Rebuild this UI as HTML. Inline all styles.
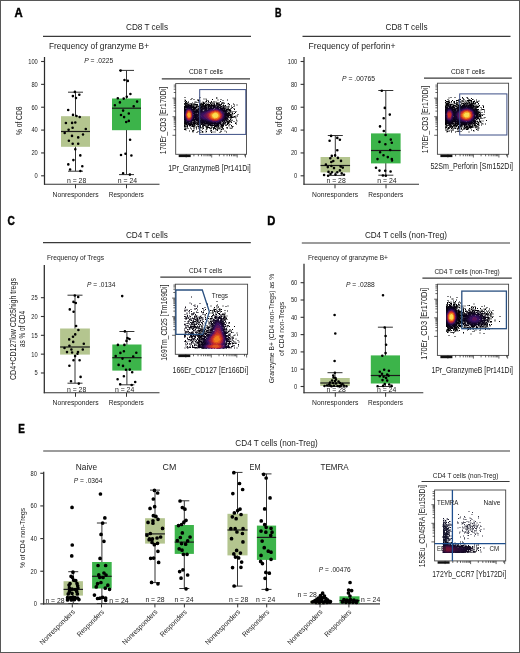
<!DOCTYPE html>
<html><head><meta charset="utf-8"><title>Figure</title>
<style>html,body{margin:0;padding:0;background:#fff;} body{width:520px;height:653px;overflow:hidden;font-family:"Liberation Sans", sans-serif;} svg{display:block;will-change:transform;}</style>
</head><body>
<svg width="520" height="653" viewBox="0 0 520 653" font-family='"Liberation Sans", sans-serif' fill="#222"><defs><filter id="bl" x="-50%" y="-50%" width="200%" height="200%"><feGaussianBlur stdDeviation="1.2"/></filter></defs>
<rect x="0.5" y="0.5" width="519" height="652" fill="none" stroke="#575757" stroke-width="1"/>
<text x="14.6" y="16.8" font-size="12" font-weight="bold" fill="#000" stroke="#000" stroke-width="0.45" textLength="8.2" lengthAdjust="spacingAndGlyphs">A</text>
<text x="274.9" y="16.8" font-size="12" font-weight="bold" fill="#000" stroke="#000" stroke-width="0.45" textLength="6.5" lengthAdjust="spacingAndGlyphs">B</text>
<text x="7.5" y="224.5" font-size="12" font-weight="bold" fill="#000" stroke="#000" stroke-width="0.45" textLength="7.3" lengthAdjust="spacingAndGlyphs">C</text>
<text x="267.2" y="224.5" font-size="12" font-weight="bold" fill="#000" stroke="#000" stroke-width="0.45" textLength="8.1" lengthAdjust="spacingAndGlyphs">D</text>
<text x="18.2" y="432.5" font-size="12" font-weight="bold" fill="#000" stroke="#000" stroke-width="0.45" textLength="6.6" lengthAdjust="spacingAndGlyphs">E</text>
<line x1="43.00" y1="36.40" x2="251.00" y2="36.40" stroke="#3a3a3a" stroke-width="1.2"/>
<text x="147.00" y="30.00" font-size="8.2" text-anchor="middle" textLength="42.00" lengthAdjust="spacingAndGlyphs">CD8 T cells</text>
<text x="49.00" y="49.40" font-size="8.4" textLength="100.00" lengthAdjust="spacingAndGlyphs">Frequency of granzyme B+</text>
<line x1="44.50" y1="57.00" x2="44.50" y2="184.80" stroke="#2a2a2a" stroke-width="1.25"/>
<line x1="41.10" y1="175.80" x2="44.50" y2="175.80" stroke="#333" stroke-width="1.1"/>
<text x="37.80" y="178.20" font-size="6.6" text-anchor="end" textLength="3.20" lengthAdjust="spacingAndGlyphs">0</text>
<line x1="41.10" y1="152.94" x2="44.50" y2="152.94" stroke="#333" stroke-width="1.1"/>
<text x="37.80" y="155.34" font-size="6.6" text-anchor="end" textLength="6.40" lengthAdjust="spacingAndGlyphs">20</text>
<line x1="41.10" y1="130.08" x2="44.50" y2="130.08" stroke="#333" stroke-width="1.1"/>
<text x="37.80" y="132.48" font-size="6.6" text-anchor="end" textLength="6.40" lengthAdjust="spacingAndGlyphs">40</text>
<line x1="41.10" y1="107.22" x2="44.50" y2="107.22" stroke="#333" stroke-width="1.1"/>
<text x="37.80" y="109.62" font-size="6.6" text-anchor="end" textLength="6.40" lengthAdjust="spacingAndGlyphs">60</text>
<line x1="41.10" y1="84.36" x2="44.50" y2="84.36" stroke="#333" stroke-width="1.1"/>
<text x="37.80" y="86.76" font-size="6.6" text-anchor="end" textLength="6.40" lengthAdjust="spacingAndGlyphs">80</text>
<line x1="41.10" y1="61.50" x2="44.50" y2="61.50" stroke="#333" stroke-width="1.1"/>
<text x="37.80" y="63.90" font-size="6.6" text-anchor="end" textLength="9.60" lengthAdjust="spacingAndGlyphs">100</text>
<line x1="44.00" y1="184.30" x2="159.50" y2="184.30" stroke="#333" stroke-width="1.1"/>
<line x1="75.50" y1="184.30" x2="75.50" y2="188.30" stroke="#333" stroke-width="1"/>
<line x1="126.50" y1="184.30" x2="126.50" y2="188.30" stroke="#333" stroke-width="1"/>
<text x="75.60" y="197.30" font-size="6.7" text-anchor="middle" textLength="46.20" lengthAdjust="spacingAndGlyphs">Nonresponders</text>
<text x="126.30" y="197.30" font-size="6.7" text-anchor="middle" textLength="35.00" lengthAdjust="spacingAndGlyphs">Responders</text>
<text x="22.10" y="120.80" font-size="9" text-anchor="middle" textLength="28.40" lengthAdjust="spacingAndGlyphs" transform="rotate(-90 22.10 120.80)">% of CD8</text>
<text x="84.20" y="63.30" font-size="6.8" textLength="29.00" lengthAdjust="spacingAndGlyphs"><tspan font-style="italic">P</tspan> = .0225</text>
<line x1="75.50" y1="92.20" x2="75.50" y2="171.20" stroke="#333" stroke-width="1"/>
<line x1="68.00" y1="92.20" x2="83.00" y2="92.20" stroke="#333" stroke-width="1"/>
<line x1="68.00" y1="171.20" x2="83.00" y2="171.20" stroke="#333" stroke-width="1"/>
<rect x="61.00" y="116.20" width="29.00" height="30.60" fill="#b4c58f"/>
<line x1="61.00" y1="131.50" x2="90.00" y2="131.50" stroke="#1a1a1a" stroke-width="1.2"/>
<line x1="126.50" y1="70.40" x2="126.50" y2="174.60" stroke="#333" stroke-width="1"/>
<line x1="119.00" y1="70.40" x2="134.00" y2="70.40" stroke="#333" stroke-width="1"/>
<line x1="119.00" y1="174.60" x2="134.00" y2="174.60" stroke="#333" stroke-width="1"/>
<rect x="112.00" y="98.50" width="29.00" height="31.70" fill="#3cb44a"/>
<line x1="112.00" y1="108.20" x2="141.00" y2="108.20" stroke="#1a1a1a" stroke-width="1.2"/>
<text x="76.60" y="182.80" font-size="6.8" text-anchor="middle" textLength="19.30" lengthAdjust="spacingAndGlyphs">n = 28</text>
<text x="127.50" y="182.80" font-size="6.8" text-anchor="middle" textLength="19.30" lengthAdjust="spacingAndGlyphs">n = 24</text>
<line x1="302.50" y1="36.40" x2="510.50" y2="36.40" stroke="#3a3a3a" stroke-width="1.2"/>
<text x="406.50" y="30.00" font-size="8.2" text-anchor="middle" textLength="42.00" lengthAdjust="spacingAndGlyphs">CD8 T cells</text>
<text x="308.50" y="49.40" font-size="8.4" textLength="87.00" lengthAdjust="spacingAndGlyphs">Frequency of perforin+</text>
<line x1="304.00" y1="57.00" x2="304.00" y2="184.80" stroke="#2a2a2a" stroke-width="1.25"/>
<line x1="300.60" y1="175.80" x2="304.00" y2="175.80" stroke="#333" stroke-width="1.1"/>
<text x="297.30" y="178.20" font-size="6.6" text-anchor="end" textLength="3.20" lengthAdjust="spacingAndGlyphs">0</text>
<line x1="300.60" y1="152.94" x2="304.00" y2="152.94" stroke="#333" stroke-width="1.1"/>
<text x="297.30" y="155.34" font-size="6.6" text-anchor="end" textLength="6.40" lengthAdjust="spacingAndGlyphs">20</text>
<line x1="300.60" y1="130.08" x2="304.00" y2="130.08" stroke="#333" stroke-width="1.1"/>
<text x="297.30" y="132.48" font-size="6.6" text-anchor="end" textLength="6.40" lengthAdjust="spacingAndGlyphs">40</text>
<line x1="300.60" y1="107.22" x2="304.00" y2="107.22" stroke="#333" stroke-width="1.1"/>
<text x="297.30" y="109.62" font-size="6.6" text-anchor="end" textLength="6.40" lengthAdjust="spacingAndGlyphs">60</text>
<line x1="300.60" y1="84.36" x2="304.00" y2="84.36" stroke="#333" stroke-width="1.1"/>
<text x="297.30" y="86.76" font-size="6.6" text-anchor="end" textLength="6.40" lengthAdjust="spacingAndGlyphs">80</text>
<line x1="300.60" y1="61.50" x2="304.00" y2="61.50" stroke="#333" stroke-width="1.1"/>
<text x="297.30" y="63.90" font-size="6.6" text-anchor="end" textLength="9.60" lengthAdjust="spacingAndGlyphs">100</text>
<line x1="303.50" y1="184.30" x2="419.00" y2="184.30" stroke="#333" stroke-width="1.1"/>
<line x1="335.00" y1="184.30" x2="335.00" y2="188.30" stroke="#333" stroke-width="1"/>
<line x1="386.00" y1="184.30" x2="386.00" y2="188.30" stroke="#333" stroke-width="1"/>
<text x="335.10" y="197.30" font-size="6.7" text-anchor="middle" textLength="46.20" lengthAdjust="spacingAndGlyphs">Nonresponders</text>
<text x="385.80" y="197.30" font-size="6.7" text-anchor="middle" textLength="35.00" lengthAdjust="spacingAndGlyphs">Responders</text>
<text x="281.60" y="120.80" font-size="9" text-anchor="middle" textLength="28.40" lengthAdjust="spacingAndGlyphs" transform="rotate(-90 281.60 120.80)">% of CD8</text>
<text x="342.00" y="80.50" font-size="6.8" textLength="33.00" lengthAdjust="spacingAndGlyphs"><tspan font-style="italic">P</tspan> = .00765</text>
<line x1="335.30" y1="135.50" x2="335.30" y2="175.40" stroke="#333" stroke-width="1"/>
<line x1="327.80" y1="135.50" x2="342.80" y2="135.50" stroke="#333" stroke-width="1"/>
<line x1="327.80" y1="175.40" x2="342.80" y2="175.40" stroke="#333" stroke-width="1"/>
<rect x="320.55" y="157.00" width="29.50" height="15.40" fill="#b4c58f"/>
<line x1="320.55" y1="165.50" x2="350.05" y2="165.50" stroke="#1a1a1a" stroke-width="1.2"/>
<line x1="385.80" y1="90.50" x2="385.80" y2="175.20" stroke="#333" stroke-width="1"/>
<line x1="378.30" y1="90.50" x2="393.30" y2="90.50" stroke="#333" stroke-width="1"/>
<line x1="378.30" y1="175.20" x2="393.30" y2="175.20" stroke="#333" stroke-width="1"/>
<rect x="371.00" y="133.40" width="29.60" height="30.00" fill="#3cb44a"/>
<line x1="371.00" y1="150.50" x2="400.60" y2="150.50" stroke="#1a1a1a" stroke-width="1.2"/>
<text x="336.10" y="182.80" font-size="6.8" text-anchor="middle" textLength="19.30" lengthAdjust="spacingAndGlyphs">n = 28</text>
<text x="387.00" y="182.80" font-size="6.8" text-anchor="middle" textLength="19.30" lengthAdjust="spacingAndGlyphs">n = 24</text>
<line x1="43.00" y1="242.60" x2="250.80" y2="242.60" stroke="#3a3a3a" stroke-width="1.2"/>
<text x="146.90" y="238.20" font-size="8.2" text-anchor="middle" textLength="42.00" lengthAdjust="spacingAndGlyphs">CD4 T cells</text>
<text x="47.00" y="259.60" font-size="6.6" textLength="57.00" lengthAdjust="spacingAndGlyphs">Frequency of Tregs</text>
<line x1="44.30" y1="265.00" x2="44.30" y2="393.30" stroke="#2a2a2a" stroke-width="1.25"/>
<line x1="40.90" y1="372.98" x2="44.30" y2="372.98" stroke="#333" stroke-width="1.1"/>
<text x="37.60" y="375.38" font-size="6.6" text-anchor="end" textLength="3.20" lengthAdjust="spacingAndGlyphs">5</text>
<line x1="40.90" y1="354.15" x2="44.30" y2="354.15" stroke="#333" stroke-width="1.1"/>
<text x="37.60" y="356.55" font-size="6.6" text-anchor="end" textLength="6.40" lengthAdjust="spacingAndGlyphs">10</text>
<line x1="40.90" y1="335.32" x2="44.30" y2="335.32" stroke="#333" stroke-width="1.1"/>
<text x="37.60" y="337.72" font-size="6.6" text-anchor="end" textLength="6.40" lengthAdjust="spacingAndGlyphs">15</text>
<line x1="40.90" y1="316.50" x2="44.30" y2="316.50" stroke="#333" stroke-width="1.1"/>
<text x="37.60" y="318.90" font-size="6.6" text-anchor="end" textLength="6.40" lengthAdjust="spacingAndGlyphs">20</text>
<line x1="40.90" y1="297.68" x2="44.30" y2="297.68" stroke="#333" stroke-width="1.1"/>
<text x="37.60" y="300.07" font-size="6.6" text-anchor="end" textLength="6.40" lengthAdjust="spacingAndGlyphs">25</text>
<line x1="43.80" y1="392.80" x2="159.50" y2="392.80" stroke="#333" stroke-width="1.1"/>
<line x1="75.50" y1="392.80" x2="75.50" y2="396.80" stroke="#333" stroke-width="1"/>
<line x1="126.50" y1="392.80" x2="126.50" y2="396.80" stroke="#333" stroke-width="1"/>
<text x="75.60" y="405.30" font-size="6.7" text-anchor="middle" textLength="46.20" lengthAdjust="spacingAndGlyphs">Nonresponders</text>
<text x="126.30" y="405.30" font-size="6.7" text-anchor="middle" textLength="35.00" lengthAdjust="spacingAndGlyphs">Responders</text>
<text x="16.10" y="329.00" font-size="8.2" text-anchor="middle" textLength="102.00" lengthAdjust="spacingAndGlyphs" transform="rotate(-90 16.10 329.00)">CD4+CD127low CD25high tregs</text>
<text x="25.30" y="329.00" font-size="8.2" text-anchor="middle" textLength="36.00" lengthAdjust="spacingAndGlyphs" transform="rotate(-90 25.30 329.00)">as % of CD4</text>
<text x="87.00" y="287.00" font-size="6.8" textLength="28.40" lengthAdjust="spacingAndGlyphs"><tspan font-style="italic">P</tspan> = .0134</text>
<line x1="75.00" y1="295.20" x2="75.00" y2="383.20" stroke="#333" stroke-width="1"/>
<line x1="67.50" y1="295.20" x2="82.50" y2="295.20" stroke="#333" stroke-width="1"/>
<line x1="67.50" y1="383.20" x2="82.50" y2="383.20" stroke="#333" stroke-width="1"/>
<rect x="60.10" y="328.50" width="29.80" height="26.10" fill="#b4c58f"/>
<line x1="60.10" y1="347.00" x2="89.90" y2="347.00" stroke="#1a1a1a" stroke-width="1.2"/>
<line x1="126.90" y1="331.50" x2="126.90" y2="384.80" stroke="#333" stroke-width="1"/>
<line x1="119.40" y1="331.50" x2="134.40" y2="331.50" stroke="#333" stroke-width="1"/>
<line x1="119.40" y1="384.80" x2="134.40" y2="384.80" stroke="#333" stroke-width="1"/>
<rect x="112.30" y="344.50" width="29.20" height="26.10" fill="#3cb44a"/>
<line x1="112.30" y1="357.70" x2="141.50" y2="357.70" stroke="#1a1a1a" stroke-width="1.2"/>
<text x="76.60" y="391.50" font-size="6.8" text-anchor="middle" textLength="19.30" lengthAdjust="spacingAndGlyphs">n = 28</text>
<text x="124.60" y="391.50" font-size="6.8" text-anchor="middle" textLength="19.30" lengthAdjust="spacingAndGlyphs">n = 24</text>
<line x1="301.80" y1="243.00" x2="510.00" y2="243.00" stroke="#3a3a3a" stroke-width="1.2"/>
<text x="405.90" y="238.20" font-size="8.2" text-anchor="middle" textLength="82.00" lengthAdjust="spacingAndGlyphs">CD4 T cells (non-Treg)</text>
<text x="308.00" y="260.20" font-size="6.6" textLength="80.00" lengthAdjust="spacingAndGlyphs">Frequency of granzyme B+</text>
<line x1="304.00" y1="263.80" x2="304.00" y2="393.30" stroke="#2a2a2a" stroke-width="1.25"/>
<line x1="300.60" y1="386.50" x2="304.00" y2="386.50" stroke="#333" stroke-width="1.1"/>
<text x="297.30" y="388.90" font-size="6.6" text-anchor="end" textLength="3.20" lengthAdjust="spacingAndGlyphs">0</text>
<line x1="300.60" y1="369.20" x2="304.00" y2="369.20" stroke="#333" stroke-width="1.1"/>
<text x="297.30" y="371.60" font-size="6.6" text-anchor="end" textLength="6.40" lengthAdjust="spacingAndGlyphs">10</text>
<line x1="300.60" y1="351.90" x2="304.00" y2="351.90" stroke="#333" stroke-width="1.1"/>
<text x="297.30" y="354.30" font-size="6.6" text-anchor="end" textLength="6.40" lengthAdjust="spacingAndGlyphs">20</text>
<line x1="300.60" y1="334.60" x2="304.00" y2="334.60" stroke="#333" stroke-width="1.1"/>
<text x="297.30" y="337.00" font-size="6.6" text-anchor="end" textLength="6.40" lengthAdjust="spacingAndGlyphs">30</text>
<line x1="300.60" y1="317.30" x2="304.00" y2="317.30" stroke="#333" stroke-width="1.1"/>
<text x="297.30" y="319.70" font-size="6.6" text-anchor="end" textLength="6.40" lengthAdjust="spacingAndGlyphs">40</text>
<line x1="300.60" y1="300.00" x2="304.00" y2="300.00" stroke="#333" stroke-width="1.1"/>
<text x="297.30" y="302.40" font-size="6.6" text-anchor="end" textLength="6.40" lengthAdjust="spacingAndGlyphs">50</text>
<line x1="300.60" y1="282.70" x2="304.00" y2="282.70" stroke="#333" stroke-width="1.1"/>
<text x="297.30" y="285.10" font-size="6.6" text-anchor="end" textLength="6.40" lengthAdjust="spacingAndGlyphs">60</text>
<line x1="303.50" y1="392.80" x2="423.30" y2="392.80" stroke="#333" stroke-width="1.1"/>
<line x1="335.30" y1="392.80" x2="335.30" y2="396.80" stroke="#333" stroke-width="1"/>
<line x1="385.60" y1="392.80" x2="385.60" y2="396.80" stroke="#333" stroke-width="1"/>
<text x="335.20" y="405.30" font-size="6.7" text-anchor="middle" textLength="46.40" lengthAdjust="spacingAndGlyphs">Nonresponders</text>
<text x="385.50" y="405.30" font-size="6.7" text-anchor="middle" textLength="35.00" lengthAdjust="spacingAndGlyphs">Responders</text>
<text x="274.40" y="328.50" font-size="7.6" text-anchor="middle" textLength="109.50" lengthAdjust="spacingAndGlyphs" transform="rotate(-90 274.40 328.50)">Granzyme B+ (CD4 non-Tregs) as %</text>
<text x="284.40" y="328.90" font-size="7.6" text-anchor="middle" textLength="54.00" lengthAdjust="spacingAndGlyphs" transform="rotate(-90 284.40 328.90)">of  CD4 non-Tregs</text>
<text x="346.00" y="287.30" font-size="6.8" textLength="28.80" lengthAdjust="spacingAndGlyphs"><tspan font-style="italic">P</tspan> = .0288</text>
<line x1="335.00" y1="372.70" x2="335.00" y2="386.50" stroke="#333" stroke-width="1"/>
<line x1="327.50" y1="372.70" x2="342.50" y2="372.70" stroke="#333" stroke-width="1"/>
<line x1="327.50" y1="386.50" x2="342.50" y2="386.50" stroke="#333" stroke-width="1"/>
<rect x="320.25" y="378.00" width="29.50" height="7.90" fill="#b4c58f"/>
<line x1="320.25" y1="383.00" x2="349.75" y2="383.00" stroke="#1a1a1a" stroke-width="1.2"/>
<line x1="385.40" y1="327.20" x2="385.40" y2="386.50" stroke="#333" stroke-width="1"/>
<line x1="377.90" y1="327.20" x2="392.90" y2="327.20" stroke="#333" stroke-width="1"/>
<line x1="377.90" y1="386.50" x2="392.90" y2="386.50" stroke="#333" stroke-width="1"/>
<rect x="370.80" y="355.40" width="29.20" height="28.10" fill="#3cb44a"/>
<line x1="370.80" y1="375.50" x2="400.00" y2="375.50" stroke="#1a1a1a" stroke-width="1.2"/>
<text x="336.20" y="392.20" font-size="6.8" text-anchor="middle" textLength="19.30" lengthAdjust="spacingAndGlyphs">n = 28</text>
<text x="386.60" y="392.20" font-size="6.8" text-anchor="middle" textLength="19.30" lengthAdjust="spacingAndGlyphs">n = 24</text>
<line x1="43.20" y1="451.00" x2="510.00" y2="451.00" stroke="#3a3a3a" stroke-width="1.2"/>
<text x="276.60" y="446.20" font-size="8.2" text-anchor="middle" textLength="82.50" lengthAdjust="spacingAndGlyphs">CD4 T cells (non-Treg)</text>
<line x1="43.70" y1="471.80" x2="43.70" y2="604.40" stroke="#2a2a2a" stroke-width="1.25"/>
<line x1="40.30" y1="603.90" x2="43.70" y2="603.90" stroke="#333" stroke-width="1.1"/>
<text x="37.00" y="606.30" font-size="6.6" text-anchor="end" textLength="3.20" lengthAdjust="spacingAndGlyphs">0</text>
<line x1="40.30" y1="571.24" x2="43.70" y2="571.24" stroke="#333" stroke-width="1.1"/>
<text x="37.00" y="573.64" font-size="6.6" text-anchor="end" textLength="6.40" lengthAdjust="spacingAndGlyphs">20</text>
<line x1="40.30" y1="538.58" x2="43.70" y2="538.58" stroke="#333" stroke-width="1.1"/>
<text x="37.00" y="540.98" font-size="6.6" text-anchor="end" textLength="6.40" lengthAdjust="spacingAndGlyphs">40</text>
<line x1="40.30" y1="505.92" x2="43.70" y2="505.92" stroke="#333" stroke-width="1.1"/>
<text x="37.00" y="508.32" font-size="6.6" text-anchor="end" textLength="6.40" lengthAdjust="spacingAndGlyphs">60</text>
<line x1="40.30" y1="473.26" x2="43.70" y2="473.26" stroke="#333" stroke-width="1.1"/>
<text x="37.00" y="475.66" font-size="6.6" text-anchor="end" textLength="6.40" lengthAdjust="spacingAndGlyphs">80</text>
<line x1="43.20" y1="603.90" x2="380.00" y2="603.90" stroke="#333" stroke-width="1.1"/>
<text x="86.40" y="470.30" font-size="8.2" text-anchor="middle" textLength="21.30" lengthAdjust="spacingAndGlyphs">Naive</text>
<text x="169.40" y="470.30" font-size="8.2" text-anchor="middle" textLength="13.70" lengthAdjust="spacingAndGlyphs">CM</text>
<text x="255.00" y="470.30" font-size="8.2" text-anchor="middle" textLength="11.00" lengthAdjust="spacingAndGlyphs">EM</text>
<text x="334.60" y="470.30" font-size="8.2" text-anchor="middle" textLength="28.25" lengthAdjust="spacingAndGlyphs">TEMRA</text>
<line x1="72.30" y1="603.90" x2="72.30" y2="607.40" stroke="#333" stroke-width="1"/>
<text x="75.30" y="612.40" font-size="7.1" text-anchor="end" textLength="46.40" lengthAdjust="spacingAndGlyphs" transform="rotate(-45 75.30 612.40)">Nonresponders</text>
<line x1="101.50" y1="603.90" x2="101.50" y2="607.40" stroke="#333" stroke-width="1"/>
<text x="104.50" y="612.40" font-size="7.1" text-anchor="end" textLength="35.00" lengthAdjust="spacingAndGlyphs" transform="rotate(-45 104.50 612.40)">Responders</text>
<line x1="154.90" y1="603.90" x2="154.90" y2="607.40" stroke="#333" stroke-width="1"/>
<text x="157.90" y="612.40" font-size="7.1" text-anchor="end" textLength="46.40" lengthAdjust="spacingAndGlyphs" transform="rotate(-45 157.90 612.40)">Nonresponders</text>
<line x1="184.40" y1="603.90" x2="184.40" y2="607.40" stroke="#333" stroke-width="1"/>
<text x="187.40" y="612.40" font-size="7.1" text-anchor="end" textLength="35.00" lengthAdjust="spacingAndGlyphs" transform="rotate(-45 187.40 612.40)">Responders</text>
<line x1="237.70" y1="603.90" x2="237.70" y2="607.40" stroke="#333" stroke-width="1"/>
<text x="240.70" y="612.40" font-size="7.1" text-anchor="end" textLength="46.40" lengthAdjust="spacingAndGlyphs" transform="rotate(-45 240.70 612.40)">Nonresponders</text>
<line x1="266.70" y1="603.90" x2="266.70" y2="607.40" stroke="#333" stroke-width="1"/>
<text x="269.70" y="612.40" font-size="7.1" text-anchor="end" textLength="35.00" lengthAdjust="spacingAndGlyphs" transform="rotate(-45 269.70 612.40)">Responders</text>
<line x1="320.00" y1="603.90" x2="320.00" y2="607.40" stroke="#333" stroke-width="1"/>
<text x="323.00" y="612.40" font-size="7.1" text-anchor="end" textLength="46.40" lengthAdjust="spacingAndGlyphs" transform="rotate(-45 323.00 612.40)">Nonresponders</text>
<line x1="348.90" y1="603.90" x2="348.90" y2="607.40" stroke="#333" stroke-width="1"/>
<text x="351.90" y="612.40" font-size="7.1" text-anchor="end" textLength="35.00" lengthAdjust="spacingAndGlyphs" transform="rotate(-45 351.90 612.40)">Responders</text>
<text x="24.60" y="538.00" font-size="7.6" text-anchor="middle" textLength="60.00" lengthAdjust="spacingAndGlyphs" transform="rotate(-90 24.60 538.00)">% of CD4 non-Tregs</text>
<text x="73.80" y="483.40" font-size="6.8" textLength="28.60" lengthAdjust="spacingAndGlyphs"><tspan font-style="italic">P</tspan> = .0364</text>
<text x="318.75" y="571.80" font-size="6.8" textLength="32.00" lengthAdjust="spacingAndGlyphs"><tspan font-style="italic">P</tspan> = .00476</text>
<line x1="73.25" y1="571.70" x2="73.25" y2="603.50" stroke="#333" stroke-width="1"/>
<line x1="68.25" y1="571.70" x2="78.25" y2="571.70" stroke="#333" stroke-width="1"/>
<line x1="68.25" y1="603.50" x2="78.25" y2="603.50" stroke="#333" stroke-width="1"/>
<rect x="63.55" y="581.20" width="19.40" height="14.40" fill="#b4c58f"/>
<line x1="63.55" y1="589.40" x2="82.95" y2="589.40" stroke="#1a1a1a" stroke-width="1.2"/>
<line x1="101.90" y1="523.00" x2="101.90" y2="603.50" stroke="#333" stroke-width="1"/>
<line x1="96.90" y1="523.00" x2="106.90" y2="523.00" stroke="#333" stroke-width="1"/>
<line x1="96.90" y1="603.50" x2="106.90" y2="603.50" stroke="#333" stroke-width="1"/>
<rect x="92.10" y="562.00" width="19.60" height="26.50" fill="#3cb44a"/>
<line x1="92.10" y1="576.30" x2="111.70" y2="576.30" stroke="#1a1a1a" stroke-width="1.2"/>
<line x1="155.00" y1="490.10" x2="155.00" y2="582.60" stroke="#333" stroke-width="1"/>
<line x1="150.00" y1="490.10" x2="160.00" y2="490.10" stroke="#333" stroke-width="1"/>
<line x1="150.00" y1="582.60" x2="160.00" y2="582.60" stroke="#333" stroke-width="1"/>
<rect x="145.10" y="518.20" width="19.80" height="25.40" fill="#b4c58f"/>
<line x1="145.10" y1="533.90" x2="164.90" y2="533.90" stroke="#1a1a1a" stroke-width="1.2"/>
<line x1="184.30" y1="500.80" x2="184.30" y2="588.50" stroke="#333" stroke-width="1"/>
<line x1="179.30" y1="500.80" x2="189.30" y2="500.80" stroke="#333" stroke-width="1"/>
<line x1="179.30" y1="588.50" x2="189.30" y2="588.50" stroke="#333" stroke-width="1"/>
<rect x="174.70" y="525.00" width="19.20" height="28.90" fill="#3cb44a"/>
<line x1="174.70" y1="542.10" x2="193.90" y2="542.10" stroke="#1a1a1a" stroke-width="1.2"/>
<line x1="237.50" y1="472.40" x2="237.50" y2="586.10" stroke="#333" stroke-width="1"/>
<line x1="232.50" y1="472.40" x2="242.50" y2="472.40" stroke="#333" stroke-width="1"/>
<line x1="232.50" y1="586.10" x2="242.50" y2="586.10" stroke="#333" stroke-width="1"/>
<rect x="227.45" y="513.80" width="20.10" height="41.60" fill="#b4c58f"/>
<line x1="227.45" y1="530.00" x2="247.55" y2="530.00" stroke="#1a1a1a" stroke-width="1.2"/>
<line x1="266.50" y1="473.90" x2="266.50" y2="589.40" stroke="#333" stroke-width="1"/>
<line x1="261.50" y1="473.90" x2="271.50" y2="473.90" stroke="#333" stroke-width="1"/>
<line x1="261.50" y1="589.40" x2="271.50" y2="589.40" stroke="#333" stroke-width="1"/>
<rect x="256.90" y="525.60" width="19.20" height="34.30" fill="#3cb44a"/>
<line x1="256.90" y1="537.40" x2="276.10" y2="537.40" stroke="#1a1a1a" stroke-width="1.2"/>
<line x1="320.20" y1="598.00" x2="320.20" y2="603.90" stroke="#333" stroke-width="1"/>
<line x1="315.20" y1="598.00" x2="325.20" y2="598.00" stroke="#333" stroke-width="1"/>
<line x1="315.20" y1="603.90" x2="325.20" y2="603.90" stroke="#333" stroke-width="1"/>
<rect x="310.40" y="600.50" width="19.60" height="2.90" fill="#b4c58f"/>
<line x1="310.40" y1="602.00" x2="330.00" y2="602.00" stroke="#1a1a1a" stroke-width="1.2"/>
<line x1="349.50" y1="596.30" x2="349.50" y2="603.90" stroke="#333" stroke-width="1"/>
<line x1="349.50" y1="596.30" x2="349.50" y2="596.30" stroke="#333" stroke-width="1"/>
<line x1="349.50" y1="603.90" x2="349.50" y2="603.90" stroke="#333" stroke-width="1"/>
<rect x="339.50" y="596.30" width="20.00" height="7.10" fill="#3cb44a"/>
<line x1="339.50" y1="600.50" x2="359.50" y2="600.50" stroke="#1a1a1a" stroke-width="1.2"/>
<text x="55.00" y="602.60" font-size="6.8" text-anchor="middle" textLength="19.20" lengthAdjust="spacingAndGlyphs">n = 28</text>
<text x="118.90" y="602.60" font-size="6.8" text-anchor="middle" textLength="19.20" lengthAdjust="spacingAndGlyphs">n = 24</text>
<text x="155.00" y="601.60" font-size="6.8" text-anchor="middle" textLength="19.20" lengthAdjust="spacingAndGlyphs">n = 28</text>
<text x="184.00" y="601.60" font-size="6.8" text-anchor="middle" textLength="19.20" lengthAdjust="spacingAndGlyphs">n = 24</text>
<text x="238.60" y="601.60" font-size="6.8" text-anchor="middle" textLength="19.20" lengthAdjust="spacingAndGlyphs">n = 28</text>
<text x="265.60" y="601.60" font-size="6.8" text-anchor="middle" textLength="19.20" lengthAdjust="spacingAndGlyphs">n = 24</text>
<text x="307.20" y="596.70" font-size="6.8" text-anchor="middle" textLength="19.20" lengthAdjust="spacingAndGlyphs">n = 28</text>
<text x="370.60" y="602.20" font-size="6.8" text-anchor="middle" textLength="19.20" lengthAdjust="spacingAndGlyphs">n = 24</text>
<path d="M73.6 91.9a1.3 1.3 0 1 0 2.60 0a1.3 1.3 0 1 0 -2.60 0M78.0 94.7a1.3 1.3 0 1 0 2.60 0a1.3 1.3 0 1 0 -2.60 0M71.6 96.1a1.3 1.3 0 1 0 2.60 0a1.3 1.3 0 1 0 -2.60 0M74.7 98.0a1.3 1.3 0 1 0 2.60 0a1.3 1.3 0 1 0 -2.60 0M66.9 110.0a1.3 1.3 0 1 0 2.60 0a1.3 1.3 0 1 0 -2.60 0M71.7 114.9a1.3 1.3 0 1 0 2.60 0a1.3 1.3 0 1 0 -2.60 0M75.2 116.0a1.3 1.3 0 1 0 2.60 0a1.3 1.3 0 1 0 -2.60 0M78.4 117.0a1.3 1.3 0 1 0 2.60 0a1.3 1.3 0 1 0 -2.60 0M64.6 123.0a1.3 1.3 0 1 0 2.60 0a1.3 1.3 0 1 0 -2.60 0M70.8 122.9a1.3 1.3 0 1 0 2.60 0a1.3 1.3 0 1 0 -2.60 0M74.0 122.5a1.3 1.3 0 1 0 2.60 0a1.3 1.3 0 1 0 -2.60 0M71.3 127.8a1.3 1.3 0 1 0 2.60 0a1.3 1.3 0 1 0 -2.60 0M67.3 129.8a1.3 1.3 0 1 0 2.60 0a1.3 1.3 0 1 0 -2.60 0M84.5 129.0a1.3 1.3 0 1 0 2.60 0a1.3 1.3 0 1 0 -2.60 0M63.4 133.0a1.3 1.3 0 1 0 2.60 0a1.3 1.3 0 1 0 -2.60 0M81.7 134.5a1.3 1.3 0 1 0 2.60 0a1.3 1.3 0 1 0 -2.60 0M70.7 135.9a1.3 1.3 0 1 0 2.60 0a1.3 1.3 0 1 0 -2.60 0M76.9 137.4a1.3 1.3 0 1 0 2.60 0a1.3 1.3 0 1 0 -2.60 0M67.6 140.7a1.3 1.3 0 1 0 2.60 0a1.3 1.3 0 1 0 -2.60 0M71.4 143.8a1.3 1.3 0 1 0 2.60 0a1.3 1.3 0 1 0 -2.60 0M76.9 143.8a1.3 1.3 0 1 0 2.60 0a1.3 1.3 0 1 0 -2.60 0M74.0 149.3a1.3 1.3 0 1 0 2.60 0a1.3 1.3 0 1 0 -2.60 0M79.0 155.4a1.3 1.3 0 1 0 2.60 0a1.3 1.3 0 1 0 -2.60 0M72.1 160.1a1.3 1.3 0 1 0 2.60 0a1.3 1.3 0 1 0 -2.60 0M67.0 164.4a1.3 1.3 0 1 0 2.60 0a1.3 1.3 0 1 0 -2.60 0M81.0 166.2a1.3 1.3 0 1 0 2.60 0a1.3 1.3 0 1 0 -2.60 0M68.8 169.5a1.3 1.3 0 1 0 2.60 0a1.3 1.3 0 1 0 -2.60 0M79.1 171.0a1.3 1.3 0 1 0 2.60 0a1.3 1.3 0 1 0 -2.60 0" fill="#000"/>
<path d="M119.3 70.6a1.3 1.3 0 1 0 2.60 0a1.3 1.3 0 1 0 -2.60 0M123.2 80.0a1.3 1.3 0 1 0 2.60 0a1.3 1.3 0 1 0 -2.60 0M126.5 80.9a1.3 1.3 0 1 0 2.60 0a1.3 1.3 0 1 0 -2.60 0M129.1 94.0a1.3 1.3 0 1 0 2.60 0a1.3 1.3 0 1 0 -2.60 0M125.5 96.8a1.3 1.3 0 1 0 2.60 0a1.3 1.3 0 1 0 -2.60 0M116.5 98.2a1.3 1.3 0 1 0 2.60 0a1.3 1.3 0 1 0 -2.60 0M122.4 98.6a1.3 1.3 0 1 0 2.60 0a1.3 1.3 0 1 0 -2.60 0M118.6 102.4a1.3 1.3 0 1 0 2.60 0a1.3 1.3 0 1 0 -2.60 0M135.8 101.6a1.3 1.3 0 1 0 2.60 0a1.3 1.3 0 1 0 -2.60 0M113.6 105.3a1.3 1.3 0 1 0 2.60 0a1.3 1.3 0 1 0 -2.60 0M132.4 106.2a1.3 1.3 0 1 0 2.60 0a1.3 1.3 0 1 0 -2.60 0M121.8 110.6a1.3 1.3 0 1 0 2.60 0a1.3 1.3 0 1 0 -2.60 0M127.5 113.5a1.3 1.3 0 1 0 2.60 0a1.3 1.3 0 1 0 -2.60 0M119.7 115.0a1.3 1.3 0 1 0 2.60 0a1.3 1.3 0 1 0 -2.60 0M122.8 117.1a1.3 1.3 0 1 0 2.60 0a1.3 1.3 0 1 0 -2.60 0M124.9 122.0a1.3 1.3 0 1 0 2.60 0a1.3 1.3 0 1 0 -2.60 0M127.5 120.9a1.3 1.3 0 1 0 2.60 0a1.3 1.3 0 1 0 -2.60 0M128.8 139.7a1.3 1.3 0 1 0 2.60 0a1.3 1.3 0 1 0 -2.60 0M119.7 155.0a1.3 1.3 0 1 0 2.60 0a1.3 1.3 0 1 0 -2.60 0M124.2 153.8a1.3 1.3 0 1 0 2.60 0a1.3 1.3 0 1 0 -2.60 0M130.1 155.5a1.3 1.3 0 1 0 2.60 0a1.3 1.3 0 1 0 -2.60 0M121.8 173.3a1.3 1.3 0 1 0 2.60 0a1.3 1.3 0 1 0 -2.60 0M128.6 174.6a1.3 1.3 0 1 0 2.60 0a1.3 1.3 0 1 0 -2.60 0" fill="#000"/>
<path d="M329.8 135.9a1.3 1.3 0 1 0 2.60 0a1.3 1.3 0 1 0 -2.60 0M336.0 137.9a1.3 1.3 0 1 0 2.60 0a1.3 1.3 0 1 0 -2.60 0M338.6 139.7a1.3 1.3 0 1 0 2.60 0a1.3 1.3 0 1 0 -2.60 0M328.3 140.7a1.3 1.3 0 1 0 2.60 0a1.3 1.3 0 1 0 -2.60 0M336.0 150.2a1.3 1.3 0 1 0 2.60 0a1.3 1.3 0 1 0 -2.60 0M330.5 155.9a1.3 1.3 0 1 0 2.60 0a1.3 1.3 0 1 0 -2.60 0M333.8 155.4a1.3 1.3 0 1 0 2.60 0a1.3 1.3 0 1 0 -2.60 0M329.0 158.3a1.3 1.3 0 1 0 2.60 0a1.3 1.3 0 1 0 -2.60 0M336.6 157.9a1.3 1.3 0 1 0 2.60 0a1.3 1.3 0 1 0 -2.60 0M330.0 162.0a1.3 1.3 0 1 0 2.60 0a1.3 1.3 0 1 0 -2.60 0M332.0 161.0a1.3 1.3 0 1 0 2.60 0a1.3 1.3 0 1 0 -2.60 0M339.7 160.9a1.3 1.3 0 1 0 2.60 0a1.3 1.3 0 1 0 -2.60 0M324.6 164.6a1.3 1.3 0 1 0 2.60 0a1.3 1.3 0 1 0 -2.60 0M326.5 167.1a1.3 1.3 0 1 0 2.60 0a1.3 1.3 0 1 0 -2.60 0M330.1 166.0a1.3 1.3 0 1 0 2.60 0a1.3 1.3 0 1 0 -2.60 0M332.7 168.1a1.3 1.3 0 1 0 2.60 0a1.3 1.3 0 1 0 -2.60 0M339.3 166.4a1.3 1.3 0 1 0 2.60 0a1.3 1.3 0 1 0 -2.60 0M341.5 167.6a1.3 1.3 0 1 0 2.60 0a1.3 1.3 0 1 0 -2.60 0M327.2 171.9a1.3 1.3 0 1 0 2.60 0a1.3 1.3 0 1 0 -2.60 0M330.7 172.3a1.3 1.3 0 1 0 2.60 0a1.3 1.3 0 1 0 -2.60 0M336.0 172.3a1.3 1.3 0 1 0 2.60 0a1.3 1.3 0 1 0 -2.60 0M338.6 170.4a1.3 1.3 0 1 0 2.60 0a1.3 1.3 0 1 0 -2.60 0M340.4 173.4a1.3 1.3 0 1 0 2.60 0a1.3 1.3 0 1 0 -2.60 0M322.8 175.0a1.3 1.3 0 1 0 2.60 0a1.3 1.3 0 1 0 -2.60 0M326.8 175.7a1.3 1.3 0 1 0 2.60 0a1.3 1.3 0 1 0 -2.60 0M334.2 174.6a1.3 1.3 0 1 0 2.60 0a1.3 1.3 0 1 0 -2.60 0M342.7 174.8a1.3 1.3 0 1 0 2.60 0a1.3 1.3 0 1 0 -2.60 0M329.2 174.0a1.3 1.3 0 1 0 2.60 0a1.3 1.3 0 1 0 -2.60 0" fill="#000"/>
<path d="M380.5 90.8a1.3 1.3 0 1 0 2.60 0a1.3 1.3 0 1 0 -2.60 0M383.5 107.9a1.3 1.3 0 1 0 2.60 0a1.3 1.3 0 1 0 -2.60 0M388.5 114.6a1.3 1.3 0 1 0 2.60 0a1.3 1.3 0 1 0 -2.60 0M382.4 118.2a1.3 1.3 0 1 0 2.60 0a1.3 1.3 0 1 0 -2.60 0M378.7 126.4a1.3 1.3 0 1 0 2.60 0a1.3 1.3 0 1 0 -2.60 0M382.5 131.0a1.3 1.3 0 1 0 2.60 0a1.3 1.3 0 1 0 -2.60 0M384.3 135.0a1.3 1.3 0 1 0 2.60 0a1.3 1.3 0 1 0 -2.60 0M389.5 139.6a1.3 1.3 0 1 0 2.60 0a1.3 1.3 0 1 0 -2.60 0M378.2 141.9a1.3 1.3 0 1 0 2.60 0a1.3 1.3 0 1 0 -2.60 0M390.5 142.7a1.3 1.3 0 1 0 2.60 0a1.3 1.3 0 1 0 -2.60 0M384.1 144.2a1.3 1.3 0 1 0 2.60 0a1.3 1.3 0 1 0 -2.60 0M388.9 150.0a1.3 1.3 0 1 0 2.60 0a1.3 1.3 0 1 0 -2.60 0M378.8 152.3a1.3 1.3 0 1 0 2.60 0a1.3 1.3 0 1 0 -2.60 0M382.2 155.2a1.3 1.3 0 1 0 2.60 0a1.3 1.3 0 1 0 -2.60 0M386.5 157.1a1.3 1.3 0 1 0 2.60 0a1.3 1.3 0 1 0 -2.60 0M376.2 159.1a1.3 1.3 0 1 0 2.60 0a1.3 1.3 0 1 0 -2.60 0M390.5 159.1a1.3 1.3 0 1 0 2.60 0a1.3 1.3 0 1 0 -2.60 0M390.7 160.5a1.3 1.3 0 1 0 2.60 0a1.3 1.3 0 1 0 -2.60 0M374.7 167.8a1.3 1.3 0 1 0 2.60 0a1.3 1.3 0 1 0 -2.60 0M378.2 170.6a1.3 1.3 0 1 0 2.60 0a1.3 1.3 0 1 0 -2.60 0M383.9 170.8a1.3 1.3 0 1 0 2.60 0a1.3 1.3 0 1 0 -2.60 0M389.3 171.5a1.3 1.3 0 1 0 2.60 0a1.3 1.3 0 1 0 -2.60 0M381.6 175.5a1.3 1.3 0 1 0 2.60 0a1.3 1.3 0 1 0 -2.60 0M384.5 175.8a1.3 1.3 0 1 0 2.60 0a1.3 1.3 0 1 0 -2.60 0" fill="#000"/>
<path d="M73.5 295.5a1.3 1.3 0 1 0 2.60 0a1.3 1.3 0 1 0 -2.60 0M76.9 297.0a1.3 1.3 0 1 0 2.60 0a1.3 1.3 0 1 0 -2.60 0M72.2 301.9a1.3 1.3 0 1 0 2.60 0a1.3 1.3 0 1 0 -2.60 0M74.5 303.0a1.3 1.3 0 1 0 2.60 0a1.3 1.3 0 1 0 -2.60 0M68.5 309.4a1.3 1.3 0 1 0 2.60 0a1.3 1.3 0 1 0 -2.60 0M72.3 311.8a1.3 1.3 0 1 0 2.60 0a1.3 1.3 0 1 0 -2.60 0M74.8 326.0a1.3 1.3 0 1 0 2.60 0a1.3 1.3 0 1 0 -2.60 0M77.1 330.0a1.3 1.3 0 1 0 2.60 0a1.3 1.3 0 1 0 -2.60 0M73.9 334.4a1.3 1.3 0 1 0 2.60 0a1.3 1.3 0 1 0 -2.60 0M71.7 336.7a1.3 1.3 0 1 0 2.60 0a1.3 1.3 0 1 0 -2.60 0M67.9 339.4a1.3 1.3 0 1 0 2.60 0a1.3 1.3 0 1 0 -2.60 0M71.9 341.9a1.3 1.3 0 1 0 2.60 0a1.3 1.3 0 1 0 -2.60 0M82.5 343.8a1.3 1.3 0 1 0 2.60 0a1.3 1.3 0 1 0 -2.60 0M68.1 345.7a1.3 1.3 0 1 0 2.60 0a1.3 1.3 0 1 0 -2.60 0M63.2 348.0a1.3 1.3 0 1 0 2.60 0a1.3 1.3 0 1 0 -2.60 0M70.1 349.5a1.3 1.3 0 1 0 2.60 0a1.3 1.3 0 1 0 -2.60 0M81.5 349.5a1.3 1.3 0 1 0 2.60 0a1.3 1.3 0 1 0 -2.60 0M65.7 352.1a1.3 1.3 0 1 0 2.60 0a1.3 1.3 0 1 0 -2.60 0M70.8 352.5a1.3 1.3 0 1 0 2.60 0a1.3 1.3 0 1 0 -2.60 0M76.7 352.1a1.3 1.3 0 1 0 2.60 0a1.3 1.3 0 1 0 -2.60 0M76.2 353.7a1.3 1.3 0 1 0 2.60 0a1.3 1.3 0 1 0 -2.60 0M73.8 356.1a1.3 1.3 0 1 0 2.60 0a1.3 1.3 0 1 0 -2.60 0M72.2 360.2a1.3 1.3 0 1 0 2.60 0a1.3 1.3 0 1 0 -2.60 0M78.3 360.2a1.3 1.3 0 1 0 2.60 0a1.3 1.3 0 1 0 -2.60 0M68.1 365.7a1.3 1.3 0 1 0 2.60 0a1.3 1.3 0 1 0 -2.60 0M79.3 376.9a1.3 1.3 0 1 0 2.60 0a1.3 1.3 0 1 0 -2.60 0M69.7 381.3a1.3 1.3 0 1 0 2.60 0a1.3 1.3 0 1 0 -2.60 0M77.5 383.6a1.3 1.3 0 1 0 2.60 0a1.3 1.3 0 1 0 -2.60 0" fill="#000"/>
<path d="M120.9 296.1a1.3 1.3 0 1 0 2.60 0a1.3 1.3 0 1 0 -2.60 0M123.6 331.4a1.3 1.3 0 1 0 2.60 0a1.3 1.3 0 1 0 -2.60 0M126.2 338.1a1.3 1.3 0 1 0 2.60 0a1.3 1.3 0 1 0 -2.60 0M128.2 339.0a1.3 1.3 0 1 0 2.60 0a1.3 1.3 0 1 0 -2.60 0M125.2 340.9a1.3 1.3 0 1 0 2.60 0a1.3 1.3 0 1 0 -2.60 0M116.6 344.9a1.3 1.3 0 1 0 2.60 0a1.3 1.3 0 1 0 -2.60 0M123.1 344.9a1.3 1.3 0 1 0 2.60 0a1.3 1.3 0 1 0 -2.60 0M122.6 351.3a1.3 1.3 0 1 0 2.60 0a1.3 1.3 0 1 0 -2.60 0M119.1 352.9a1.3 1.3 0 1 0 2.60 0a1.3 1.3 0 1 0 -2.60 0M135.0 352.7a1.3 1.3 0 1 0 2.60 0a1.3 1.3 0 1 0 -2.60 0M114.4 356.1a1.3 1.3 0 1 0 2.60 0a1.3 1.3 0 1 0 -2.60 0M131.9 356.5a1.3 1.3 0 1 0 2.60 0a1.3 1.3 0 1 0 -2.60 0M121.2 358.6a1.3 1.3 0 1 0 2.60 0a1.3 1.3 0 1 0 -2.60 0M128.5 361.0a1.3 1.3 0 1 0 2.60 0a1.3 1.3 0 1 0 -2.60 0M117.3 364.9a1.3 1.3 0 1 0 2.60 0a1.3 1.3 0 1 0 -2.60 0M121.7 365.9a1.3 1.3 0 1 0 2.60 0a1.3 1.3 0 1 0 -2.60 0M124.7 369.8a1.3 1.3 0 1 0 2.60 0a1.3 1.3 0 1 0 -2.60 0M128.5 369.6a1.3 1.3 0 1 0 2.60 0a1.3 1.3 0 1 0 -2.60 0M130.9 372.2a1.3 1.3 0 1 0 2.60 0a1.3 1.3 0 1 0 -2.60 0M122.6 376.3a1.3 1.3 0 1 0 2.60 0a1.3 1.3 0 1 0 -2.60 0M116.3 379.3a1.3 1.3 0 1 0 2.60 0a1.3 1.3 0 1 0 -2.60 0M133.9 382.0a1.3 1.3 0 1 0 2.60 0a1.3 1.3 0 1 0 -2.60 0M118.9 384.2a1.3 1.3 0 1 0 2.60 0a1.3 1.3 0 1 0 -2.60 0M130.4 385.0a1.3 1.3 0 1 0 2.60 0a1.3 1.3 0 1 0 -2.60 0" fill="#000"/>
<path d="M333.3 315.0a1.3 1.3 0 1 0 2.60 0a1.3 1.3 0 1 0 -2.60 0M334.0 333.5a1.3 1.3 0 1 0 2.60 0a1.3 1.3 0 1 0 -2.60 0M333.3 361.0a1.3 1.3 0 1 0 2.60 0a1.3 1.3 0 1 0 -2.60 0M333.6 372.8a1.3 1.3 0 1 0 2.60 0a1.3 1.3 0 1 0 -2.60 0M331.9 375.5a1.3 1.3 0 1 0 2.60 0a1.3 1.3 0 1 0 -2.60 0M334.2 378.0a1.3 1.3 0 1 0 2.60 0a1.3 1.3 0 1 0 -2.60 0M334.7 379.5a1.3 1.3 0 1 0 2.60 0a1.3 1.3 0 1 0 -2.60 0M332.2 377.5a1.3 1.3 0 1 0 2.60 0a1.3 1.3 0 1 0 -2.60 0M330.7 380.5a1.3 1.3 0 1 0 2.60 0a1.3 1.3 0 1 0 -2.60 0M333.7 381.0a1.3 1.3 0 1 0 2.60 0a1.3 1.3 0 1 0 -2.60 0M337.2 381.5a1.3 1.3 0 1 0 2.60 0a1.3 1.3 0 1 0 -2.60 0M328.7 382.5a1.3 1.3 0 1 0 2.60 0a1.3 1.3 0 1 0 -2.60 0M331.7 383.0a1.3 1.3 0 1 0 2.60 0a1.3 1.3 0 1 0 -2.60 0M334.7 383.5a1.3 1.3 0 1 0 2.60 0a1.3 1.3 0 1 0 -2.60 0M338.7 383.0a1.3 1.3 0 1 0 2.60 0a1.3 1.3 0 1 0 -2.60 0M325.7 385.5a1.3 1.3 0 1 0 2.60 0a1.3 1.3 0 1 0 -2.60 0M329.2 385.5a1.3 1.3 0 1 0 2.60 0a1.3 1.3 0 1 0 -2.60 0M332.7 385.8a1.3 1.3 0 1 0 2.60 0a1.3 1.3 0 1 0 -2.60 0M336.2 386.0a1.3 1.3 0 1 0 2.60 0a1.3 1.3 0 1 0 -2.60 0M339.7 385.5a1.3 1.3 0 1 0 2.60 0a1.3 1.3 0 1 0 -2.60 0M342.7 385.8a1.3 1.3 0 1 0 2.60 0a1.3 1.3 0 1 0 -2.60 0M327.7 384.5a1.3 1.3 0 1 0 2.60 0a1.3 1.3 0 1 0 -2.60 0M341.2 384.0a1.3 1.3 0 1 0 2.60 0a1.3 1.3 0 1 0 -2.60 0M323.2 386.0a1.3 1.3 0 1 0 2.60 0a1.3 1.3 0 1 0 -2.60 0M345.2 386.2a1.3 1.3 0 1 0 2.60 0a1.3 1.3 0 1 0 -2.60 0M330.2 386.3a1.3 1.3 0 1 0 2.60 0a1.3 1.3 0 1 0 -2.60 0M338.2 386.2a1.3 1.3 0 1 0 2.60 0a1.3 1.3 0 1 0 -2.60 0" fill="#000"/>
<path d="M381.7 295.2a1.3 1.3 0 1 0 2.60 0a1.3 1.3 0 1 0 -2.60 0M383.4 327.5a1.3 1.3 0 1 0 2.60 0a1.3 1.3 0 1 0 -2.60 0M384.3 336.0a1.3 1.3 0 1 0 2.60 0a1.3 1.3 0 1 0 -2.60 0M384.8 344.8a1.3 1.3 0 1 0 2.60 0a1.3 1.3 0 1 0 -2.60 0M384.3 353.1a1.3 1.3 0 1 0 2.60 0a1.3 1.3 0 1 0 -2.60 0M381.0 355.8a1.3 1.3 0 1 0 2.60 0a1.3 1.3 0 1 0 -2.60 0M382.9 369.8a1.3 1.3 0 1 0 2.60 0a1.3 1.3 0 1 0 -2.60 0M387.6 370.7a1.3 1.3 0 1 0 2.60 0a1.3 1.3 0 1 0 -2.60 0M380.7 373.8a1.3 1.3 0 1 0 2.60 0a1.3 1.3 0 1 0 -2.60 0M385.9 374.6a1.3 1.3 0 1 0 2.60 0a1.3 1.3 0 1 0 -2.60 0M378.5 376.2a1.3 1.3 0 1 0 2.60 0a1.3 1.3 0 1 0 -2.60 0M382.3 376.8a1.3 1.3 0 1 0 2.60 0a1.3 1.3 0 1 0 -2.60 0M387.3 375.7a1.3 1.3 0 1 0 2.60 0a1.3 1.3 0 1 0 -2.60 0M384.8 377.9a1.3 1.3 0 1 0 2.60 0a1.3 1.3 0 1 0 -2.60 0M381.2 380.1a1.3 1.3 0 1 0 2.60 0a1.3 1.3 0 1 0 -2.60 0M385.9 380.6a1.3 1.3 0 1 0 2.60 0a1.3 1.3 0 1 0 -2.60 0M383.4 384.0a1.3 1.3 0 1 0 2.60 0a1.3 1.3 0 1 0 -2.60 0M387.9 384.5a1.3 1.3 0 1 0 2.60 0a1.3 1.3 0 1 0 -2.60 0M376.3 386.2a1.3 1.3 0 1 0 2.60 0a1.3 1.3 0 1 0 -2.60 0M381.8 385.9a1.3 1.3 0 1 0 2.60 0a1.3 1.3 0 1 0 -2.60 0M390.3 385.9a1.3 1.3 0 1 0 2.60 0a1.3 1.3 0 1 0 -2.60 0M378.5 371.8a1.3 1.3 0 1 0 2.60 0a1.3 1.3 0 1 0 -2.60 0" fill="#000"/>
<path d="M70.2 507.4a1.85 1.85 0 1 0 3.70 0a1.85 1.85 0 1 0 -3.70 0M70.4 545.0a1.85 1.85 0 1 0 3.70 0a1.85 1.85 0 1 0 -3.70 0M69.9 555.9a1.85 1.85 0 1 0 3.70 0a1.85 1.85 0 1 0 -3.70 0M71.1 572.2a1.85 1.85 0 1 0 3.70 0a1.85 1.85 0 1 0 -3.70 0M69.2 576.3a1.85 1.85 0 1 0 3.70 0a1.85 1.85 0 1 0 -3.70 0M70.5 577.3a1.85 1.85 0 1 0 3.70 0a1.85 1.85 0 1 0 -3.70 0M71.7 580.1a1.85 1.85 0 1 0 3.70 0a1.85 1.85 0 1 0 -3.70 0M73.9 580.7a1.85 1.85 0 1 0 3.70 0a1.85 1.85 0 1 0 -3.70 0M68.2 583.6a1.85 1.85 0 1 0 3.70 0a1.85 1.85 0 1 0 -3.70 0M75.2 583.6a1.85 1.85 0 1 0 3.70 0a1.85 1.85 0 1 0 -3.70 0M67.2 585.1a1.85 1.85 0 1 0 3.70 0a1.85 1.85 0 1 0 -3.70 0M75.8 585.8a1.85 1.85 0 1 0 3.70 0a1.85 1.85 0 1 0 -3.70 0M67.6 588.0a1.85 1.85 0 1 0 3.70 0a1.85 1.85 0 1 0 -3.70 0M76.1 588.0a1.85 1.85 0 1 0 3.70 0a1.85 1.85 0 1 0 -3.70 0M70.2 589.2a1.85 1.85 0 1 0 3.70 0a1.85 1.85 0 1 0 -3.70 0M73.2 589.5a1.85 1.85 0 1 0 3.70 0a1.85 1.85 0 1 0 -3.70 0M67.6 591.4a1.85 1.85 0 1 0 3.70 0a1.85 1.85 0 1 0 -3.70 0M74.9 591.4a1.85 1.85 0 1 0 3.70 0a1.85 1.85 0 1 0 -3.70 0M66.4 593.9a1.85 1.85 0 1 0 3.70 0a1.85 1.85 0 1 0 -3.70 0M70.2 593.3a1.85 1.85 0 1 0 3.70 0a1.85 1.85 0 1 0 -3.70 0M75.5 593.9a1.85 1.85 0 1 0 3.70 0a1.85 1.85 0 1 0 -3.70 0M65.7 597.7a1.85 1.85 0 1 0 3.70 0a1.85 1.85 0 1 0 -3.70 0M68.6 597.7a1.85 1.85 0 1 0 3.70 0a1.85 1.85 0 1 0 -3.70 0M71.1 597.1a1.85 1.85 0 1 0 3.70 0a1.85 1.85 0 1 0 -3.70 0M73.2 597.7a1.85 1.85 0 1 0 3.70 0a1.85 1.85 0 1 0 -3.70 0M75.8 598.0a1.85 1.85 0 1 0 3.70 0a1.85 1.85 0 1 0 -3.70 0M65.7 599.9a1.85 1.85 0 1 0 3.70 0a1.85 1.85 0 1 0 -3.70 0M69.5 599.9a1.85 1.85 0 1 0 3.70 0a1.85 1.85 0 1 0 -3.70 0M72.7 599.6a1.85 1.85 0 1 0 3.70 0a1.85 1.85 0 1 0 -3.70 0M77.1 599.6a1.85 1.85 0 1 0 3.70 0a1.85 1.85 0 1 0 -3.70 0" fill="#000"/>
<path d="M98.6 494.0a1.85 1.85 0 1 0 3.70 0a1.85 1.85 0 1 0 -3.70 0M103.0 517.9a1.85 1.85 0 1 0 3.70 0a1.85 1.85 0 1 0 -3.70 0M100.8 523.1a1.85 1.85 0 1 0 3.70 0a1.85 1.85 0 1 0 -3.70 0M99.2 534.4a1.85 1.85 0 1 0 3.70 0a1.85 1.85 0 1 0 -3.70 0M102.1 541.3a1.85 1.85 0 1 0 3.70 0a1.85 1.85 0 1 0 -3.70 0M98.2 558.4a1.85 1.85 0 1 0 3.70 0a1.85 1.85 0 1 0 -3.70 0M96.2 565.5a1.85 1.85 0 1 0 3.70 0a1.85 1.85 0 1 0 -3.70 0M103.8 565.5a1.85 1.85 0 1 0 3.70 0a1.85 1.85 0 1 0 -3.70 0M102.1 573.0a1.85 1.85 0 1 0 3.70 0a1.85 1.85 0 1 0 -3.70 0M96.9 574.9a1.85 1.85 0 1 0 3.70 0a1.85 1.85 0 1 0 -3.70 0M104.2 575.1a1.85 1.85 0 1 0 3.70 0a1.85 1.85 0 1 0 -3.70 0M97.8 577.3a1.85 1.85 0 1 0 3.70 0a1.85 1.85 0 1 0 -3.70 0M101.2 577.5a1.85 1.85 0 1 0 3.70 0a1.85 1.85 0 1 0 -3.70 0M99.1 582.5a1.85 1.85 0 1 0 3.70 0a1.85 1.85 0 1 0 -3.70 0M95.7 583.7a1.85 1.85 0 1 0 3.70 0a1.85 1.85 0 1 0 -3.70 0M94.4 586.9a1.85 1.85 0 1 0 3.70 0a1.85 1.85 0 1 0 -3.70 0M106.0 585.2a1.85 1.85 0 1 0 3.70 0a1.85 1.85 0 1 0 -3.70 0M103.4 588.2a1.85 1.85 0 1 0 3.70 0a1.85 1.85 0 1 0 -3.70 0M107.7 589.3a1.85 1.85 0 1 0 3.70 0a1.85 1.85 0 1 0 -3.70 0M92.6 595.1a1.85 1.85 0 1 0 3.70 0a1.85 1.85 0 1 0 -3.70 0M95.7 598.5a1.85 1.85 0 1 0 3.70 0a1.85 1.85 0 1 0 -3.70 0M98.2 598.1a1.85 1.85 0 1 0 3.70 0a1.85 1.85 0 1 0 -3.70 0M100.8 597.3a1.85 1.85 0 1 0 3.70 0a1.85 1.85 0 1 0 -3.70 0M103.8 598.1a1.85 1.85 0 1 0 3.70 0a1.85 1.85 0 1 0 -3.70 0M103.8 600.3a1.85 1.85 0 1 0 3.70 0a1.85 1.85 0 1 0 -3.70 0" fill="#000"/>
<path d="M152.6 490.4a1.85 1.85 0 1 0 3.70 0a1.85 1.85 0 1 0 -3.70 0M155.8 493.0a1.85 1.85 0 1 0 3.70 0a1.85 1.85 0 1 0 -3.70 0M151.5 499.0a1.85 1.85 0 1 0 3.70 0a1.85 1.85 0 1 0 -3.70 0M152.8 506.7a1.85 1.85 0 1 0 3.70 0a1.85 1.85 0 1 0 -3.70 0M148.2 508.4a1.85 1.85 0 1 0 3.70 0a1.85 1.85 0 1 0 -3.70 0M151.5 515.7a1.85 1.85 0 1 0 3.70 0a1.85 1.85 0 1 0 -3.70 0M154.1 516.4a1.85 1.85 0 1 0 3.70 0a1.85 1.85 0 1 0 -3.70 0M156.2 519.3a1.85 1.85 0 1 0 3.70 0a1.85 1.85 0 1 0 -3.70 0M151.1 520.8a1.85 1.85 0 1 0 3.70 0a1.85 1.85 0 1 0 -3.70 0M146.2 522.4a1.85 1.85 0 1 0 3.70 0a1.85 1.85 0 1 0 -3.70 0M151.1 523.2a1.85 1.85 0 1 0 3.70 0a1.85 1.85 0 1 0 -3.70 0M160.7 528.4a1.85 1.85 0 1 0 3.70 0a1.85 1.85 0 1 0 -3.70 0M148.5 533.5a1.85 1.85 0 1 0 3.70 0a1.85 1.85 0 1 0 -3.70 0M145.1 535.2a1.85 1.85 0 1 0 3.70 0a1.85 1.85 0 1 0 -3.70 0M147.6 538.8a1.85 1.85 0 1 0 3.70 0a1.85 1.85 0 1 0 -3.70 0M150.6 538.8a1.85 1.85 0 1 0 3.70 0a1.85 1.85 0 1 0 -3.70 0M155.2 538.0a1.85 1.85 0 1 0 3.70 0a1.85 1.85 0 1 0 -3.70 0M158.8 537.0a1.85 1.85 0 1 0 3.70 0a1.85 1.85 0 1 0 -3.70 0M147.3 539.7a1.85 1.85 0 1 0 3.70 0a1.85 1.85 0 1 0 -3.70 0M150.2 539.9a1.85 1.85 0 1 0 3.70 0a1.85 1.85 0 1 0 -3.70 0M150.2 542.4a1.85 1.85 0 1 0 3.70 0a1.85 1.85 0 1 0 -3.70 0M155.7 543.3a1.85 1.85 0 1 0 3.70 0a1.85 1.85 0 1 0 -3.70 0M152.5 544.7a1.85 1.85 0 1 0 3.70 0a1.85 1.85 0 1 0 -3.70 0M156.1 551.3a1.85 1.85 0 1 0 3.70 0a1.85 1.85 0 1 0 -3.70 0M148.8 558.3a1.85 1.85 0 1 0 3.70 0a1.85 1.85 0 1 0 -3.70 0M151.8 558.1a1.85 1.85 0 1 0 3.70 0a1.85 1.85 0 1 0 -3.70 0M156.8 562.4a1.85 1.85 0 1 0 3.70 0a1.85 1.85 0 1 0 -3.70 0M149.7 582.4a1.85 1.85 0 1 0 3.70 0a1.85 1.85 0 1 0 -3.70 0M156.1 583.8a1.85 1.85 0 1 0 3.70 0a1.85 1.85 0 1 0 -3.70 0" fill="#000"/>
<path d="M178.2 501.0a1.85 1.85 0 1 0 3.70 0a1.85 1.85 0 1 0 -3.70 0M180.5 507.6a1.85 1.85 0 1 0 3.70 0a1.85 1.85 0 1 0 -3.70 0M183.1 509.2a1.85 1.85 0 1 0 3.70 0a1.85 1.85 0 1 0 -3.70 0M184.2 520.3a1.85 1.85 0 1 0 3.70 0a1.85 1.85 0 1 0 -3.70 0M182.0 522.2a1.85 1.85 0 1 0 3.70 0a1.85 1.85 0 1 0 -3.70 0M179.7 524.5a1.85 1.85 0 1 0 3.70 0a1.85 1.85 0 1 0 -3.70 0M176.6 525.6a1.85 1.85 0 1 0 3.70 0a1.85 1.85 0 1 0 -3.70 0M180.5 532.9a1.85 1.85 0 1 0 3.70 0a1.85 1.85 0 1 0 -3.70 0M178.5 537.5a1.85 1.85 0 1 0 3.70 0a1.85 1.85 0 1 0 -3.70 0M188.2 537.0a1.85 1.85 0 1 0 3.70 0a1.85 1.85 0 1 0 -3.70 0M175.5 540.6a1.85 1.85 0 1 0 3.70 0a1.85 1.85 0 1 0 -3.70 0M185.8 540.9a1.85 1.85 0 1 0 3.70 0a1.85 1.85 0 1 0 -3.70 0M179.7 543.6a1.85 1.85 0 1 0 3.70 0a1.85 1.85 0 1 0 -3.70 0M183.8 544.2a1.85 1.85 0 1 0 3.70 0a1.85 1.85 0 1 0 -3.70 0M177.3 548.8a1.85 1.85 0 1 0 3.70 0a1.85 1.85 0 1 0 -3.70 0M180.2 550.2a1.85 1.85 0 1 0 3.70 0a1.85 1.85 0 1 0 -3.70 0M181.5 554.3a1.85 1.85 0 1 0 3.70 0a1.85 1.85 0 1 0 -3.70 0M185.2 554.3a1.85 1.85 0 1 0 3.70 0a1.85 1.85 0 1 0 -3.70 0M181.1 569.8a1.85 1.85 0 1 0 3.70 0a1.85 1.85 0 1 0 -3.70 0M177.8 571.6a1.85 1.85 0 1 0 3.70 0a1.85 1.85 0 1 0 -3.70 0M185.8 575.0a1.85 1.85 0 1 0 3.70 0a1.85 1.85 0 1 0 -3.70 0M179.2 578.2a1.85 1.85 0 1 0 3.70 0a1.85 1.85 0 1 0 -3.70 0M184.2 588.8a1.85 1.85 0 1 0 3.70 0a1.85 1.85 0 1 0 -3.70 0" fill="#000"/>
<path d="M232.0 472.7a1.85 1.85 0 1 0 3.70 0a1.85 1.85 0 1 0 -3.70 0M237.7 483.5a1.85 1.85 0 1 0 3.70 0a1.85 1.85 0 1 0 -3.70 0M240.8 489.5a1.85 1.85 0 1 0 3.70 0a1.85 1.85 0 1 0 -3.70 0M231.0 493.6a1.85 1.85 0 1 0 3.70 0a1.85 1.85 0 1 0 -3.70 0M238.2 509.1a1.85 1.85 0 1 0 3.70 0a1.85 1.85 0 1 0 -3.70 0M235.8 510.6a1.85 1.85 0 1 0 3.70 0a1.85 1.85 0 1 0 -3.70 0M232.5 512.9a1.85 1.85 0 1 0 3.70 0a1.85 1.85 0 1 0 -3.70 0M239.2 514.5a1.85 1.85 0 1 0 3.70 0a1.85 1.85 0 1 0 -3.70 0M230.5 516.8a1.85 1.85 0 1 0 3.70 0a1.85 1.85 0 1 0 -3.70 0M234.3 518.7a1.85 1.85 0 1 0 3.70 0a1.85 1.85 0 1 0 -3.70 0M229.0 528.7a1.85 1.85 0 1 0 3.70 0a1.85 1.85 0 1 0 -3.70 0M233.3 528.7a1.85 1.85 0 1 0 3.70 0a1.85 1.85 0 1 0 -3.70 0M241.2 528.7a1.85 1.85 0 1 0 3.70 0a1.85 1.85 0 1 0 -3.70 0M235.1 532.0a1.85 1.85 0 1 0 3.70 0a1.85 1.85 0 1 0 -3.70 0M240.6 533.5a1.85 1.85 0 1 0 3.70 0a1.85 1.85 0 1 0 -3.70 0M229.7 538.7a1.85 1.85 0 1 0 3.70 0a1.85 1.85 0 1 0 -3.70 0M241.1 541.9a1.85 1.85 0 1 0 3.70 0a1.85 1.85 0 1 0 -3.70 0M234.8 550.4a1.85 1.85 0 1 0 3.70 0a1.85 1.85 0 1 0 -3.70 0M232.0 553.9a1.85 1.85 0 1 0 3.70 0a1.85 1.85 0 1 0 -3.70 0M238.6 553.1a1.85 1.85 0 1 0 3.70 0a1.85 1.85 0 1 0 -3.70 0M233.6 557.1a1.85 1.85 0 1 0 3.70 0a1.85 1.85 0 1 0 -3.70 0M236.8 557.9a1.85 1.85 0 1 0 3.70 0a1.85 1.85 0 1 0 -3.70 0M239.8 562.1a1.85 1.85 0 1 0 3.70 0a1.85 1.85 0 1 0 -3.70 0M230.7 567.6a1.85 1.85 0 1 0 3.70 0a1.85 1.85 0 1 0 -3.70 0M239.1 567.3a1.85 1.85 0 1 0 3.70 0a1.85 1.85 0 1 0 -3.70 0M232.3 586.0a1.85 1.85 0 1 0 3.70 0a1.85 1.85 0 1 0 -3.70 0" fill="#000"/>
<path d="M261.8 474.3a1.85 1.85 0 1 0 3.70 0a1.85 1.85 0 1 0 -3.70 0M264.3 478.0a1.85 1.85 0 1 0 3.70 0a1.85 1.85 0 1 0 -3.70 0M268.2 497.9a1.85 1.85 0 1 0 3.70 0a1.85 1.85 0 1 0 -3.70 0M262.8 508.9a1.85 1.85 0 1 0 3.70 0a1.85 1.85 0 1 0 -3.70 0M259.4 520.9a1.85 1.85 0 1 0 3.70 0a1.85 1.85 0 1 0 -3.70 0M262.8 524.6a1.85 1.85 0 1 0 3.70 0a1.85 1.85 0 1 0 -3.70 0M264.3 527.3a1.85 1.85 0 1 0 3.70 0a1.85 1.85 0 1 0 -3.70 0M269.2 528.3a1.85 1.85 0 1 0 3.70 0a1.85 1.85 0 1 0 -3.70 0M259.2 531.1a1.85 1.85 0 1 0 3.70 0a1.85 1.85 0 1 0 -3.70 0M264.0 532.2a1.85 1.85 0 1 0 3.70 0a1.85 1.85 0 1 0 -3.70 0M270.2 532.2a1.85 1.85 0 1 0 3.70 0a1.85 1.85 0 1 0 -3.70 0M268.9 535.4a1.85 1.85 0 1 0 3.70 0a1.85 1.85 0 1 0 -3.70 0M260.3 541.1a1.85 1.85 0 1 0 3.70 0a1.85 1.85 0 1 0 -3.70 0M262.4 547.7a1.85 1.85 0 1 0 3.70 0a1.85 1.85 0 1 0 -3.70 0M266.4 551.2a1.85 1.85 0 1 0 3.70 0a1.85 1.85 0 1 0 -3.70 0M269.2 552.2a1.85 1.85 0 1 0 3.70 0a1.85 1.85 0 1 0 -3.70 0M259.2 555.4a1.85 1.85 0 1 0 3.70 0a1.85 1.85 0 1 0 -3.70 0M269.2 559.3a1.85 1.85 0 1 0 3.70 0a1.85 1.85 0 1 0 -3.70 0M258.8 561.4a1.85 1.85 0 1 0 3.70 0a1.85 1.85 0 1 0 -3.70 0M260.6 563.6a1.85 1.85 0 1 0 3.70 0a1.85 1.85 0 1 0 -3.70 0M264.0 572.4a1.85 1.85 0 1 0 3.70 0a1.85 1.85 0 1 0 -3.70 0M267.5 573.2a1.85 1.85 0 1 0 3.70 0a1.85 1.85 0 1 0 -3.70 0M263.2 578.3a1.85 1.85 0 1 0 3.70 0a1.85 1.85 0 1 0 -3.70 0M265.1 589.5a1.85 1.85 0 1 0 3.70 0a1.85 1.85 0 1 0 -3.70 0" fill="#000"/>
<path d="M320.8 593.2a1.85 1.85 0 1 0 3.70 0a1.85 1.85 0 1 0 -3.70 0M319.1 597.0a1.85 1.85 0 1 0 3.70 0a1.85 1.85 0 1 0 -3.70 0M322.1 597.5a1.85 1.85 0 1 0 3.70 0a1.85 1.85 0 1 0 -3.70 0M315.1 599.5a1.85 1.85 0 1 0 3.70 0a1.85 1.85 0 1 0 -3.70 0M318.1 599.8a1.85 1.85 0 1 0 3.70 0a1.85 1.85 0 1 0 -3.70 0M325.6 599.8a1.85 1.85 0 1 0 3.70 0a1.85 1.85 0 1 0 -3.70 0M311.6 601.5a1.85 1.85 0 1 0 3.70 0a1.85 1.85 0 1 0 -3.70 0M328.6 601.5a1.85 1.85 0 1 0 3.70 0a1.85 1.85 0 1 0 -3.70 0M318.6 595.5a1.85 1.85 0 1 0 3.70 0a1.85 1.85 0 1 0 -3.70 0M322.6 596.0a1.85 1.85 0 1 0 3.70 0a1.85 1.85 0 1 0 -3.70 0M316.6 598.0a1.85 1.85 0 1 0 3.70 0a1.85 1.85 0 1 0 -3.70 0M320.1 598.5a1.85 1.85 0 1 0 3.70 0a1.85 1.85 0 1 0 -3.70 0M324.1 598.5a1.85 1.85 0 1 0 3.70 0a1.85 1.85 0 1 0 -3.70 0M313.1 600.5a1.85 1.85 0 1 0 3.70 0a1.85 1.85 0 1 0 -3.70 0M316.6 601.0a1.85 1.85 0 1 0 3.70 0a1.85 1.85 0 1 0 -3.70 0M320.1 601.2a1.85 1.85 0 1 0 3.70 0a1.85 1.85 0 1 0 -3.70 0M323.6 601.0a1.85 1.85 0 1 0 3.70 0a1.85 1.85 0 1 0 -3.70 0M326.9 601.2a1.85 1.85 0 1 0 3.70 0a1.85 1.85 0 1 0 -3.70 0M310.6 602.0a1.85 1.85 0 1 0 3.70 0a1.85 1.85 0 1 0 -3.70 0M314.1 602.2a1.85 1.85 0 1 0 3.70 0a1.85 1.85 0 1 0 -3.70 0M317.6 602.3a1.85 1.85 0 1 0 3.70 0a1.85 1.85 0 1 0 -3.70 0M321.6 602.3a1.85 1.85 0 1 0 3.70 0a1.85 1.85 0 1 0 -3.70 0M325.1 602.4a1.85 1.85 0 1 0 3.70 0a1.85 1.85 0 1 0 -3.70 0M328.1 602.2a1.85 1.85 0 1 0 3.70 0a1.85 1.85 0 1 0 -3.70 0" fill="#000"/>
<path d="M348.2 582.5a1.85 1.85 0 1 0 3.70 0a1.85 1.85 0 1 0 -3.70 0M346.8 590.0a1.85 1.85 0 1 0 3.70 0a1.85 1.85 0 1 0 -3.70 0M349.8 590.6a1.85 1.85 0 1 0 3.70 0a1.85 1.85 0 1 0 -3.70 0M346.6 593.0a1.85 1.85 0 1 0 3.70 0a1.85 1.85 0 1 0 -3.70 0M348.1 596.0a1.85 1.85 0 1 0 3.70 0a1.85 1.85 0 1 0 -3.70 0M342.1 599.5a1.85 1.85 0 1 0 3.70 0a1.85 1.85 0 1 0 -3.70 0M345.1 600.0a1.85 1.85 0 1 0 3.70 0a1.85 1.85 0 1 0 -3.70 0M348.6 599.5a1.85 1.85 0 1 0 3.70 0a1.85 1.85 0 1 0 -3.70 0M352.1 600.0a1.85 1.85 0 1 0 3.70 0a1.85 1.85 0 1 0 -3.70 0M355.1 601.0a1.85 1.85 0 1 0 3.70 0a1.85 1.85 0 1 0 -3.70 0M340.6 602.0a1.85 1.85 0 1 0 3.70 0a1.85 1.85 0 1 0 -3.70 0M344.1 602.3a1.85 1.85 0 1 0 3.70 0a1.85 1.85 0 1 0 -3.70 0M347.6 602.3a1.85 1.85 0 1 0 3.70 0a1.85 1.85 0 1 0 -3.70 0M351.1 602.3a1.85 1.85 0 1 0 3.70 0a1.85 1.85 0 1 0 -3.70 0M354.6 602.4a1.85 1.85 0 1 0 3.70 0a1.85 1.85 0 1 0 -3.70 0" fill="#000"/>
<line x1="161.80" y1="78.90" x2="250.00" y2="78.90" stroke="#3a3a3a" stroke-width="1.2"/>
<text x="205.90" y="74.20" font-size="6.6" text-anchor="middle" textLength="34.00" lengthAdjust="spacingAndGlyphs">CD8 T cells</text>
<text x="166.00" y="120.50" font-size="8.4" text-anchor="middle" textLength="67.50" lengthAdjust="spacingAndGlyphs" transform="rotate(-90 166.00 120.50)">170Er_CD3 [Er170Di]</text>
<text x="168.20" y="170.90" font-size="8.4" textLength="82.60" lengthAdjust="spacingAndGlyphs">1Pr_GranzymeB [Pr141Di]</text>
<rect x="175.70" y="83.60" width="70.80" height="70.70" fill="none" stroke="#444" stroke-width="0.9"/>
<path d="M186.2 154.3v3.2M193.9 154.3v2M198.4 154.3v2M201.6 154.3v2M204.0 154.3v2M206.0 154.3v2M207.8 154.3v2M209.2 154.3v2M210.5 154.3v2M211.7 154.3v3.2M219.4 154.3v2M223.9 154.3v2M227.1 154.3v2M229.5 154.3v2M231.5 154.3v2M233.3 154.3v2M234.7 154.3v2M236.0 154.3v2M237.2 154.3v3.2M244.9 154.3v2M245.5 154.3v3.2M175.7 135.3h-3.2M175.7 129.7h-2M175.7 126.4h-2M175.7 124.1h-2M175.7 122.3h-2M175.7 120.8h-2M175.7 119.6h-2M175.7 118.5h-2M175.7 117.6h-2M175.7 116.7h-3.2M175.7 111.1h-2M175.7 107.8h-2M175.7 105.5h-2M175.7 103.7h-2M175.7 102.2h-2M175.7 101.0h-2M175.7 99.9h-2M175.7 99.0h-2M175.7 98.1h-3.2M175.7 92.5h-2M175.7 89.2h-2M175.7 86.9h-2M175.7 85.1h-2" stroke="#222" stroke-width="0.7" fill="none"/>
<rect x="178.70" y="154.70" width="12.00" height="2.40" fill="#111"/>
<path transform="scale(0.5)" d="M0 0m473 210h2m-106 -15h2m101 53h2m-22 16h2m14 -54h2m-4 -2h2m-69 -13h2m60 62h2m-9 -57h2m7 56h2m8 -14h2m-11 12h2m5 -9h2m2 -16h2m-7 18h2m-7 6h2m7 -21h2m-9 -19h2m-36 -17h2m-52 1h2m87 43h2m-42 -44h2m-41 69h2m54 -3h2m-66 2h2m72 -8h2m-22 9h2m-30 -67h2m-26 1h2m74 54h2m-43 12h2m-55 -65h2m23 0h2m75 23h2m-74 42h2m6 -67h2m32 65h2m-59 -1h2m43 2h2m-46 -2h2m-2 0h2m84 -26h2m-62 28h2m28 -65h2m27 26h2m-67 39h2m5 -1h2m54 -44h2m-25 -18h2m-43 63h2m-36 -63h2m53 63h2m-41 -3h2m-20 -2h2m25 4h2m-1 -63h2m23 63h2m-27 -62h2m73 31h2m-92 -33h2m84 18h2m-66 47h2m7 -64h2m53 43h2m-7 8h2m6 -17h2m-85 26h2m73 -48h2m-40 -13h2m15 63h2m-73 -3h2m32 4h2m52 -54h2m-82 53h2m76 -55h2m6 8h2m-31 -15h2m-66 60h2m42 -59h2m37 55h2m-3 0h2m-64 -52h2m74 19h2m-71 39h2m55 -54h2m-68 -4h2m-22 53h2m97 -30h2m-101 -24h2m28 -1h2m11 0h2m54 31h2m-36 28h2m17 -6h2m-34 6h2m-22 0h2m64 -26h2m-23 23h2m14 -42h2m-93 41h2m49 4h2m-13 -1h2m44 -8h2m-14 6h2m12 -9h2m-68 -44h2m21 -2h2m-6 0h2m28 56h2m-48 -55h2m-30 50h2m92 -9h2m-77 12h2m77 -23h2m-11 -22h2m-38 48h2m39 -16h2m-19 13h2m-55 1h2m28 -55h2m10 57h2m4 -57h2m1 55h2m-63 0h2m5 -52h2m66 44h2m-43 -46h2m13 56h2m-61 -57h2m73 3h2m-39 -2h2m49 13h2m-93 -12h2m26 54h2m5 -55h2m38 1h2m18 23h2m-75 28h2m69 -16h2m-34 19h2m-27 -54h2m-9 53h2m-29 -54h2m-5 49h2m92 -12h2m-97 12h2m42 5h2m50 -34h2m-39 -21h2m-61 5h2m69 50h2m-72 -51h2m93 28h2m-53 23h2m7 -54h2m23 3h2m15 20h2m-97 -20h2m64 51h2m-11 0h2m-58 -4h2m15 1h2m45 3h2m-61 -1h2m7 -51h2m69 7h2m-44 44h2m42 -43h2m-55 44h2m-7 -52h2m62 20h2m-77 -18h2m-21 45h2m21 -44h2m32 49h2m15 -52h2m-69 -2h2m85 26h2m-46 -25h2m-50 1h2m30 0h2m3 0h2m33 0h2m16 16h2m-30 36h2m-49 -50h2m71 36h2m-48 -38h2m16 -2h2m-39 5h2m-2 0h2m-6 0h2m71 24h2m-28 24h2m15 -8h2m-60 7h2m62 -36h2m-24 -14h2m3 49h2m-24 -50h2m-17 52h2m-7 -50h2m-5 49h2m-32 -5h2m17 2h2m74 -23h2m-46 27h2m-30 -3h2m64 -8h2m-58 10h2m41 -1h2m-54 -1h2m66 -34h2m-36 37h2m-7 0h2m6 0h2m28 -14h2m-42 13h2m-41 0h2m48 1h2m19 -6h2m9 -16h2m-58 -28h2m-22 46h2m71 -10h2m1 -10h2m-13 18h2m9 -15h2m-9 -21h2m3 6h2m-18 33h2m10 -7h2m-15 -40h2m-8 49h2m-33 0h2m52 -16h2m-29 -35h2m-33 3h2m23 -3h2m-42 47h2m-20 -43h2m-2 42h2m68 5h2m-53 -4h2m18 -45h2m52 25h2m-6 12h2m-61 -36h2m-17 45h2m14 2h2m54 -9h2m2 -24h2m-1 2h2m-58 -16h2m-4 0h2m-35 0h2m15 1h2m61 2h2m-46 -3h2m18 48h2m-14 -1h2m42 -36h2m0 20h2m-40 17h2m12 -50h2m-67 2h2m40 47h2m45 -31h2m-76 28h2m26 3h2m-28 -45h2m71 20h2m-39 -24h2m2 50h2m-2 0h2m13 -2h2m9 -7h2m-83 7h2m26 1h2m-17 -3h2m30 3h2m-4 0h2m-43 -50h2m16 6h2m61 34h2m-42 10h2m-9 -47h2m40 41h2m-84 1h2m90 -21h2m-5 -8h2m-5 25h2m0 -27h2m-14 34h2m-27 -46h2m-24 3h2m12 -2h2m37 5h2m-84 36h2m41 5h2m21 1h2m-63 -1h2m80 -10h2m-69 7h2m65 -33h2m-73 -8h2m-15 -3h2m47 0h2m26 5h2m-68 41h2m11 0h2m43 1h2m17 -24h2m-2 6h2m-63 18h2m-1 -45h2m9 45h2m-17 -1h2m57 -36h2m-3 29h2m-66 -34h2m6 42h2m4 -45h2m54 21h2m-48 24h2m44 -25h2m-56 -20h2m4 45h2m-9 0h2m39 -44h2m10 31h2m-44 -33h2m-30 42h2m4 2h2m36 -45h2m-7 48h2m31 -21h2m-28 -27h2m-55 0h2m9 5h2m7 -2h2m11 -1h2m7 46h2m35 -21h2m-75 -22h2m67 30h2m-30 13h2m-33 -2h2m-31 -40h2m0 -3h2m32 44h2m-12 -42h2m63 24h2m-1 -4h2m-52 -23h2m15 46h2m-56 -48h2m9 44h2m55 2h2m3 -2h2m-49 2h2m-6 -41h2m30 -5h2m26 37h2m-54 -34h2m-36 39h2m85 -29h2m-16 -11h2m-70 44h2m23 -42h2m57 13h2m-8 -8h2m-62 -3h2m51 39h2m-42 -42h2m-35 42h2m63 2h2m-37 -44h2m43 2h2m-57 1h2m21 -4h2m-14 1h2m20 -2h2m28 10h2m-15 34h2m-16 -44h2m6 0h2m-56 0h2m-1 1h2m2 40h2m55 2h2m-61 -40h2m12 42h2m56 -31h2m-13 -11h2m-43 -1h2m-7 43h2m53 -10h2m-57 -32h2m16 -2h2m39 19h2m-33 26h2m23 -9h2m-12 7h2m-76 -5h2m11 -38h2m-15 39h2m62 6h2m-61 -2h2m-8 -39h2m-1 34h2m84 -28h2m-44 34h2m2 -44h2m-50 38h2m88 -16h2m-30 23h2m-23 -2h2m-25 -3h2m10 3h2m44 -41h2m-1 1h2m-51 39h2m-30 -39h2m-2 35h2m-3 -1h2m5 -38h2m63 2h2m-54 38h2m5 -35h2m17 39h2m21 -43h2m-51 5h2m-2 34h2m64 -29h2m-44 -9h2m-44 2h2m19 37h2m47 -39h2m-8 -2h2m-57 0h2m41 1h2m-50 -1h2m31 3h2m14 42h2m-44 -1h2m-15 -38h2m66 39h2m20 -23h2m-43 -20h2m-34 2h2m-1 1h2m45 41h2m-20 -44h2m-25 5h2m-5 0h2m-19 -5h2m31 42h2m3 -41h2m-15 2h2m45 37h2m-53 -1h2m38 4h2m-21 -43h2m42 17h2m-88 -17h2m63 -1h2m-32 2h2m-38 0h2m26 1h2m-32 2h2m15 -1h2m59 36h2m-43 3h2m8 -42h2m-50 5h2" stroke="#010003" stroke-width="2" fill="none"/>
<path transform="scale(0.5)" d="M0 0m388 215h2m3 34h2m-5 -34h2m66 16h2m-72 16h2m11 -35h2m30 -3h2m19 34h2m-9 -30h2m-29 -3h2m-44 42h2m24 0h2m11 -42h2m-19 41h2m5 -39h2m19 -3h2m24 33h2m-66 -26h2m-7 32h2m18 4h2m40 -38h2m-60 33h2m-14 -39h2m37 44h2m25 -1h2m-3 0h2m-70 0h2m21 -38h2m-13 1h2m20 37h2m47 -23h2m-69 19h2m0 -32h2m56 1h2m5 9h2m-74 24h2m-17 -36h2m27 38h2m49 -5h2m-45 5h2m21 2h2m-64 -9h2m42 -33h2m43 24h2m-43 -24h2m-48 1h2m56 41h2m19 -6h2m-71 4h2m17 -38h2m-10 3h2m11 -4h2m35 39h2m-59 -2h2m-18 -34h2m39 -3h2m-39 37h2m56 4h2m3 -1h2m-16 0h2m-49 -1h2m57 -42h2m22 25h2m-54 17h2m-5 -38h2m51 9h2m-57 29h2m36 -41h2m-70 2h2m32 0h2m50 14h2m-35 -16h2m-20 2h2m50 18h2m-2 1h2m-87 18h2m64 -39h2m-52 36h2m-15 -37h2m75 10h2m-58 30h2m11 2h2m27 -41h2m2 40h2m-62 0h2m10 -2h2m53 -32h2m-65 31h2m-1 -32h2m39 -5h2m-51 41h2m76 -22h2m-57 -16h2m2 -1h2m15 -2h2m-47 41h2m5 -38h2m58 36h2m-10 -39h2m-68 2h2m17 34h2m1 1h2m-26 -32h2m61 -5h2m18 9h2m-7 28h2m-20 5h2m-2 0h2m11 -2h2m-62 -39h2m2 4h2m6 32h2m54 -2h2m-58 -29h2m59 23h2m-38 -28h2m22 2h2m1 35h2m-62 -1h2m17 -34h2m49 15h2m-79 -18h2m-12 4h2m45 37h2m-5 -39h2m-8 38h2m8 1h2m-39 -1h2m40 -39h2m-27 4h2m-30 30h2m16 1h2m1 -29h2m-23 -2h2m18 30h2m65 -19h2m-12 22h2m-66 1h2m72 -18h2m-32 -21h2m-58 36h2m33 -33h2m46 27h2m-55 10h2m9 -37h2m34 34h2m2 -4h2m3 -10h2m-39 -22h2m34 27h2m-9 -22h2m-62 1h2m62 25h2m-34 9h2m-47 -1h2m52 -40h2m-32 5h2m31 37h2m-24 -39h2m-44 4h2m83 4h2m-63 25h2m19 4h2m-7 -37h2m-8 1h2m7 36h2m42 -24h2m-62 21h2m-21 -37h2m46 41h2m-24 -2h2m18 2h2m-55 -7h2m38 -31h2m35 2h2m-28 36h2m20 -38h2m-59 2h2m-16 32h2m68 -35h2m1 36h2m7 -26h2m-3 -1h2m-53 -7h2m31 37h2m-60 -41h2m51 42h2m18 -35h2m-57 30h2m3 -32h2m26 36h2m-38 -33h2m44 33h2m-67 -39h2m57 -1h2m20 12h2m-87 -5h2m43 32h2m-41 0h2m53 -39h2m-14 39h2m-32 -5h2m-9 -34h2m7 33h2m7 4h2m52 -7h2m-68 5h2m-1 -29h2m27 -4h2m-48 32h2m11 -32h2m70 21h2m-31 17h2m-19 -37h2m7 -2h2m-51 33h2m30 -31h2m48 6h2m-66 -4h2m29 -4h2m-4 38h2m-49 -6h2m15 -28h2m11 -1h2m-26 -5h2m69 5h2m-48 0h2m18 35h2m-51 -4h2m81 -9h2m-2 0h2m-62 9h2m26 5h2m11 0h2m-32 -37h2m32 -2h2m-62 -2h2m28 39h2m-25 -4h2m55 -31h2m-57 30h2m43 7h2m-64 -4h2m-4 -31h2m30 -1h2m52 19h2m-2 -7h2m-31 -16h2m-4 0h2m0 0h2m-7 1h2m32 17h2m-2 3h2m-24 19h2m-5 0h2m-64 -32h2m12 29h2m-4 1h2m2 -35h2m12 34h2m36 -36h2m-45 33h2m60 -12h2m-60 -16h2m-13 28h2m-19 -27h2m62 33h2m-44 -32h2m13 30h2m-38 -34h2m10 -2h2m40 38h2m-35 -7h2m9 5h2m29 -38h2m4 1h2m-24 37h2m-34 -34h2m-1 1h2m59 1h2m6 15h2m-12 15h2m-58 -4h2m64 -9h2m-2 -2h2m-85 -19h2m67 36h2m5 -5h2m-48 -29h2m15 -2h2m-24 34h2m-30 -4h2m15 -27h2m5 28h2m59 -17h2m-86 18h2m7 -34h2m40 1h2m-22 3h2m29 36h2m-34 -35h2m-5 1h2m-17 -4h2m46 38h2m-60 -4h2m81 -17h2m-88 -12h2m6 31h2m24 -34h2m49 17h2m-3 7h2m-37 10h2m-43 0h2m-11 -29h2m83 4h2m-21 -12h2m-52 34h2m18 2h2m-31 1h2m31 -1h2m26 -36h2m-11 -1h2m6 39h2m-51 -33h2m62 3h2m-13 29h2m-41 -1h2m2 0h2m-13 -29h2m-18 30h2m34 -35h2m-31 1h2m21 0h2m19 -3h2m-5 0h2m-25 36h2m17 -36h2m-54 5h2m8 32h2m39 0h2m26 -31h2m-62 25h2m-11 6h2m15 -3h2m-29 -3h2m20 -23h2m8 -4h2m-20 30h2m62 -1h2m-36 -31h2m-11 34h2m7 -34h2" stroke="#05010a" stroke-width="2" fill="none"/>
<path transform="scale(0.5)" d="M0 0m389 220h2m51 28h2m-23 -35h2m-55 27h2m28 -23h2m36 33h2m-41 -33h2m-11 2h2m-12 -8h2m35 37h2m-8 -33h2m43 15h2m-47 18h2m-16 -29h2m1 28h2m-13 -29h2m-19 27h2m56 5h2m-11 -37h2m-46 -2h2m41 38h2m-42 0h2m-8 -36h2m15 29h2m33 -30h2m-15 36h2m10 2h2m-1 0h2m-38 -30h2m3 0h2m-26 21h2m77 -22h2m-50 -2h2m1 -1h2m-20 1h2m-12 -5h2m76 16h2m-63 -7h2m47 -7h2m-15 -2h2m-56 0h2m-6 31h2m44 5h2m-49 -6h2m-1 1h2m37 -28h2m-30 33h2m70 -11h2m-9 -20h2m0 2h2m-20 31h2m-12 -1h2m13 -37h2m-27 3h2m-21 27h2m61 -12h2m-85 15h2m71 -29h2m-72 -4h2m57 38h2m18 -14h2m-59 -18h2m-3 1h2m38 31h2m-9 -38h2m9 2h2m-53 28h2m12 -26h2m49 20h2m-77 13h2m74 -18h2m-3 3h2m-86 -15h2m82 13h2m-43 -17h2m-41 32h2m45 2h2m-17 -2h2m-4 0h2m9 1h2m-24 -27h2m1 23h2m54 -21h2m-36 -9h2m21 34h2m-71 -33h2m18 26h2m33 -29h2m-59 30h2m37 -26h2m-3 0h2m-5 31h2m46 -9h2m-8 7h2m-47 2h2m-34 -27h2m64 -7h2m-56 34h2m43 -34h2m18 32h2m-51 0h2m54 -11h2m-36 14h2m-13 -1h2m43 -20h2m-15 -13h2m-38 2h2m-1 31h2m27 2h2m-47 -28h2m42 28h2m-29 -33h2m-9 30h2m3 -30h2m4 0h2m-44 23h2m40 -23h2m-3 0h2m-16 28h2m26 5h2m-11 -2h2m-19 -2h2m53 -9h2m-2 -12h2m-38 -9h2m-36 32h2m10 -26h2m38 -8h2m-58 -1h2m36 36h2m-35 -3h2m1 -26h2m33 30h2m-32 -27h2m-2 0h2m1 -1h2m-8 20h2m-1 -19h2m2 0h2m-1 20h2m-8 -1h2m58 2h2m0 -20h2m-56 21h2m37 -31h2m-34 33h2m46 -8h2m-6 -19h2m-51 -1h2m33 31h2m-38 -5h2m-12 -3h2m-16 -28h2m78 16h2m-5 -7h2m-51 24h2m-11 -5h2m-4 -18h2m60 3h2m-85 14h2m72 -24h2m8 13h2m-36 19h2m19 -33h2m-60 0h2m25 32h2m-23 -6h2m-12 7h2m45 -35h2m9 36h2m-56 -3h2m-12 -1h2m76 -5h2m-31 8h2m17 -1h2m-32 0h2m33 -30h2m4 20h2m-63 -14h2m13 23h2m-31 2h2m72 -26h2m-60 1h2m37 26h2m-47 -7h2m23 5h2m39 -21h2m-78 -14h2m42 36h2m-41 -1h2m10 -25h2m54 18h2m-81 2h2m77 -20h2m-72 25h2m67 -5h2m-68 -28h2m65 8h2m-55 -2h2m0 -1h2m14 28h2m-43 -33h2m13 26h2m-8 -26h2m5 25h2m48 -24h2m-72 5h2m76 23h2m-77 -28h2m74 5h2m-28 -6h2m-15 3h2m-13 27h2m12 3h2m36 -8h2m-40 7h2m8 -32h2m-7 33h2m-2 -32h2m32 23h2m-63 -15h2m-2 16h2m-3 -16h2m-11 -10h2m20 5h2m-35 22h2m80 -15h2m-65 15h2m-13 8h2m48 -35h2m-37 27h2m2 3h2m7 3h2m-6 -28h2m31 -5h2m-67 6h2m15 0h2m57 -1h2m0 25h2m-57 -3h2m10 6h2m-7 -27h2m-18 -3h2m4 23h2m-5 -20h2m19 -2h2m30 30h2m8 -6h2m-12 -26h2m-13 -2h2m-3 36h2m15 -32h2m-52 24h2m17 5h2m-29 -26h2m16 -2h2m-30 -5h2m16 9h2m32 27h2m-43 -8h2m-10 6h2m-12 -26h2m18 18h2m16 -22h2m-19 7h2m4 -4h2m-30 2h2m29 23h2m51 -11h2m-55 -15h2m18 28h2m-53 -9h2m23 -15h2m0 19h2m-8 -3h2m1 0h2m41 -25h2m15 17h2m-49 -14h2m5 29h2m-43 -3h2m79 -14h2m-53 16h2m-7 -2h2m14 -26h2m38 11h2m-32 -14h2m-27 6h2m-24 27h2m1 0h2m12 -8h2m39 9h2m13 -27h2m-64 21h2m52 -26h2m10 13h2m-79 -16h2m37 33h2m15 -33h2m-13 2h2m-31 10h2m-24 -4h2m19 4h2m-11 -10h2m64 5h2m-47 25h2m47 -18h2m-13 -11h2m-51 9h2m59 5h2m-84 12h2m35 -25h2m-24 2h2m-19 16h2m24 -12h2m39 25h2m-47 -23h2m-24 0h2m4 -11h2m75 13h2m-49 18h2m2 -28h2m-12 27h2m12 2h2m-33 -31h2m21 3h2m-11 4h2m50 19h2m-79 -22h2m-4 16h2m23 5h2m44 -25h2m-25 1h2m33 20h2m-49 9h2m32 -30h2m-52 24h2m7 4h2" stroke="#080211" stroke-width="2" fill="none"/>
<path transform="scale(0.5)" d="M0 0m421 247h2m-16 -2h2m-39 -26h2m15 21h2m19 5h2m-8 -26h2m-32 -3h2m34 2h2m-8 27h2m48 -15h2m-65 8h2m1 -13h2m-5 0h2m-17 21h2m15 -21h2m33 -11h2m3 0h2m-36 29h2m-6 -19h2m28 24h2m-38 -25h2m-2 0h2m51 23h2m-38 -1h2m-5 -1h2m25 4h2m10 -2h2m-65 -33h2m51 1h2m-14 33h2m-52 -23h2m20 13h2m47 -22h2m-26 31h2m27 -28h2m-29 28h2m-29 -9h2m59 -10h2m-2 0h2m-84 10h2m-3 -1h2m31 9h2m-11 -7h2m36 -24h2m17 25h2m-31 -24h2m-25 27h2m49 -2h2m-5 -21h2m-19 29h2m21 -14h2m-4 -11h2m-10 -7h2m-34 29h2m40 -10h2m-40 11h2m-14 -2h2m48 -12h2m-39 14h2m31 -5h2m-32 5h2m-31 -23h2m44 -9h2m-60 33h2m37 -31h2m-15 3h2m-36 17h2m26 6h2m45 3h2m-30 -28h2m-49 9h2m-2 -1h2m42 -8h2m-27 22h2m61 -13h2m-3 12h2m-41 -20h2m-20 20h2m40 -24h2m-67 7h2m40 -3h2m-36 29h2m-10 -24h2m19 3h2m-2 10h2m37 12h2m-11 -1h2m20 -30h2m-51 21h2m41 9h2m-61 -34h2m16 10h2m2 -3h2m-12 5h2m-15 22h2m72 -21h2m-16 21h2m-69 -23h2m47 22h2m-32 -21h2m31 -10h2m-30 10h2m-5 1h2m-6 14h2m-20 -6h2m42 -17h2m-28 5h2m10 -1h2m44 -3h2m1 3h2m1 16h2m-83 1h2m22 -13h2m17 20h2m-6 0h2m11 2h2m-44 -33h2m-13 19h2m65 -18h2m-49 10h2m29 -9h2m17 31h2m-29 -29h2m27 28h2m-18 1h2m24 -11h2m-46 9h2m-25 -2h2m5 -7h2m13 8h2m-16 -8h2m-7 3h2m5 -2h2m7 7h2m-15 -18h2m-15 -12h2m36 31h2m-14 -1h2m-2 -25h2m4 26h2m21 -31h2m-45 11h2m23 20h2m-46 -22h2m16 15h2m-4 3h2m-17 -1h2m43 5h2m-10 -26h2m-11 2h2m16 24h2m-2 1h2m-43 -32h2m45 33h2m11 0h2m13 -21h2m-62 9h2m-4 1h2m-22 -5h2m18 -5h2m-4 13h2m-20 -10h2m15 -9h2m8 20h2m-6 -5h2m2 5h2m53 -12h2m-53 15h2m8 2h2m36 -5h2m-46 4h2m39 -1h2m-57 -7h2m-23 -2h2m79 -10h2m-1 11h2m-2 0h2m-34 11h2m7 2h2m20 -23h2m-63 1h2m-1 9h2m56 -13h2m-63 0h2m61 15h2m-78 8h2m-6 -23h2m27 20h2m-32 -12h2m-2 0h2m-2 -4h2m23 11h2m-6 -3h2m-21 -14h2m22 19h2m-26 -18h2m53 -6h2m-13 30h2m-46 -6h2m57 9h2m-3 -33h2m21 15h2m-84 5h2m6 -21h2m14 23h2m48 -19h2m-17 -3h2m-44 7h2m32 24h2m-36 -7h2m-20 -6h2m73 -14h2m-52 17h2m16 8h2m-11 -24h2m-17 4h2m51 21h2m-73 -10h2m20 -6h2m-3 0h2m6 -8h2m38 25h2m-40 -26h2m-28 -5h2m24 6h2m13 24h2m33 -17h2m-61 1h2m-12 16h2m9 -17h2m-2 0h2m56 -1h2m-41 17h2m-16 -3h2m45 2h2m-25 3h2m-42 -31h2m5 20h2m-8 -18h2m14 25h2m-9 -9h2m57 2h2m-57 -10h2m8 -6h2m-18 9h2m34 19h2m23 -18h2m-12 -12h2m-50 11h2m-5 1h2m-1 4h2m0 2h2m-4 -4h2m-2 1h2m38 15h2m-39 -10h2m-27 -10h2m80 1h2m-82 12h2m78 -6h2m-47 10h2m-19 -9h2m37 12h2m-38 -15h2m36 15h2m-42 -14h2m4 -9h2m-27 -2h2m59 25h2m-41 -13h2m-5 -2h2m58 4h2m-38 -18h2m6 -2h2m-39 3h2m40 28h2m-44 -28h2m14 2h2m-10 8h2m-2 5h2m47 -17h2m-43 26h2m33 4h2m-17 -31h2m-30 13h2m34 -14h2m-53 -1h2m30 30h2m39 -9h2m-70 8h2m8 -8h2m32 -20h2m-2 32h2m-59 -12h2m25 5h2m-17 5h2m6 -12h2m-22 3h2m11 8h2m48 3h2m14 -24h2m-28 -7h2m-41 26h2m65 -7h2m-39 9h2m35 -17h2m-48 16h2m44 -11h2m-83 3h2m-2 -13h2m46 -5h2m-21 24h2m49 -15h2m-55 13h2m0 -17h2m49 13h2m-49 -14h2m-30 -6h2m16 17h2m0 4h2m-23 8h2m-7 -16h2m29 14h2m-32 -20h2m21 8h2m16 -11h2m30 -1h2m6 14h2m-10 -14h2m-56 16h2m58 -10h2m-47 -4h2m-13 11h2m-6 4h2m30 -19h2m-52 4h2m61 -5h2m10 6h2m-1 0h2m-52 18h2m-11 -14h2m-12 21h2m-11 -17h2m25 9h2m25 -22h2m-36 11h2m45 -12h2m-33 28h2m-10 -19h2m10 19h2m8 -26h2m-52 14h2m70 14h2m-49 -16h2m-7 0h2m-10 -14h2m6 14h2m7 -6h2m-15 18h2m0 -18h2m10 18h2m42 -23h2m-71 26h2m73 -7h2m0 -6h2m-59 1h2m37 15h2m13 -8h2m-29 6h2m-4 -28h2m7 -2h2m-22 28h2m-23 -6h2m-13 8h2m28 -2h2m-9 -20h2m-2 18h2m7 2h2m-25 -2h2m28 3h2m-20 -20h2m-10 7h2m6 -6h2m36 22h2m-31 -27h2m-10 20h2m-30 -13h2m17 5h2m4 5h2m16 -18h2" stroke="#0b0319" stroke-width="2" fill="none"/>
<path transform="scale(0.5)" d="M0 0m420 217h2m23 24h2m-52 -3h2m49 -16h2m-46 -1h2m42 19h2m-55 -7h2m-22 -17h2m26 26h2m17 -25h2m-24 6h2m50 9h2m-48 -12h2m9 -2h2m-47 20h2m77 -12h2m-3 11h2m-7 -18h2m-76 10h2m33 14h2m7 1h2m-5 -24h2m31 -1h2m-71 26h2m-7 -10h2m78 -5h2m-51 -8h2m6 21h2m-17 -10h2m27 -17h2m-9 28h2m31 -7h2m-3 -14h2m-14 -7h2m7 4h2m-18 27h2m-43 -20h2m23 16h2m-36 -28h2m15 22h2m36 9h2m13 -9h2m-55 1h2m11 -18h2m31 24h2m-74 -13h2m5 -16h2m68 8h2m-78 15h2m5 -23h2m2 2h2m39 0h2m-54 4h2m28 1h2m15 22h2m-50 -19h2m16 2h2m-2 5h2m17 11h2m13 2h2m5 1h2m-18 -27h2m21 -3h2m-62 29h2m18 -18h2m-28 -1h2m74 15h2m-78 -17h2m3 20h2m73 -16h2m-36 16h2m-2 0h2m10 2h2m9 -1h2m-20 0h2m-53 -20h2m43 19h2m15 -28h2m-46 10h2m22 17h2m-13 -21h2m47 11h2m-51 8h2m-18 -1h2m52 5h2m-21 0h2m-11 -25h2m-13 3h2m-7 6h2m-2 4h2m27 -17h2m-8 28h2m11 2h2m0 -30h2m-37 8h2m12 19h2m-32 0h2m36 2h2m-26 -9h2m0 -11h2m-12 6h2m9 -7h2m49 7h2m-82 -2h2m63 17h2m-5 -30h2m-61 26h2m20 -12h2m0 8h2m-2 -12h2m-29 -1h2m-2 0h2m45 19h2m-44 -28h2m6 26h2m-9 -26h2m17 16h2m-21 -16h2m-8 9h2m78 3h2m-56 0h2m20 -10h2m-34 6h2m-17 -2h2m-3 4h2m16 2h2m17 14h2m-7 -1h2m43 -19h2m-53 14h2m49 3h2m-36 4h2m7 2h2m-29 -15h2m7 12h2m-10 -7h2m8 7h2m-4 0h2m-23 -24h2m3 12h2m58 7h2m-48 4h2m35 4h2m-54 -10h2m-19 -2h2m54 13h2m-1 0h2m-45 -5h2m-16 -16h2m27 -1h2m-3 15h2m45 -18h2m-49 18h2m-5 -7h2m1 6h2m40 6h2m-32 -2h2m25 -25h2m-15 0h2m-4 28h2m-23 -22h2m-33 9h2m29 -9h2m7 -2h2m16 25h2m-26 -24h2m25 24h2m-12 -1h2m-48 -28h2m70 21h2m-52 -11h2m-1 -1h2m36 -9h2m-22 2h2m27 22h2m-61 -3h2m11 1h2m11 -19h2m34 17h2m-73 7h2m5 -24h2m10 9h2m-2 4h2m-1 3h2m51 -4h2m-3 -3h2m-55 5h2m20 10h2m-17 -3h2m18 -24h2m12 28h2m-57 -28h2m19 5h2m13 -3h2m26 20h2m-73 4h2m72 -9h2m-8 -14h2m-45 4h2m-31 1h2m65 -8h2m-57 2h2m11 13h2m47 9h2m-68 -25h2m37 27h2m-50 -9h2m25 2h2m-25 -18h2m49 -1h2m-2 28h2m-2 0h2m10 -28h2m-7 29h2m-54 -2h2m-12 -10h2m25 2h2m-29 -10h2m57 -10h2m-49 1h2m37 1h2m-19 4h2m43 12h2m-48 -11h2m-9 10h2m0 -6h2m48 10h2m-66 -17h2m-16 11h2m8 13h2m41 -27h2m20 23h2m-40 1h2m40 -9h2m-79 -11h2m23 14h2m-17 -18h2m18 6h2m45 5h2m-52 10h2m-16 -16h2m-10 22h2m-2 -28h2m20 10h2m48 7h2m-75 11h2m33 -2h2m30 -22h2m-58 14h2m-15 8h2m36 0h2m23 3h2m10 -16h2m-38 13h2m-41 -24h2m59 -1h2m-19 26h2m-37 -2h2m37 3h2m25 -11h2m-81 -1h2m14 6h2m-17 0h2m56 8h2m10 -27h2m-45 9h2m-19 16h2m47 2h2m11 -4h2m-62 -24h2m-1 22h2m-7 4h2m31 -23h2m-27 6h2m16 14h2m33 3h2m-42 -19h2m47 5h2m-16 -13h2m6 3h2m-38 21h2m-6 -1h2m-7 -13h2" stroke="#0f0520" stroke-width="2" fill="none"/>
<path transform="scale(0.5)" d="M0 0m370 226h2m13 -2h2m57 16h2m-2 0h2m-26 4h2m-13 -3h2m5 2h2m-20 -6h2m40 -18h2m-68 -2h2m39 25h2m-16 -18h2m32 -7h2m-51 14h2m46 14h2m7 -4h2m-48 -5h2m49 -6h2m-52 -4h2m-31 4h2m13 -7h2m59 16h2m-22 -22h2m-41 17h2m24 -13h2m18 -4h2m5 26h2m-44 -7h2m2 3h2m4 -17h2m28 22h2m-42 -15h2m18 14h2m-10 -2h2m-40 -2h2m55 6h2m-34 -14h2m15 -10h2m-39 23h2m21 -18h2m16 -7h2m-22 9h2m-30 4h2m0 6h2m74 -11h2m-80 1h2m72 12h2m-25 4h2m-50 -4h2m27 -16h2m44 11h2m-77 5h2m37 -19h2m33 3h2m-49 14h2m43 2h2m-62 -2h2m55 4h2m-20 2h2m-4 0h2m-26 -9h2m2 4h2m-33 -12h2m-3 2h2m13 10h2m-10 -23h2m7 19h2m-4 -14h2m46 -4h2m10 24h2m-8 3h2m-54 -9h2m21 -13h2m-34 -6h2m-8 10h2m26 1h2m16 -7h2m-36 21h2m-11 -23h2m37 3h2m-44 7h2m9 -9h2m-8 24h2m23 -5h2m22 6h2m17 -23h2m-72 20h2m28 -18h2m-8 11h2m3 6h2m-32 0h2m2 4h2m3 -2h2m54 -24h2m-41 18h2m47 -1h2m-66 -14h2m12 14h2m22 -17h2m-25 10h2m30 17h2m-23 -4h2m-4 -18h2m24 -6h2m-25 5h2m11 22h2m-54 -6h2m51 7h2m-3 -1h2m-51 -1h2m22 -7h2m3 -12h2m41 2h2m-29 -7h2m-24 10h2m-29 4h2m27 -7h2m-15 7h2m36 -15h2m20 18h2m-51 -7h2m14 12h2m-30 -6h2m-9 -18h2m6 16h2m58 -7h2m-49 11h2m46 -4h2m-41 7h2m11 4h2m12 0h2m-52 -19h2m37 -7h2m-21 22h2m-37 -15h2m49 19h2m11 -26h2m-10 -1h2m17 21h2m-2 0h2m-50 -9h2m0 8h2m23 -19h2m-29 13h2m38 13h2m5 -4h2m-35 1h2m3 -21h2m15 25h2m-15 -2h2m25 -16h2m-45 12h2m-21 -5h2m18 -11h2m-7 3h2m-23 -9h2m4 18h2m29 7h2m-20 -7h2m-18 5h2m14 -11h2m47 -1h2m-11 -9h2m-56 19h2m-16 -12h2m37 14h2m-12 -13h2m-16 6h2m28 9h2m-20 -11h2m-14 0h2m14 -6h2m22 19h2m-23 -20h2m-7 12h2m31 -19h2m13 17h2m-31 -14h2m-2 23h2m-4 -1h2m-19 -6h2m22 8h2m-21 -5h2m-5 -13h2m11 -5h2m-1 21h2m30 -10h2m-67 8h2m14 -12h2m5 11h2m-2 0h2m11 -19h2m0 23h2m-5 -1h2m-34 -8h2m16 5h2m26 6h2m-7 -27h2m-12 3h2m19 -2h2m-3 -1h2m-38 8h2m45 3h2m-77 11h2m40 1h2m-18 -10h2m39 11h2m-1 0h2m-37 -18h2m40 9h2m-49 4h2m3 2h2m-34 -20h2m-3 20h2m29 -14h2m-3 13h2m38 2h2m-35 -17h2m-13 6h2m42 11h2m-44 -13h2m7 13h2m-13 -5h2m-2 -5h2m-18 11h2m21 -17h2m-6 2h2m-27 17h2m68 -9h2m-50 -3h2m46 4h2m-3 -11h2m-23 20h2m-47 -1h2m35 -2h2m-33 -9h2m-16 4h2m46 7h2m-21 -16h2m-17 6h2m12 -5h2m-3 2h2m-1 6h2m5 3h2m36 -15h2m-38 0h2m-26 1h2m-13 -6h2m-5 10h2m0 11h2m-1 -21h2m36 21h2m-43 -8h2m67 10h2m-6 2h2m-64 -4h2m-4 -3h2m27 -10h2m-24 16h2m64 -19h2m-45 13h2m-3 0h2m43 0h2m-45 1h2m11 -17h2m-19 12h2m-1 1h2m-28 7h2m69 -2h2m-3 1h2m-75 -8h2m29 5h2m4 2h2m-6 -14h2m6 -2h2m-5 16h2m31 2h2m-41 -3h2m3 -14h2" stroke="#16072c" stroke-width="2" fill="none"/>
<path transform="scale(0.5)" d="M0 0m444 224h2m-76 6h2m65 -11h2m-60 -1h2m3 19h2m-15 -14h2m71 14h2m-30 4h2m-48 -7h2m74 -7h2m-63 5h2m59 0h2m-75 9h2m10 -12h2m42 -11h2m14 9h2m-76 -4h2m52 21h2m-22 -19h2m3 14h2m1 -17h2m-41 -4h2m-6 10h2m-1 8h2m72 0h2m-41 -11h2m1 -1h2m8 18h2m-21 -15h2m-17 6h2m20 -9h2m-35 -6h2m70 15h2m-73 -15h2m64 22h2m-39 -15h2m18 18h2m-24 -6h2m20 -18h2m-27 13h2m-21 -13h2m25 20h2m8 2h2m7 3h2m17 -7h2m-24 -18h2m9 25h2m7 -21h2m-40 2h2m-8 5h2m-17 -6h2m14 12h2m0 -10h2m-30 -8h2m69 9h2m-73 14h2m70 -13h2m-44 10h2m-1 -13h2m24 -7h2m-34 12h2m6 -5h2m5 15h2m-32 -4h2m15 -9h2m16 -7h2m-22 11h2m-28 10h2m71 -7h2m-68 7h2m-11 -16h2m-3 5h2m38 9h2m-38 -20h2m39 3h2m-17 13h2m39 -13h2m-33 2h2m-1 15h2m-29 -14h2m45 -7h2m-27 7h2m4 -2h2m-8 2h2m-38 8h2m13 -4h2m15 7h2m4 3h2m-1 0h2m-4 -14h2m-5 12h2m6 2h2m25 -19h2m-8 -2h2m-8 26h2m-10 -24h2m24 6h2m-16 -8h2m12 18h2m-34 4h2m-6 -1h2m28 -19h2m-24 21h2m-5 -19h2m17 22h2m7 -4h2m1 -5h2m-37 4h2m0 0h2m-14 -6h2m41 6h2m-30 1h2m-35 -19h2m33 0h2m-40 21h2m60 -2h2m-42 -12h2m-3 1h2m-32 -2h2m3 15h2m47 1h2m-26 -11h2m20 -13h2m-5 23h2m-37 -9h2m17 -6h2m6 -3h2m-13 10h2m18 -14h2m-14 18h2m-5 -12h2m24 -8h2m-24 6h2m-5 14h2m0 0h2m-25 -8h2m56 8h2m-1 -13h2m-46 4h2m3 8h2m35 3h2m-24 -20h2m-4 21h2m-39 -1h2m1 -15h2m56 14h2m-36 -14h2m-1 -1h2m8 18h2m-41 -23h2m26 19h2m22 -20h2m-28 19h2m6 3h2m-2 -17h2m-16 10h2m5 -8h2m21 -7h2m12 19h2m-22 6h2m-6 -1h2m-20 -7h2m11 5h2m27 -3h2m-67 5h2m35 -20h2m22 18h2m-32 -2h2m9 4h2m-50 -22h2m30 6h2m35 13h2m-74 -8h2m10 7h2m32 -16h2m6 21h2m-42 -11h2m59 2h2m-20 9h2m-58 -18h2m11 7h2m58 4h2m-35 -12h2m-3 14h2m27 -17h2m-39 14h2m11 5h2m27 -3h2m-42 -10h2m35 -5h2m-7 -3h2m-54 8h2m15 6h2m15 -12h2m25 11h2m-76 3h2m44 -13h2m-17 6h2m1 -1h2m0 -1h2m30 15h2m-7 2h2m9 -14h2m-2 0h2m-30 -7h2m-2 0h2m26 12h2m-3 -8h2m-33 -3h2m-8 3h2m4 -2h2m6 -4h2m-19 7h2m-34 -5h2m50 -3h2m15 3h2m-24 -1h2m-20 12h2m3 4h2m22 6h2m-10 -23h2m-23 11h2m15 10h2m18 1h2m-18 0h2m-53 -18h2m66 -3h2m-68 18h2m29 -12h2m-25 -6h2m54 -1h2m-2 0h2m-15 -1h2m14 3h2m-34 4h2m25 17h2m-32 -16h2m38 5h2m-42 -5h2m6 12h2m-31 -9h2m-5 10h2m61 -5h2m-44 -6h2m36 -7h2m-11 -3h2m-26 18h2m-38 -6h2m44 -9h2m2 -2h2m-19 7h2m8 12h2m-4 -1h2m-43 -10h2m29 1h2m-20 1h2m30 -8h2m-14 6h2m-35 2h2m30 5h2m40 0h2m-18 -16h2m-60 17h2m37 -11h2m-8 11h2m-23 -11h2" stroke="#280d48" stroke-width="2" fill="none"/>
<path transform="scale(0.5)" d="M0 0m379 241h2m25 -14h2m4 -2h2m-40 16h2m39 -18h2m-2 0h2m-1 17h2m16 -21h2m1 1h2m5 6h2m-44 4h2m7 8h2m32 -10h2m-75 -5h2m33 4h2m-27 -4h2m61 5h2m-68 -9h2m25 17h2m-25 -1h2m60 -5h2m-64 -6h2m18 10h2m-3 -3h2m-2 0h2m1 5h2m-36 -7h2m33 7h2m28 6h2m-32 -6h2m1 1h2m-35 -18h2m25 15h2m37 4h2m1 -10h2m-32 11h2m28 -7h2m-26 -11h2m-16 6h2m-31 -8h2m58 2h2m4 14h2m-11 -15h2m-15 0h2m6 -1h2m-28 16h2m-23 0h2m34 6h2m13 2h2m-28 -17h2m29 15h2m-22 0h2m-17 -13h2m-23 8h2m60 -3h2m-33 -9h2m26 14h2m-16 5h2m8 -22h2m-26 3h2m-12 4h2m25 15h2m10 -18h2m-42 4h2m-21 4h2m28 5h2m-3 -13h2m26 -2h2m-34 14h2m-3 -10h2m-31 14h2m50 -22h2m-57 22h2m44 -21h2m-15 6h2m9 15h2m-16 -14h2m-25 9h2m24 1h2m33 -11h2m-41 2h2m-4 3h2m2 5h2m36 -6h2m-36 7h2m31 -9h2m-14 15h2m-9 -23h2m-21 8h2m10 -6h2m-48 2h2m-1 -3h2m1 20h2m-2 -22h2m26 15h2m-3 -3h2m-33 -8h2m-1 16h2m70 -9h2m-44 4h2m2 2h2m36 -5h2m-8 10h2m-70 -12h2m30 2h2m-33 7h2m52 5h2m-44 -16h2m23 9h2m-8 -4h2m36 -9h2m-29 1h2m-45 2h2m1 -6h2m65 19h2m-32 -13h2m0 -1h2m-4 12h2m-33 3h2m32 -16h2m-13 8h2m-23 -9h2m37 18h2m-41 -4h2m26 -11h2m23 16h2m5 -4h2m-40 -9h2m32 12h2m-37 -10h2m24 -12h2m-18 6h2m25 14h2m-30 -14h2m-9 4h2m-35 7h2m37 1h2m-30 -10h2m29 11h2m-7 -11h2m0 -1h2m-9 6h2m17 10h2m20 -12h2m-41 4h2m-4 0h2m11 5h2m-35 -9h2m44 -11h2m-28 12h2m-26 9h2m22 -8h2m0 2h2m13 -13h2m-41 17h2m22 -3h2m21 8h2m10 -4h2m-24 1h2m-17 -8h2m-23 1h2m19 0h2m14 -12h2m-18 10h2m33 -9h2m-68 16h2m9 -6h2m-12 -12h2m2 -1h2m28 16h2m16 7h2m-47 -4h2m21 -5h2m0 1h2m9 -11h2m-13 11h2m-4 -2h2m7 -7h2m-39 -6h2m66 11h2m-12 12h2m-32 -10h2m-2 -1h2m1 4h2m4 -10h2m-5 11h2m-7 -7h2m-24 7h2m-6 4h2m63 -12h2m-41 5h2m5 -7h2m-1 -1h2m-1 0h2m3 -3h2m-16 9h2m36 -5h2m-39 3h2m-2 0h2m-3 4h2m6 -8h2m-40 15h2m66 -13h2m-2 9h2m-39 -3h2m3 3h2m25 4h2m-60 -20h2m61 16h2m-20 6h2m15 -18h2m-20 18h2m17 -6h2m-72 -15h2m-4 6h2m52 -7h2m16 6h2m-28 -3h2m-13 11h2m21 8h2m-23 -7h2m21 7h2m-23 -6h2m-7 -5h2m-2 1h2m-25 5h2m23 -8h2m31 10h2m-37 -8h2m2 4h2m-5 -2h2m35 -6h2m-2 0h2m-14 15h2m-23 -15h2m-3 8h2m2 -10h2m-40 -5h2m31 8h2m-4 4h2m-2 -2h2m-2 3h2m22 -13h2m-52 0h2m24 10h2m0 -1h2m34 1h2m-32 7h2m-42 -17h2m3 0h2m26 13h2m3 -7h2m8 -5h2m20 11h2m-39 2h2m-29 6h2m54 -19h2m-24 4h2m-8 4h2m-3 4h2m9 6h2m-11 -5h2m25 7h2m-55 -12h2m-13 7h2m64 4h2m0 -2h2m-23 2h2m-9 -14h2m26 13h2m-35 -8h2m0 -3h2m-1 7h2m-39 3h2m7 -13h2m-1 7h2m59 -2h2m-2 3h2m-12 9h2m-27 -14h2m19 14h2m-58 -3h2m65 -15h2m-36 7h2m-37 3h2m33 -2h2m-2 -1h2m-38 1h2m53 10h2m15 -7h2m-16 7h2m-22 -8h2m30 4h2m-33 -3h2" stroke="#3a1263" stroke-width="2" fill="none"/>
<path transform="scale(0.5)" d="M0 0m436 241h2m-26 -5h2m2 -12h2m-11 7h2m6 7h2m19 3h2m-6 -21h2m-22 6h2m-7 6h2m4 4h2m10 6h2m-46 -20h2m-1 1h2m31 2h2m-8 9h2m-37 5h2m34 -4h2m13 7h2m-9 -19h2m11 -3h2m-25 10h2m-34 -10h2m54 0h2m-14 2h2m-12 6h2m32 1h2m-26 11h2m-11 -12h2m29 8h2m-73 -6h2m63 -9h2m-21 3h2m-7 12h2m0 -10h2m-8 5h2m34 -1h2m-38 1h2m-29 6h2m53 4h2m-14 0h2m-18 -8h2m-2 -2h2m-36 -10h2m33 12h2m26 -11h2m-8 -2h2m-21 15h2m-1 -9h2m1 12h2m-8 -9h2m-1 6h2m-31 0h2m27 0h2m-39 4h2m-2 0h2m67 -5h2m-36 -1h2m-1 -4h2m-41 0h2m55 -9h2m-3 0h2m-20 11h2m18 11h2m-6 -1h2m-14 -14h2m-6 4h2m14 -10h2m10 19h2m-30 -10h2m0 4h2m-4 -1h2m-29 -9h2m59 5h2m-36 1h2m1 -3h2m-4 6h2m-3 0h2m8 -10h2m-43 17h2m29 -9h2m0 3h2m-40 -11h2m68 12h2m-2 -3h2m-32 4h2m0 1h2m-7 -8h2m1 -2h2m6 -5h2m-51 12h2m35 -2h2m-1 1h2m3 4h2m-42 3h2m36 -13h2m15 15h2m-49 -12h2m-14 1h2m36 0h2m0 -3h2m9 12h2m-13 -11h2m-3 2h2m28 -7h2m-32 7h2m0 -3h2m-36 -8h2m33 15h2m1 -10h2m-43 14h2m44 -17h2m-13 8h2m0 -2h2m-3 6h2m-3 -2h2m-2 0h2m11 9h2m-49 -21h2m4 15h2m26 -3h2m-2 -1h2m0 4h2m-42 -8h2m40 9h2m7 -15h2m-46 19h2m44 -19h2m-6 19h2m-13 -9h2m-40 4h2m38 -7h2m-2 7h2m7 5h2m-9 -14h2m27 2h2m-10 -7h2m-13 20h2m15 -5h2m-60 -7h2m57 6h2m-29 -9h2m0 -2h2m-46 -2h2m65 2h2m-31 7h2m14 -10h2m-18 9h2m-2 0h2m26 -6h2m-8 17h2m-24 -9h2m-39 6h2m35 -6h2m-2 0h2m-41 -5h2m37 6h2m-2 -1h2m-40 -9h2m40 13h2m0 2h2m-47 -6h2m49 -10h2m-5 17h2m6 -18h2m-57 2h2m57 18h2m-20 -6h2m-42 3h2m67 -5h2m-31 -6h2m-4 3h2m-33 -7h2m60 7h2m-28 -5h2m1 14h2m8 2h2m8 -16h2m-30 9h2m1 2h2m0 -11h2m1 14h2m-11 -7h2m4 -7h2m-2 12h2m-6 -9h2m18 -7h2m-60 18h2m50 -18h2m-13 5h2m-5 8h2m-1 1h2m-4 -3h2m13 9h2m-48 -5h2m46 -15h2m-17 6h2m22 12h2m-12 2h2m11 -5h2m-4 2h2m-3 -15h2m-67 0h2m63 0h2m-6 -2h2m6 13h2m-32 -3h2m-37 -11h2m42 19h2m4 -18h2m0 0h2m-49 4h2m28 7h2m16 -11h2m-20 11h2m7 -9h2m-10 6h2m16 12h2m-17 -15h2m-46 8h2m41 1h2m26 -3h2m-31 3h2m-4 -5h2m22 10h2m-61 0h2" stroke="#60175b" stroke-width="2" fill="none"/>
<path transform="scale(0.5)" d="M0 0m442 235h2m-19 6h2m2 -20h2m-59 5h2m7 -2h2m59 4h2m-4 9h2m-65 3h2m48 1h2m13 -13h2m-19 13h2m7 -1h2m7 -8h2m-71 -10h2m4 1h2m31 7h2m-39 9h2m63 -3h2m-28 -1h2m13 6h2m-14 -3h2m1 1h2m-8 -12h2m25 1h2m-62 5h2m-9 6h2m39 -3h2m21 2h2m-69 -11h2m40 2h2m26 1h2m-66 -9h2m50 20h2m-58 -19h2m59 0h2m-11 19h2m12 -4h2m-27 -10h2m-41 -6h2m-1 18h2m35 -5h2m-44 -1h2m44 -8h2m10 16h2m-14 -3h2m-7 -8h2m16 -9h2m-51 9h2m-5 -8h2m33 6h2m2 -3h2m-40 13h2m0 -7h2m37 8h2m-41 -8h2m41 -9h2m-11 4h2m9 -5h2m-6 1h2m-11 11h2m20 -10h2m-66 4h2m-1 -2h2m7 9h2m58 0h2m-2 -1h2m-4 3h2m-60 -8h2m55 -4h2m-28 8h2m-43 -4h2m59 -6h2m-56 0h2m0 14h2m-11 -7h2m57 -8h2m-14 17h2m-47 -16h2m46 17h2m15 -15h2m-28 6h2m-1 0h2m26 3h2m-31 -1h2m18 -10h2m-53 8h2m54 8h2m-26 -9h2m-1 -1h2m16 12h2m-62 -4h2m46 2h2m1 2h2m-1 0h2m-53 -18h2m59 18h2m-56 -5h2m59 -4h2m-71 -7h2m39 8h2m18 -10h2m-14 17h2m-49 -17h2m51 -1h2m-2 20h2m3 -19h2m-1 0h2m-6 19h2m-53 -2h2m1 -12h2m54 -3h2m-14 -2h2m10 16h2m-59 -2h2m-9 1h2m55 -16h2m-57 0h2m-4 17h2m48 -15h2m7 17h2m2 -17h2m-65 -1h2m42 15h2m-5 -8h2m-3 2h2m20 8h2m-59 -1h2m40 0h2m-8 -5h2m-3 -2h2m-36 6h2m33 -8h2m2 8h2m2 -14h2m16 12h2m-10 5h2m6 -7h2m-70 2h2m7 -4h2m31 1h2m-2 -2h2m-3 1h2m-1 -1h2m25 0h2m-8 9h2m-23 -10h2m-2 2h2m-35 0h2m-3 4h2m43 5h2m-49 -17h2m34 8h2m-2 -1h2m-39 -8h2m45 18h2m7 -18h2m-15 16h2m10 2h2m-63 -9h2m46 -7h2m15 14h2m-20 -13h2m-5 9h2m-39 -12h2m61 9h2m-62 -4h2m58 4h2m-29 1h2m23 4h2m-26 -1h2m-3 -3h2m24 -2h2m-71 0h2m59 -8h2m5 5h2m-1 4h2m-28 0h2m-38 -9h2m-3 0h2m57 16h2m-10 -16h2m-55 0h2m60 15h2" stroke="#8b1b4a" stroke-width="2" fill="none"/>
<path transform="scale(0.5)" d="M0 0m416 234h2m18 5h2m-63 -17h2m64 10h2m-65 6h2m42 0h2m-9 -8h2m9 10h2m-11 -5h2m-37 -2h2m55 -8h2m-24 2h2m-3 2h2m1 8h2m-46 0h2m45 1h2m-8 -5h2m22 2h2m-9 -13h2m-59 0h2m53 18h2m-54 -17h2m-3 -1h2m41 2h2m-44 14h2m43 1h2m-6 -2h2m-42 0h2m50 3h2m2 -1h2m3 -9h2m-63 7h2m-5 -15h2m46 1h2m-54 5h2m6 6h2m49 6h2m-54 -16h2m-1 2h2m48 -4h2m-15 14h2m15 -13h2m2 13h2m-19 2h2m-8 -5h2m-2 -3h2m-42 -8h2m44 16h2m17 -4h2m-67 4h2m63 -9h2m-13 -7h2m-4 0h2m-6 1h2m-6 2h2m14 13h2m-19 -2h2m-2 0h2m17 1h2m-12 -15h2m-49 4h2m33 7h2m22 -5h2m-26 5h2m-39 4h2m37 -10h2m-48 2h2m49 9h2m0 1h2m13 -11h2m-25 0h2m7 -5h2m-6 1h2m9 -2h2m2 3h2m-5 -2h2m2 2h2m-11 -3h2m-7 1h2m-48 15h2m53 1h2m-2 0h2m-57 -1h2m-4 0h2m39 -4h2m2 4h2m18 -9h2m-18 10h2m-54 -10h2m43 -1h2m-4 4h2m7 -9h2m-6 15h2m-3 -12h2m0 12h2m-46 0h2m45 -15h2m3 17h2m-56 -17h2m1 0h2m-1 14h2m-9 -6h2m54 -9h2m-6 1h2m11 3h2m-1 9h2m-62 -12h2m60 9h2m-14 8h2m-13 -6h2m-47 -8h2m46 -1h2m-6 4h2m20 6h2m-11 -13h2m-52 13h2m37 -8h2m13 -4h2m-4 16h2m-16 -5h2m-3 -5h2m-1 -1h2m20 1h2m-61 0h2m55 -3h2m-16 13h2m7 -16h2m0 15h2m-13 0h2m-46 -3h2m36 -8h2m17 10h2m1 -7h2m-25 -1h2m-46 2h2m55 8h2m-57 -16h2m3 12h2m42 3h2m1 -15h2m-48 3h2m51 -3h2m-56 3h2m50 -3h2m-5 16h2m8 -4h2m-6 -11h2m-16 1h2m-44 -1h2m55 0h2m-20 10h2m1 3h2m15 0h2m-65 0h2m42 -10h2m-41 -2h2m53 13h2m-20 -8h2m21 2h2m-2 0h2m-11 7h2m7 -8h2m-10 -8h2m6 8h2m-12 -8h2m-10 2h2m14 1h2m0 4h2m-19 -6h2m3 15h2m-3 -16h2m0 0h2m-50 3h2m57 5h2m-68 5h2m46 -11h2" stroke="#ad2638" stroke-width="2" fill="none"/>
<path transform="scale(0.5)" d="M0 0m438 236h2m-4 1h2m-14 1h2m-6 -2h2m14 1h2m-65 -7h2m60 8h2m-57 -12h2m58 3h2m-13 -6h2m-58 11h2m0 -10h2m43 2h2m-4 3h2m8 -6h2m-56 2h2m48 -1h2m-48 -1h2m59 11h2m-7 -10h2m-56 10h2m36 -4h2m-1 -2h2m6 -5h2m-11 7h2m-39 -3h2m-3 8h2m-9 -4h2m57 8h2m1 -15h2m-17 3h2m12 -3h2m4 6h2m-11 9h2m-52 -8h2m55 4h2m-63 -12h2m61 9h2m-24 -3h2m17 -4h2m-58 7h2m-3 -7h2m50 14h2m-2 0h2m-53 -11h2m-7 -5h2m61 5h2m-17 10h2m10 -1h2m-65 -10h2m-2 6h2m1 4h2m45 1h2m-52 -8h2m57 9h2m-6 -16h2m-57 8h2m64 3h2m-8 -10h2m-3 15h2m-58 -16h2m-4 11h2m58 -10h2m-62 1h2m60 12h2m-62 0h2m41 -9h2m15 9h2m-18 -10h2m2 -3h2m5 15h2m-11 -13h2m6 -3h2m-51 7h2m56 -2h2m-23 2h2m-2 0h2m-2 0h2m4 -6h2m13 10h2m-7 -10h2m-59 13h2m0 -12h2m-6 -1h2m59 13h2m-17 -11h2m7 13h2m-11 -3h2m-43 -11h2m-2 10h2m50 4h2m2 -14h2m-19 3h2m-40 4h2m48 7h2m-14 -11h2m-1 7h2m17 -5h2m-6 -5h2m-18 4h2m0 7h2m-49 -11h2m51 13h2m-4 0h2m10 -12h2m-13 12h2m11 -8h2m-6 8h2m-63 -11h2m59 -3h2m-3 14h2m-11 0h2m-47 -12h2m55 0h2m-3 10h2m-65 -7h2m50 9h2m-9 -7h2m-46 -5h2m61 0h2m-63 10h2m48 2h2m2 -15h2m7 6h2m-4 7h2m-19 -8h2m-41 4h2m-10 -3h2m4 -5h2m57 4h2m-1 3h2m-13 -7h2m-7 1h2m-4 11h2m-48 -1h2m54 -11h2m2 1h2m-9 -1h2m9 7h2m-8 -7h2m-13 2h2m14 2h2m-18 -2h2m14 8h2m-2 1h2m-15 -10h2m-48 10h2m54 -10h2m-15 1h2m9 12h2m-1 -1h2m-56 -10h2m46 -3h2m6 2h2m0 9h2m-60 -3h2m39 3h2m-44 -10h2m38 7h2m2 4h2m-51 -10h2m47 11h2m-6 -7h2m-47 2h2m44 3h2m-3 -5h2m-2 1h2m7 7h2m-2 0h2m-9 -3h2m-48 -10h2m-3 7h2m59 5h2m-13 -12h2m2 13h2m-56 -11h2" stroke="#ce3426" stroke-width="2" fill="none"/>
<path transform="scale(0.5)" d="M0 0m430 224h2m-58 10h2m54 -10h2m-58 9h2m43 -4h2m-41 5h2m41 2h2m3 -12h2m-54 0h2m50 14h2m6 -12h2m-58 1h2m48 -3h2m-7 13h2m-7 -4h2m12 -8h2m-16 3h2m-45 8h2m45 1h2m9 -12h2m-2 12h2m2 -6h2m-22 1h2m-1 1h2m-45 -9h2m-3 0h2m55 0h2m-15 10h2m2 -8h2m-6 3h2m-3 3h2m-47 -2h2m51 -6h2m-49 7h2m51 7h2m3 -10h2m-12 10h2m-7 -12h2m-47 -2h2m58 8h2m-8 6h2m-60 -9h2m-1 6h2m-1 -11h2m42 9h2m1 3h2m8 1h2m-15 -4h2m-45 -9h2m56 1h2m-17 7h2m-45 -8h2m41 6h2m-48 -2h2m57 -3h2m-5 13h2m-58 -10h2m56 10h2m0 -1h2m2 -8h2m-9 -5h2m0 13h2m-9 0h2m3 1h2m-8 -13h2m-47 8h2m52 4h2m-60 -12h2m42 7h2m5 -7h2m-49 2h2m-2 6h2m-6 2h2m59 -1h2m-65 -2h2m54 -8h2m-2 0h2m4 11h2m-1 -7h2m-12 -3h2m6 11h2m-16 -3h2m14 1h2m-4 -8h2m-17 7h2m11 -8h2m-9 12h2m-6 -10h2m-1 9h2m12 -8h2m-6 9h2m-9 0h2m10 -4h2m-5 3h2m-4 -11h2m-57 0h2m56 10h2m-59 -2h2m50 -8h2m-11 3h2m-48 7h2m43 -2h2m-2 1h2m-2 -6h2m-49 3h2m62 0h2m-66 1h2m59 4h2m-13 0h2m-47 -3h2m40 -3h2m15 3h2m-3 -5h2m-2 1h2m-16 -3h2m-48 9h2m42 -6h2m14 4h2m-18 0h2m-44 1h2m-2 -8h2m40 6h2m-47 3h2m58 -9h2m-62 -1h2m59 9h2m-2 -1h2m-10 4h2m1 0h2m-12 -10h2m13 1h2m-8 -3h2m3 10h2m-17 -4h2m2 -5h2m6 11h2m-14 -4h2m-49 -3h2m0 -5h2m46 11h2m-5 -6h2m12 -4h2m-63 3h2m49 -3h2m10 8h2m-7 3h2m-2 -12h2m3 4h2m-11 8h2m-7 -2h2m9 -9h2m0 1h2m-4 -1h2m-11 10h2m-53 -7h2m61 5h2m-60 -8h2m56 3h2m-65 3h2m55 5h2m5 -6h2m-65 -5h2m-2 7h2m60 1h2m-3 -7h2m-1 5h2m-17 -3h2m-49 -2h2m-2 0h2m-2 6h2m48 -7h2" stroke="#e05720" stroke-width="2" fill="none"/>
<path transform="scale(0.5)" d="M0 0m436 235h2m-13 1h2m7 -10h2m1 7h2m-8 4h2m-54 -10h2m46 10h2m5 -11h2m1 7h2m-17 -5h2m13 4h2m-9 -7h2m-54 10h2m-4 -1h2m-4 -6h2m48 -1h2m0 9h2m-49 -4h2m55 -4h2m-60 6h2m41 -4h2m0 4h2m-2 0h2m12 -4h2m-5 6h2m1 -6h2m-59 0h2m-8 1h2m51 6h2m5 -1h2m-13 -8h2m11 6h2m-63 -6h2m-1 -2h2m47 0h2m-51 8h2m46 -7h2m-47 5h2m53 -6h2m-60 0h2m43 4h2m-45 5h2m57 -5h2m-60 -3h2m53 -1h2m-12 9h2m-4 -5h2m-50 0h2m46 -1h2m10 -3h2m-59 0h2m54 10h2m-56 -9h2m55 1h2m-1 5h2m-3 0h2m-6 3h2m3 -5h2m-17 -2h2m-45 3h2m43 -5h2m10 2h2m-15 -1h2m2 8h2m0 1h2m-1 -12h2m-57 5h2m0 -4h2m44 7h2m-2 -4h2m-48 -3h2m-1 0h2m-5 4h2m0 4h2m-1 -1h2m53 -7h2m-12 7h2m0 2h2m7 0h2m-12 -8h2m-4 5h2m-46 -5h2m43 2h2m-49 -3h2m54 0h2m-8 10h2m-4 -2h2m-2 1h2m10 -6h2m-16 2h2m-1 3h2m-50 -2h2m53 -6h2m-10 5h2m6 5h2m-9 -3h2m-46 -3h2m-4 4h2m57 -5h2m-2 -1h2m-10 8h2m-53 -10h2m52 10h2m-55 -2h2m-1 -6h2m55 1h2m-9 -3h2m-5 1h2m-52 6h2m44 -2h2m-2 1h2m-1 0h2m-49 2h2m1 -2h2m48 -6h2m4 2h2m-15 3h2m9 5h2m-10 -8h2m-4 1h2m8 -2h2m-11 7h2m10 -4h2m-2 2h2m-8 4h2m-9 -4h2m10 1h2m-1 -4h2m-5 -2h2m-11 7h2m-50 -1h2m-1 -6h2m44 3h2m-2 1h2m-47 -4h2m44 6h2m-3 -2h2m-49 -4h2m-2 6h2m0 -5h2m56 1h2m-60 -2h2m43 2h2m-2 2h2" stroke="#f07e1e" stroke-width="2" fill="none"/>
<path transform="scale(0.5)" d="M0 0m377 227h2m-4 2h2m-2 1h2m55 -4h2m-5 10h2m-53 -3h2m52 -6h2m-55 5h2m49 -6h2m-9 4h2m10 3h2m-61 0h2m55 2h2m-9 -8h2m2 -1h2m-6 1h2m-49 3h2m48 6h2m-53 -3h2m54 -5h2m-8 -2h2m-54 2h2m58 3h2m-12 4h2m0 1h2m-5 -2h2m-2 -6h2m9 2h2m-62 -2h2m-1 -1h2m53 8h2m-6 -8h2m-54 5h2m47 2h2m-2 0h2m7 -6h2m-12 1h2m-48 0h2m-3 4h2m-3 -2h2m56 -3h2m-12 5h2m0 -6h2m-51 6h2m45 -1h2m3 -5h2m-53 5h2m46 3h2m6 -1h2m-2 -1h2m-58 -2h2m-4 -2h2m-1 -1h2m-3 3h2m53 -4h2m-9 3h2m6 5h2m-4 -8h2m3 5h2m-60 -4h2m51 7h2m-55 -2h2m52 2h2m-4 -8h2m-5 0h2m4 8h2m-57 -3h2m53 3h2m-1 -1h2m-11 -1h2m3 -6h2m-53 5h2m46 -4h2m-52 3h2m51 4h2m-55 -4h2m48 3h2m-3 -5h2m4 -2h2m-6 1h2m-52 4h2m-2 0h2m56 -1h2m-13 -1h2m9 1h2m-59 -2h2m-4 2h2m-2 0h2m0 -3h2m-3 4h2m55 1h2m-10 1h2m-52 -3h2m0 1h2m-4 -2h2m53 -3h2m-56 2h2m51 -2h2m2 2h2m-2 0h2m-58 0h2m45 4h2m6 1h2m-4 1h2m0 -7h2m-6 -1h2m-3 8h2m-5 -6h2m0 -1h2m1 7h2m-1 -8h2m-2 8h2m-7 -7h2m-51 3h2m-3 0h2m57 0h2m-8 -4h2m2 1h2m-58 3h2m56 0h2m-3 -1h2m-7 -3h2m3 3h2m-3 4h2m-2 0h2m-1 -1h2m-10 1h2m-51 -3h2m46 1h2m5 -4h2m-5 -1h2m-1 8h2m-2 0h2m-2 -8h2m-6 6h2m-3 -2h2m5 -3h2m-4 -1h2m2 2h2m-3 -1h2m-6 -1h2m-6 5h2m-2 -2h2m6 3h2m-8 -5h2m-4 2h2m3 -2h2m-7 2h2" stroke="#f7ad2f" stroke-width="2" fill="none"/>
<path transform="scale(0.5)" d="M0 0m432 228h2m-6 0h2m1 6h2m-7 -5h2m-2 4h2m0 -5h2m-5 2h2m7 1h2m-3 2h2m-3 1h2m-3 -6h2m-8 4h2m-2 -1h2m7 -1h2m-9 -2h2m4 4h2m-6 2h2m-4 0h2m2 -6h2m-7 2h2m-2 3h2m5 -1h2m-5 -4h2m0 5h2m-8 -4h2m2 -1h2m1 4h2m-7 2h2m-1 0h2m1 -5h2m-2 5h2m-7 -5h2m-2 0h2m4 3h2m-2 -3h2m-4 -1h2m-1 5h2m-5 1h2m0 0h2m-7 -2h2m-2 0h2m5 -2h2m-2 1h2m-2 0h2m-4 -2h2m-5 0h2m3 2h2m-4 -2h2m0 1h2m-8 3h2m-1 0h2m3 -3h2m-3 -1h2m-8 1h2m-1 0h2m4 2h2m-8 -3h2m4 1h2m-9 1h2m-2 0h2m-2 1h2m2 -3h2m-5 0h2m2 4h2m-5 -4h2m-2 0h2m2 0h2m-5 0h2m-2 0h2m-4 2h2m2 -2h2m-2 4h2m-6 -2h2m1 -2h2m-1 4h2m-2 -4h2m-2 0h2m-3 4h2m-2 0h2m-3 0h2m-2 0h2m1 -2h2m-3 -1h2m-5 3h2m-2 -3h2m-2 2h2m1 -2h2m-3 2h2m-2 -2h2m-2 2h2m-1 -1h2m-2 0h2m-4 1h2m-1 -2h2m-2 0h2m-2 1h2m-2 0h2m-3 0h2m-1 0h2" stroke="#fcdc52" stroke-width="2" fill="none"/>
<rect x="199.70" y="89.60" width="46.10" height="44.80" fill="none" stroke="#3c4f86" stroke-width="1"/>
<line x1="424.00" y1="78.20" x2="511.80" y2="78.20" stroke="#3a3a3a" stroke-width="1.2"/>
<text x="467.90" y="73.60" font-size="6.6" text-anchor="middle" textLength="34.00" lengthAdjust="spacingAndGlyphs">CD8 T cells</text>
<text x="427.80" y="119.50" font-size="8.4" text-anchor="middle" textLength="67.50" lengthAdjust="spacingAndGlyphs" transform="rotate(-90 427.80 119.50)">170Er_CD3 [Er170Di]</text>
<text x="430.40" y="169.20" font-size="8.4" textLength="82.60" lengthAdjust="spacingAndGlyphs">52Sm_Perforin [Sm152Di]</text>
<rect x="437.40" y="83.20" width="71.20" height="71.10" fill="none" stroke="#444" stroke-width="0.9"/>
<path d="M447.9 154.3v3.2M455.6 154.3v2M460.1 154.3v2M463.3 154.3v2M465.7 154.3v2M467.7 154.3v2M469.5 154.3v2M470.9 154.3v2M472.2 154.3v2M473.4 154.3v3.2M481.1 154.3v2M485.6 154.3v2M488.8 154.3v2M491.2 154.3v2M493.2 154.3v2M495.0 154.3v2M496.4 154.3v2M497.7 154.3v2M498.9 154.3v3.2M506.6 154.3v2M507.6 154.3v3.2M437.4 135.3h-3.2M437.4 129.7h-2M437.4 126.4h-2M437.4 124.1h-2M437.4 122.3h-2M437.4 120.8h-2M437.4 119.6h-2M437.4 118.5h-2M437.4 117.6h-2M437.4 116.7h-3.2M437.4 111.1h-2M437.4 107.8h-2M437.4 105.5h-2M437.4 103.7h-2M437.4 102.2h-2M437.4 101.0h-2M437.4 99.9h-2M437.4 99.0h-2M437.4 98.1h-3.2M437.4 92.5h-2M437.4 89.2h-2M437.4 86.9h-2M437.4 85.1h-2" stroke="#222" stroke-width="0.7" fill="none"/>
<rect x="440.40" y="154.70" width="12.00" height="2.40" fill="#111"/>
<path transform="scale(0.5)" d="M0 0m970 248h2m0 -7h2m-65 -46h2m54 16h2m-12 49h2m-2 0h2m0 -58h2m7 11h2m-67 -18h2m66 40h2m-6 13h2m-1 -33h2m0 5h2m-18 -20h2m-61 64h2m67 -14h2m-40 -55h2m31 61h2m-12 6h2m-16 -67h2m20 62h2m-60 -61h2m69 28h2m-15 -21h2m-55 61h2m-11 -2h2m57 -3h2m12 -40h2m-73 44h2m37 -67h2m6 1h2m-19 0h2m15 0h2m-54 4h2m-1 59h2m72 -18h2m-73 21h2m41 1h2m28 -28h2m-59 28h2m55 -35h2m-6 18h2m-20 -48h2m-12 -2h2m9 64h2m-57 -1h2m51 -61h2m-25 64h2m32 -8h2m-42 8h2m-4 0h2m2 0h2m-24 -64h2m56 5h2m-57 58h2m18 -63h2m0 0h2m4 -1h2m-26 64h2m12 -62h2m38 7h2m6 12h2m-14 -15h2m-6 -2h2m4 3h2m-14 55h2m-40 -59h2m21 -2h2m-17 2h2m41 52h2m-6 3h2m3 -48h2m3 37h2m-46 17h2m29 -59h2m-36 -2h2m-26 55h2m9 4h2m-8 0h2m9 0h2m7 -59h2m44 14h2m-26 -16h2m-27 3h2m43 49h2m-51 -48h2m-6 57h2m52 -49h2m-9 44h2m-62 -51h2m49 -3h2m-53 55h2m70 -19h2m-3 -19h2m0 13h2m-74 -28h2m21 57h2m22 -60h2m-47 58h2m1 -57h2m-9 4h2m-2 0h2m31 -4h2m15 0h2m19 41h2m-10 11h2m8 -28h2m-70 33h2m54 -4h2m-36 -52h2m27 1h2m-42 1h2m55 27h2m-8 17h2m-9 -42h2m-28 54h2m10 -59h2m-4 0h2m-28 4h2m47 7h2m-57 -9h2m13 0h2m15 56h2m24 -15h2m-6 5h2m-3 1h2m-19 -49h2m-50 53h2m71 -25h2m-60 28h2m53 -14h2m-36 -41h2m4 57h2m16 -53h2m9 14h2m-69 -17h2m0 0h2m12 54h2m44 -9h2m-29 -46h2m-16 56h2m42 -15h2m-37 -41h2m19 2h2m-29 -1h2m29 51h2m-37 4h2m40 -45h2m-66 42h2m41 3h2m-16 0h2m19 -55h2m-26 1h2m31 48h2m-26 6h2m-21 -52h2m27 -4h2m-17 56h2m5 0h2m18 -51h2m-55 50h2m48 -52h2m-57 49h2m32 -51h2m-30 54h2m57 -11h2m-27 -44h2m-31 55h2m-13 -3h2m33 4h2m33 -22h2m-18 19h2m-39 -49h2m3 -1h2m20 53h2m-47 -50h2m16 48h2m41 -4h2m1 -3h2m-54 -45h2m3 52h2m52 -22h2m-66 -30h2m13 2h2m3 51h2m-22 0h2m36 -54h2m4 53h2m-24 -52h2m12 53h2m12 -51h2m-57 1h2m21 50h2m-4 -1h2m38 -46h2m-51 45h2m22 2h2m-20 -1h2m42 -8h2m-7 -40h2m-31 -4h2m19 0h2m-39 51h2m5 -48h2m44 37h2m-44 -38h2m-4 0h2m20 51h2m-39 -53h2m58 38h2m-9 9h2m7 -15h2m-21 -32h2m-34 4h2m-19 -1h2m28 50h2m32 -12h2m-4 -32h2m-34 -9h2m-9 2h2m0 51h2m25 -3h2m-42 1h2m43 -47h2m-2 44h2m-58 -46h2m2 -1h2m41 51h2m-5 0h2m-8 1h2m3 -53h2m17 10h2m-11 -7h2m10 33h2m-5 -26h2m-29 43h2m-33 -52h2m35 51h2m23 -32h2m-1 8h2m-2 -1h2m-2 -3h2m-17 25h2m-54 1h2m1 1h2m60 -16h2m-18 16h2m-39 -47h2m-8 47h2m42 -1h2m-4 1h2m-52 -4h2m67 -25h2m-2 7h2m-19 -27h2m6 5h2m7 20h2m-13 20h2m-14 -47h2m-8 0h2m-43 45h2m50 -43h2m-43 0h2m15 50h2m-13 -3h2m26 3h2m11 -5h2m-14 5h2m-44 -50h2m42 49h2m-24 0h2m-1 0h2m20 0h2m18 -27h2m-63 -23h2m-8 47h2m-2 -43h2m51 -2h2m-7 48h2m12 -40h2m-62 -8h2m60 12h2m1 10h2m-59 25h2m14 1h2m-15 -46h2m14 46h2m27 -5h2m-40 -41h2m34 42h2m-49 3h2m1 -1h2m7 -45h2m23 -3h2m14 39h2m-25 11h2m-4 0h2m-38 -3h2m42 3h2m-41 -1h2m59 -23h2m-28 -26h2m-40 2h2m12 46h2m-10 1h2m-13 -42h2m65 10h2m-17 32h2m5 -5h2m-24 6h2m-4 -49h2m-35 4h2m17 43h2m20 2h2m8 -48h2m2 3h2m-59 38h2m-2 -36h2m20 41h2m43 -16h2m-63 -30h2m15 2h2m3 45h2m23 -47h2m13 18h2m-23 -19h2m1 48h2m10 -7h2m4 -14h2m-29 22h2m-3 0h2m-33 -1h2m22 0h2m-19 -2h2m-8 1h2m43 -2h2m-39 -40h2m13 -4h2m7 -1h2m17 7h2m-61 -3h2m35 -4h2m-23 45h2m48 -21h2m-8 -16h2m-61 37h2m14 -40h2m-8 41h2m39 0h2m-4 1h2m-27 1h2m26 -45h2m-15 45h2m-42 -44h2m0 -1h2m11 42h2m-19 -4h2m36 -41h2m10 47h2m-26 0h2m-3 -44h2m-8 42h2m-2 -40h2m-19 0h2m12 0h2m30 42h2m17 -19h2m-56 -25h2m12 44h2m7 -46h2m30 23h2m-20 23h2m-29 -43h2m26 42h2m-25 1h2m-8 -1h2m-1 0h2m36 -38h2m-56 -6h2m26 -1h2m24 39h2m-32 7h2m11 1h2m15 -40h2m-33 39h2m32 -10h2m-55 9h2m3 -1h2m33 -43h2m14 21h2m-2 -3h2m-4 -6h2m-40 33h2m-9 -41h2m-22 2h2m65 19h2m-17 -25h2m-51 42h2m27 -42h2m-32 40h2m15 2h2m21 3h2m-20 -43h2m9 -2h2m-9 45h2m18 0h2m-49 -40h2m-3 1h2m10 38h2m44 -4h2m4 -29h2m-37 34h2m19 -45h2m-29 43h2m-18 -43h2m8 42h2m25 -43h2m-43 3h2m61 14h2m-51 26h2m4 1h2m15 -44h2m24 19h2m-58 26h2m45 -3h2m0 -1h2m0 -33h2m-51 -6h2m34 -1h2m16 28h2m-61 -28h2m10 42h2m17 3h2m22 -37h2m-58 -8h2m13 42h2m33 -39h2m-29 41h2m-28 -42h2m14 40h2m38 -3h2m5 -21h2m-2 10h2m-58 -27h2m8 41h2m14 -42h2m-19 42h2m-20 -4h2m62 -9h2m-62 14h2m-7 -6h2m2 -35h2m16 2h2m-23 1h2m13 0h2m-10 39h2m-9 -6h2m45 -38h2m4 42h2m-29 -40h2m-24 -1h2m38 -2h2m10 5h2m-36 39h2m3 1h2m-28 -4h2m40 5h2m3 -45h2m-37 4h2m44 2h2m-12 -5h2m-24 1h2m-19 41h2m50 -9h2m0 -4h2m-67 -23h2m51 35h2m-51 -40h2" stroke="#010003" stroke-width="2" fill="none"/>
<path transform="scale(0.5)" d="M0 0m949 246h2m-16 -38h2m7 2h2m-15 -2h2m6 44h2m-31 -3h2m41 -29h2m1 8h2m-16 -18h2m-2 0h2m-37 39h2m-1 -35h2m-18 33h2m27 5h2m32 -16h2m-2 -13h2m-21 29h2m-27 -39h2m14 -5h2m-36 40h2m49 -38h2m-13 -2h2m18 11h2m-46 -5h2m-20 1h2m22 -3h2m38 25h2m-28 15h2m-39 -4h2m-4 -33h2m28 36h2m3 1h2m28 -27h2m-1 7h2m-62 18h2m14 -37h2m9 39h2m-35 -8h2m51 -34h2m-32 3h2m-3 0h2m32 -1h2m3 31h2m-35 8h2m11 -43h2m-34 2h2m54 20h2m-29 -21h2m-14 2h2m36 25h2m-36 -26h2m-26 40h2m32 2h2m14 -5h2m-38 1h2m-13 -38h2m54 23h2m-14 -22h2m1 36h2m-26 4h2m-33 -36h2m-2 30h2m27 6h2m16 0h2m-21 0h2m-8 -2h2m20 3h2m-18 -1h2m2 0h2m-4 -41h2m-32 5h2m53 -3h2m-51 -2h2m43 0h2m4 4h2m-48 36h2m1 -2h2m15 3h2m26 -7h2m-48 -31h2m11 37h2m28 -37h2m-57 33h2m57 -29h2m-3 27h2m-15 7h2m-32 -4h2m32 -37h2m-43 40h2m40 -39h2m9 27h2m-45 10h2m-21 -4h2m59 -25h2m0 18h2m-8 9h2m-1 -1h2m-51 -34h2m50 9h2m-2 0h2m-2 0h2m-6 26h2m5 -15h2m-17 -21h2m-9 41h2m-6 0h2m-9 0h2m-28 -40h2m15 37h2m-14 -37h2m12 38h2m31 -4h2m-30 -34h2m15 -2h2m-17 42h2m2 -41h2m0 -1h2m-31 41h2m9 -3h2m-4 -32h2m35 -2h2m5 7h2m-56 30h2m6 -35h2m1 32h2m42 -25h2m-10 -9h2m-40 2h2m-5 33h2m-13 -36h2m5 -1h2m37 39h2m-49 -35h2m60 17h2m-37 -20h2m32 10h2m-2 -1h2m-12 27h2m-39 -1h2m32 -37h2m-27 39h2m0 -37h2m-9 35h2m-13 3h2m28 -40h2m9 40h2m-27 -1h2m-23 -37h2m58 18h2m-16 -20h2m5 4h2m-21 37h2m-30 -2h2m45 -35h2m-19 -4h2m22 22h2m-2 3h2m-63 12h2m-4 -31h2m40 -7h2m-31 38h2m-16 -29h2m0 27h2m55 -2h2m-6 4h2m-32 1h2m26 -36h2m-47 37h2m53 -27h2m-12 -10h2m-55 29h2m32 -30h2m27 13h2m-45 22h2m42 -20h2m-2 8h2m-13 14h2m-38 -32h2m-6 31h2m-8 -36h2m-3 1h2m56 15h2m-6 -9h2m-35 -5h2m-4 1h2m37 14h2m-52 19h2m-14 -3h2m52 -30h2m-37 33h2m6 2h2m-27 -2h2m17 1h2m-12 0h2m-5 1h2m14 -1h2m36 -19h2m-43 18h2m-3 0h2m35 -30h2m2 8h2m-62 -11h2m55 4h2m-61 -1h2m24 -4h2m20 -2h2m12 12h2m-3 -1h2m-1 2h2m-42 -9h2m18 -5h2m-34 38h2m11 -33h2m-3 32h2m30 -33h2m7 15h2m-65 -12h2m35 33h2m23 -13h2m-36 -24h2m-1 -1h2m18 -1h2m10 28h2m-31 11h2m-34 -7h2m25 6h2m21 -37h2m7 30h2m2 -14h2m-43 19h2m-21 0h2m31 3h2m-31 -1h2m31 1h2m-29 -35h2m5 31h2m41 -15h2m-3 5h2m-3 -12h2m-40 -9h2m32 28h2m-18 7h2m-19 -2h2m-26 -6h2m57 0h2m-62 -2h2m8 -28h2m51 17h2m-46 -12h2m29 -6h2m-24 2h2m8 37h2m11 -2h2m-6 -37h2m-18 38h2m-32 -30h2m33 -8h2m-38 8h2m58 21h2m-51 -27h2m-11 2h2m56 5h2m-50 27h2m49 -19h2m-5 -9h2m-29 30h2m-34 -6h2m8 -30h2m25 -2h2m19 8h2m-20 -8h2m-16 37h2m-16 -1h2m-2 -32h2m-14 27h2m17 -24h2m-9 -3h2m-5 -2h2m11 3h2m-12 -1h2m-14 3h2m28 -6h2m-32 30h2m-3 -2h2m37 9h2m-23 -31h2m0 27h2m-21 -2h2m-1 1h2m16 1h2" stroke="#05010a" stroke-width="2" fill="none"/>
<path transform="scale(0.5)" d="M0 0m895 213h2m26 36h2m20 -4h2m4 -23h2m-37 -7h2m32 4h2m-7 27h2m-38 -28h2m-3 0h2m-12 30h2m39 -36h2m7 31h2m-46 -27h2m16 33h2m-12 -3h2m-24 -26h2m27 -6h2m32 17h2m-52 15h2m35 2h2m11 -16h2m-33 -19h2m18 0h2m-6 -2h2m-10 38h2m5 -38h2m6 4h2m-54 30h2m13 -1h2m-10 4h2m-12 -9h2m22 -23h2m-24 1h2m10 28h2m7 1h2m-1 -30h2m6 32h2m-31 -33h2m15 3h2m16 31h2m-4 -37h2m-1 37h2m-23 -31h2m45 14h2m-35 16h2m14 -37h2m0 37h2m-27 -31h2m-15 -4h2m-12 25h2m26 9h2m32 -22h2m-45 19h2m-2 -25h2m10 29h2m-21 -1h2m11 0h2m7 1h2m-28 0h2m4 -32h2m27 33h2m-21 -33h2m-25 24h2m26 -26h2m-31 7h2m-1 21h2m59 -15h2m-45 -8h2m30 -6h2m-31 4h2m18 -6h2m19 19h2m-29 19h2m-6 -36h2m-26 35h2m9 -29h2m-5 -1h2m-10 -5h2m42 34h2m-45 0h2m35 2h2m-31 -30h2m-18 1h2m24 -5h2m-13 29h2m40 -2h2m-56 -27h2m32 -3h2m-17 5h2m27 30h2m-6 1h2m-17 0h2m-17 -5h2m34 -28h2m-30 32h2m-28 -24h2m20 -5h2m-15 -5h2m48 6h2m-10 -6h2m-33 6h2m-8 -2h2m-11 29h2m27 -33h2m-35 6h2m42 30h2m15 -16h2m-11 13h2m-55 -23h2m34 -11h2m-12 34h2m34 -16h2m-37 17h2m33 -14h2m-56 14h2m52 -19h2m-17 -16h2m-37 34h2m-10 -31h2m36 34h2m5 -37h2m-7 0h2m1 36h2m13 -13h2m-8 8h2m-1 -26h2m-48 29h2m38 1h2m3 -3h2m3 -19h2m-13 22h2m-48 -1h2m20 -30h2m1 -2h2m-21 0h2m7 5h2m11 29h2m1 0h2m-31 -1h2m4 -32h2m19 33h2m1 -36h2m24 19h2m-21 -19h2m7 34h2m-34 -3h2m-21 -22h2m54 22h2m-41 -23h2m-5 24h2m-2 0h2m-4 1h2m47 -15h2m-39 -14h2m17 -4h2m-19 3h2m-13 28h2m39 -1h2m-41 -22h2m-19 -1h2m44 -7h2m13 21h2m-56 14h2m19 -32h2m-9 29h2m34 -3h2m-46 -24h2m-7 -3h2m-10 7h2m47 26h2m2 -2h2m-38 -25h2m-19 19h2m0 -23h2m-4 24h2m2 -26h2m18 32h2m1 -31h2m8 -3h2m17 6h2m-33 28h2m-12 -27h2m24 29h2m4 -1h2m-49 -26h2m48 25h2m2 -30h2m-3 -1h2m-47 32h2m-3 -33h2m11 5h2m-12 27h2m0 -1h2m12 1h2m-23 0h2m53 -22h2m-51 21h2m40 -30h2m1 27h2m-17 -30h2m6 1h2m-11 35h2m-2 -36h2m-22 31h2m-6 -23h2m-1 22h2m15 6h2m14 -2h2m-29 -1h2m24 2h2m-51 -7h2m50 -25h2m-44 0h2m39 -1h2m-24 1h2m-31 25h2m1 4h2m28 -31h2m24 24h2m-20 11h2m-6 0h2m16 -5h2m-56 -2h2m20 -24h2m6 30h2m-24 -32h2m-5 -1h2m30 -1h2m-41 23h2m12 7h2m43 -23h2m-11 -6h2m-4 33h2m-33 -27h2m2 23h2m-12 2h2m18 -30h2m19 0h2m-49 30h2m54 -12h2m-3 -11h2m-5 20h2m0 -21h2m-50 -6h2m18 0h2m-31 4h2m49 -4h2m-17 33h2m2 0h2m17 -22h2m-30 21h2m-10 -30h2m-7 3h2m-2 22h2m-21 -19h2m22 22h2m-8 -24h2m32 24h2m6 -11h2m-20 -22h2m-20 5h2m-19 -3h2m-8 5h2m53 0h2m-14 28h2m11 -7h2m-24 7h2m-37 -10h2m19 6h2m-23 -6h2m26 -22h2m20 31h2m0 -31h2m-30 30h2m-7 -3h2m29 4h2m-25 0h2m-20 0h2m48 -22h2m-27 -10h2m4 -1h2m4 34h2m-48 -24h2m-2 17h2m36 -27h2m-22 8h2m-20 15h2m20 7h2m27 -28h2m-9 -2h2m13 23h2m-25 11h2m-20 -6h2" stroke="#080211" stroke-width="2" fill="none"/>
<path transform="scale(0.5)" d="M0 0m940 214h2m-41 2h2m1 3h2m-15 18h2m58 -8h2m-3 -5h2m-54 -10h2m-3 32h2m25 -32h2m-21 6h2m-5 24h2m24 3h2m-26 -4h2m34 3h2m-51 -10h2m27 10h2m4 -32h2m-23 28h2m2 -1h2m-21 -16h2m28 -9h2m27 6h2m-12 -8h2m9 12h2m-52 19h2m42 -28h2m-55 20h2m44 -24h2m-29 8h2m16 -8h2m-39 12h2m51 19h2m-20 -30h2m-38 12h2m47 20h2m-19 0h2m16 -32h2m-50 6h2m31 27h2m-22 -27h2m-9 26h2m13 -3h2m0 -25h2m5 -3h2m-14 26h2m19 -28h2m-33 2h2m44 27h2m-57 -6h2m36 -23h2m-27 7h2m2 2h2m-20 13h2m16 -13h2m-3 18h2m30 6h2m-50 -22h2m0 -6h2m14 4h2m13 -7h2m25 15h2m-35 -13h2m3 -2h2m-29 30h2m39 -31h2m-35 5h2m9 -1h2m-4 24h2m29 -26h2m3 8h2m-6 -6h2m-17 -5h2m-27 8h2m2 19h2m-21 -12h2m26 17h2m-13 -5h2m37 1h2m-45 -23h2m6 23h2m-22 -18h2m53 18h2m-41 -19h2m-5 20h2m-1 -1h2m2 -1h2m0 -18h2m-22 3h2m17 15h2m30 4h2m-8 -31h2m-46 27h2m56 -5h2m-45 5h2m0 0h2m6 5h2m31 -20h2m-61 1h2m17 14h2m-22 -8h2m32 14h2m17 -30h2m-21 -1h2m24 15h2m-43 10h2m31 -24h2m-1 0h2m-18 31h2m-39 -20h2m1 -9h2m21 26h2m2 1h2m-4 -28h2m-1 28h2m-10 -23h2m-9 -3h2m7 23h2m-8 -2h2m-9 4h2m2 -25h2m-14 19h2m-3 -2h2m33 -22h2m-9 3h2m-14 22h2m1 1h2m-3 0h2m-2 0h2m12 6h2m-9 -2h2m-12 -4h2m37 2h2m-3 -25h2m2 4h2m-45 0h2m12 24h2m-26 -1h2m7 -24h2m-13 -2h2m9 24h2m22 -28h2m-1 33h2m-41 -16h2m39 16h2m-43 -14h2m14 7h2m11 5h2m14 1h2m0 0h2m-48 -13h2m15 6h2m-4 0h2m39 -19h2m-55 23h2m43 -29h2m-26 5h2m10 27h2m-13 -27h2m21 26h2m-43 -30h2m17 3h2m-21 27h2m35 1h2m-44 -27h2m19 24h2m-9 -4h2m-17 0h2m48 5h2m1 -26h2m-52 26h2m10 -5h2m2 -17h2m-6 17h2m18 -25h2m-3 1h2m-26 2h2m-7 28h2m0 -29h2m28 -2h2m0 0h2m-42 19h2m8 11h2m19 -28h2m-9 3h2m10 27h2m3 0h2m-8 -31h2m13 1h2m-34 23h2m38 -3h2m-1 -9h2m-11 17h2m6 -20h2m-60 1h2m-2 0h2m26 -8h2m16 -3h2m-42 31h2m10 -6h2m-2 -15h2m13 -9h2m-10 28h2m13 3h2m-41 -23h2m14 1h2m9 -7h2m-30 13h2m-2 5h2m7 9h2m12 -24h2m-9 18h2m16 -23h2m-18 9h2m38 2h2m-51 18h2m38 -29h2m-16 0h2m-7 1h2m4 -1h2m2 31h2m1 0h2m-12 -1h2m-25 -28h2m43 3h2m-50 -4h2m-9 16h2m36 -18h2m-37 3h2m51 22h2m0 -15h2m-2 10h2m-1 -6h2m-42 11h2m37 -13h2m-36 -6h2m-2 23h2m25 -27h2m-41 26h2m-7 -26h2m13 5h2m32 17h2m-1 -2h2m-30 -19h2m8 29h2m12 -29h2m-37 7h2m2 17h2m-8 -3h2m-15 4h2m6 0h2m-12 -3h2m44 -24h2m-17 1h2m-22 26h2m-1 -21h2m-15 11h2m14 6h2m35 -20h2m-46 -1h2m46 19h2m-11 -21h2m5 5h2m-49 -4h2m26 -1h2m20 12h2m-42 11h2m-5 -14h2m-2 -1h2m11 21h2m-29 -21h2m0 -4h2m54 10h2m-46 9h2m1 -13h2m5 -6h2m-3 23h2m9 4h2m-10 -2h2m9 -30h2m17 9h2m-50 21h2m-7 -27h2m19 25h2m-16 0h2m-9 -25h2m8 6h2m15 22h2m25 -20h2m-23 -10h2m0 -1h2m10 29h2m-53 -13h2m37 16h2m-24 -21h2m23 21h2m3 -1h2m-13 -30h2m1 -1h2" stroke="#0b0319" stroke-width="2" fill="none"/>
<path transform="scale(0.5)" d="M0 0m892 238h2m15 -1h2m-15 7h2m33 -30h2m-42 10h2m27 20h2m27 -11h2m-37 -12h2m-8 16h2m-1 0h2m27 8h2m-18 0h2m1 -30h2m9 0h2m-19 29h2m10 -30h2m16 14h2m-36 -8h2m-26 9h2m4 -13h2m39 29h2m-49 -14h2m52 10h2m-4 -24h2m-45 26h2m31 -29h2m6 29h2m-14 3h2m-32 -2h2m-5 -1h2m50 -18h2m-8 18h2m-31 -3h2m0 2h2m-7 -4h2m-1 -15h2m-2 1h2m-3 1h2m37 2h2m-43 -1h2m-5 13h2m-16 -7h2m-1 -10h2m-1 -2h2m34 -5h2m-15 27h2m-25 -2h2m-1 -21h2m48 -1h2m-36 7h2m-21 6h2m16 -5h2m-8 15h2m5 -16h2m18 -10h2m-14 28h2m26 -22h2m-49 23h2m8 -18h2m-20 0h2m6 18h2m-8 -24h2m52 18h2m-55 -19h2m13 7h2m-5 11h2m36 5h2m-35 -18h2m35 13h2m-23 8h2m-18 -6h2m30 -21h2m-43 1h2m-11 21h2m47 -23h2m-4 27h2m-22 -26h2m19 25h2m-36 -7h2m15 -20h2m-13 7h2m-14 19h2m-11 -20h2m52 17h2m-52 4h2m-7 -12h2m-2 0h2m25 -12h2m-25 -1h2m17 4h2m-25 11h2m4 -16h2m44 25h2m-33 -3h2m29 3h2m-1 -1h2m-1 -21h2m-55 17h2m40 8h2m-10 0h2m-5 -1h2m21 -23h2m-33 0h2m-2 20h2m-11 -16h2m34 -7h2m-31 21h2m-8 -4h2m9 -16h2m-4 23h2m30 -18h2m-8 -6h2m-53 12h2m23 -10h2m-27 8h2m28 16h2m-8 -23h2m17 -6h2m-40 28h2m-7 -10h2m52 -13h2m-29 22h2m7 -26h2m-19 10h2m37 3h2m-4 -6h2m-53 -6h2m-7 10h2m9 -7h2m4 7h2m12 17h2m9 1h2m-15 -27h2m4 27h2m-36 -20h2m46 18h2m-17 -27h2m21 11h2m-53 16h2m10 -8h2m35 -13h2m-57 12h2m47 9h2m-41 -25h2m26 -3h2m-17 25h2m-5 -3h2m-3 -11h2m26 18h2m-37 -4h2m-13 -15h2m2 18h2m-5 -3h2m-3 -16h2m26 -6h2m26 17h2m-3 -11h2m0 6h2m-32 -11h2m15 26h2m-38 -27h2m4 18h2m19 9h2m-36 -25h2m-4 11h2m32 13h2m-18 -16h2m25 17h2m-29 -10h2m0 -9h2m-6 9h2m9 -16h2m28 5h2m-22 21h2m7 -1h2m-11 1h2m-28 -26h2m-8 23h2m11 -14h2m12 -11h2m-15 19h2m-5 -9h2m1 0h2m-9 13h2m-13 -4h2m6 7h2m5 -15h2m29 16h2m7 -20h2m-51 -7h2m16 4h2m29 3h2m-26 -7h2m22 7h2m-40 11h2m0 1h2m1 -14h2m6 22h2m-31 -24h2m4 23h2m6 -15h2m2 8h2m-6 -1h2m24 -20h2m-19 6h2m27 0h2m-36 15h2m-21 -2h2m16 -7h2m25 17h2m-15 0h2m16 -2h2m-36 -13h2m-2 0h2m38 3h2m-38 5h2m-7 -10h2m-16 -6h2m14 8h2m-4 5h2m-4 -9h2m-1 1h2m38 -4h2m0 8h2m-54 -12h2m18 3h2m-6 16h2m-5 -3h2m5 7h2m-7 -15h2m-19 -6h2m19 21h2m-11 -5h2m1 -8h2m-4 6h2m-10 9h2m27 -27h2m-22 17h2m-6 5h2m3 -5h2m-8 7h2m-14 -10h2m16 4h2m9 -16h2m25 18h2m-9 7h2m-18 1h2m22 -11h2m-44 -6h2m0 3h2m-1 -1h2m-2 3h2m24 13h2m-2 0h2m-12 -1h2m-32 -2h2m-2 -1h2m11 -10h2m6 -10h2m-15 19h2m8 -2h2m-7 -7h2m3 7h2m14 7h2m-39 -18h2m36 18h2m-24 -14h2m-3 -3h2m9 -8h2m-8 17h2m-1 -13h2m-9 10h2m29 10h2m-23 -23h2m11 -5h2m-18 23h2m19 6h2m9 -24h2m-41 5h2m6 13h2m8 -22h2m-8 25h2m20 1h2m-35 -12h2m1 2h2m-5 -2h2m1 2h2m8 9h2m-23 -24h2m8 12h2m31 12h2m-3 -24h2m5 14h2m-17 13h2m-4 0h2m-21 -20h2m-13 -6h2m23 25h2m-33 -2h2m14 -14h2m-22 0h2m16 3h2m7 -11h2m-6 3h2m-23 0h2m12 8h2m2 4h2m-16 -17h2m46 21h2m-17 -23h2m-40 17h2m-2 -6h2m15 4h2m-11 11h2m-2 -23h2m25 25h2m-22 -15h2m39 4h2m-58 4h2m3 6h2m49 -13h2m-13 -14h2m3 2h2m-34 11h2m-20 3h2" stroke="#0f0520" stroke-width="2" fill="none"/>
<path transform="scale(0.5)" d="M0 0m945 239h2m-51 -21h2m36 27h2m-6 -29h2m8 27h2m-36 -8h2m26 9h2m-25 -8h2m20 -20h2m-22 9h2m32 0h2m-57 6h2m17 4h2m-14 -17h2m15 23h2m-14 -17h2m-1 12h2m34 6h2m-42 -23h2m34 25h2m0 -27h2m-26 23h2m-23 0h2m15 -13h2m-21 -1h2m44 -9h2m-11 27h2m12 -4h2m3 -10h2m-58 -2h2m45 15h2m-31 -12h2m36 1h2m-51 10h2m12 -5h2m-5 -8h2m-20 -4h2m16 7h2m-13 10h2m5 -12h2m-2 -2h2m22 16h2m-40 -12h2m54 -4h2m-38 8h2m-3 -3h2m-7 -2h2m-14 10h2m26 -23h2m22 5h2m-19 21h2m17 -17h2m-51 15h2m-8 -3h2m15 -8h2m3 -8h2m6 -5h2m-25 1h2m-10 16h2m4 -17h2m-8 11h2m0 -9h2m9 15h2m37 -14h2m-19 -4h2m-26 22h2m43 -10h2m-13 -13h2m-42 2h2m13 8h2m-22 10h2m46 -19h2m-47 2h2m16 18h2m-4 -8h2m31 11h2m-12 -24h2m-6 0h2m-38 5h2m15 10h2m-8 4h2m-11 7h2m13 -10h2m12 -15h2m-21 13h2m7 9h2m-1 1h2m29 -6h2m-4 5h2m-2 -17h2m-47 20h2m26 -26h2m-18 19h2m2 5h2m17 4h2m-32 -9h2m-14 -13h2m17 6h2m-22 0h2m21 -4h2m6 19h2m-6 -23h2m-17 17h2m8 -12h2m-19 17h2m-6 -5h2m4 5h2m36 2h2m-10 -28h2m-3 1h2m-4 26h2m-23 -14h2m-5 11h2m-8 2h2m28 -25h2m-16 12h2m32 7h2m-29 5h2m-17 -17h2m0 7h2m-10 11h2m25 -24h2m19 6h2m-5 -4h2m-40 12h2m8 -9h2m1 18h2m-26 -1h2m6 -18h2m9 4h2m19 18h2m-33 -21h2m42 10h2m-36 -8h2m-4 7h2m34 3h2m-36 -9h2m25 16h2m-25 -2h2m4 -22h2m20 20h2m-28 3h2m9 3h2m-18 -20h2m-17 18h2m0 -22h2m41 1h2m-46 20h2m10 -6h2m-10 -11h2m5 7h2m33 6h2m-43 -10h2m-6 -7h2m26 -3h2m-39 11h2m9 -5h2m23 -6h2m11 1h2m-43 1h2m32 25h2m-1 -28h2m-25 13h2m-13 11h2m34 -23h2m-24 7h2m-2 -1h2m-14 0h2m9 15h2m-24 -4h2m24 -13h2m-16 4h2m41 5h2m-29 12h2m-18 -6h2m23 -19h2m16 11h2m-56 -5h2m0 -3h2m15 9h2m-2 3h2m31 -10h2m-53 -2h2m51 14h2m-29 7h2m6 2h2m-17 -7h2m20 -19h2m-36 4h2m43 14h2m-2 -11h2m-11 19h2m4 -22h2m-1 18h2m-2 -18h2m-54 13h2m32 9h2m-16 -9h2m8 -15h2m-19 11h2m-12 10h2m-2 1h2m50 -15h2m-49 -6h2m-1 1h2m11 5h2m-23 -2h2m29 18h2m-12 -6h2m15 -19h2m-38 3h2m7 6h2m35 -7h2m-50 3h2m46 19h2m-43 -21h2m10 13h2m33 0h2m-7 7h2m-28 -17h2m-24 15h2m44 4h2m-23 -21h2m-29 8h2m18 0h2m-22 1h2m49 9h2m-31 -14h2m-17 16h2m31 -24h2m-14 24h2m-1 1h2m-2 -22h2m18 21h2m-39 -16h2m6 7h2m-16 -13h2m24 -1h2m-32 3h2m28 21h2m-5 -22h2m24 8h2m-10 -10h2m-24 4h2m4 -3h2m20 17h2m-45 2h2m41 -16h2m-49 19h2m39 -23h2m-37 9h2m10 11h2m0 -16h2m-22 -3h2m-8 13h2m10 2h2m-7 -15h2m12 16h2m-20 5h2m-4 -5h2m1 6h2m16 -5h2m-12 -2h2m6 -4h2m21 -13h2m-23 9h2m17 17h2m3 -1h2m-13 -25h2m-14 8h2m-25 8h2m21 4h2m25 -17h2m-42 3h2m9 4h2m23 16h2m0 -25h2m-47 22h2m18 -2h2m-5 -8h2m30 8h2" stroke="#16072c" stroke-width="2" fill="none"/>
<path transform="scale(0.5)" d="M0 0m944 238h2m-23 4h2m21 -6h2m-32 -12h2m-18 -4h2m43 3h2m-55 6h2m5 -10h2m13 7h2m22 -8h2m-36 16h2m8 -7h2m13 16h2m-9 -1h2m-10 -16h2m0 12h2m2 3h2m21 -20h2m-1 17h2m0 -11h2m-8 14h2m-16 2h2m-13 -6h2m1 2h2m4 3h2m-3 -23h2m-25 1h2m33 23h2m-33 -15h2m35 12h2m-39 -13h2m-8 14h2m36 2h2m-34 -11h2m7 -4h2m28 -7h2m-42 15h2m34 6h2m-11 -25h2m-36 3h2m40 -2h2m-14 0h2m-15 10h2m-11 6h2m16 7h2m-11 -12h2m27 11h2m-29 -3h2m-13 -9h2m14 -7h2m11 -4h2m-22 14h2m8 -12h2m22 11h2m-30 -8h2m-4 17h2m-3 -1h2m-3 -2h2m4 5h2m-5 -1h2m-6 -12h2m-12 6h2m9 -8h2m-4 5h2m0 -6h2m8 -6h2m-24 5h2m15 16h2m-1 -20h2m-1 0h2m-21 16h2m42 -6h2m-46 -5h2m19 -6h2m-6 21h2m-26 -20h2m48 12h2m-48 8h2m43 -5h2m-26 6h2m18 -21h2m-40 6h2m9 1h2m0 11h2m-2 -13h2m13 -8h2m-34 23h2m-6 -1h2m38 -22h2m-9 26h2m14 -20h2m-1 1h2m-34 6h2m0 6h2m-22 3h2m39 3h2m-14 0h2m18 -4h2m-8 4h2m4 -5h2m-50 -17h2m6 10h2m33 -11h2m0 1h2m3 13h2m-27 8h2m-21 -18h2m36 18h2m0 -2h2m2 -13h2m-21 -8h2m-32 22h2m37 2h2m-20 -3h2m-2 0h2m-17 -3h2m-7 -16h2m20 1h2m-1 0h2m-6 2h2m17 19h2m-23 -15h2m29 0h2m-44 2h2m-4 9h2m24 -20h2m-15 18h2m13 -18h2m-9 2h2m-31 17h2m-3 -9h2m5 12h2m-3 -20h2m43 17h2m-1 -3h2m-1 -6h2m-21 -10h2m-15 16h2m-23 -5h2m29 -9h2m-27 0h2m38 21h2m-46 -2h2m-3 -16h2m7 12h2m34 -16h2m-27 13h2m12 -14h2m13 4h2m-5 19h2m-48 -18h2m-3 6h2m20 -3h2m5 -6h2m-10 13h2m-17 -13h2m-7 17h2m-3 -3h2m20 1h2m25 4h2m-19 -20h2m12 0h2m-26 8h2m-24 4h2m3 -11h2m-6 18h2m45 2h2m-15 2h2m-27 -16h2m39 -3h2m-9 -5h2m-16 2h2m-7 4h2m-6 7h2m-1 5h2m-3 -7h2m-20 11h2m26 1h2m-22 -9h2m34 -13h2m-38 11h2m-5 8h2m41 -14h2m-29 0h2m-22 16h2m46 -15h2m-4 13h2m-52 -11h2m25 12h2m3 2h2m-34 -14h2m9 4h2m17 -11h2m21 7h2m-30 -4h2m25 12h2m-54 0h2m19 -2h2m-14 3h2m41 -11h2m-44 7h2m-3 -8h2m-1 2h2m11 9h2m14 -17h2m-32 6h2m23 -5h2m-28 3h2m-2 1h2m-9 14h2m23 2h2m-3 -15h2m20 17h2" stroke="#280d48" stroke-width="2" fill="none"/>
<path transform="scale(0.5)" d="M0 0m928 242h2m-35 -4h2m23 -16h2m-23 -1h2m15 6h2m17 15h2m5 -21h2m-44 0h2m17 2h2m24 12h2m-29 -12h2m10 -5h2m-9 23h2m-11 -10h2m-13 1h2m19 -12h2m-27 19h2m29 3h2m14 -12h2m-47 -8h2m14 15h2m19 -18h2m-25 14h2m4 6h2m-8 -11h2m-20 11h2m17 -4h2m2 4h2m-20 -3h2m-1 -9h2m39 -3h2m-31 4h2m20 13h2m-37 -4h2m39 1h2m-22 -17h2m-10 11h2m24 -12h2m-25 17h2m-26 -12h2m19 6h2m-14 -1h2m15 9h2m-2 -17h2m-1 0h2m-2 17h2m-27 0h2m-1 -18h2m32 21h2m8 -21h2m-20 0h2m-9 15h2m-3 -2h2m25 -12h2m-45 17h2m15 -11h2m14 -10h2m-14 21h2m-1 0h2m-27 -17h2m28 19h2m-26 -5h2m34 5h2m-1 -1h2m-23 -3h2m-4 -2h2m-18 -13h2m-3 -1h2m43 4h2m-51 -3h2m22 2h2m22 -1h2m-12 -5h2m-14 21h2m21 -14h2m-31 6h2m1 -7h2m23 -1h2m-3 15h2m-20 -18h2m-32 4h2m-3 9h2m24 5h2m4 -18h2m17 5h2m-27 -1h2m-18 7h2m39 4h2m-14 7h2m-37 -3h2m30 3h2m-5 -1h2m-11 -16h2m26 2h2m-51 -5h2m23 17h2m-20 -7h2m-6 -11h2m15 6h2m3 12h2m-21 -14h2m21 16h2m-29 -2h2m43 -2h2m-22 3h2m15 0h2m-23 -2h2m8 -19h2m-11 4h2m-21 1h2m33 -5h2m-3 23h2m-36 -19h2m-9 13h2m20 -1h2m0 -11h2m18 16h2m-46 -16h2m24 14h2m-20 -13h2m26 -6h2m-39 10h2m23 -5h2m23 12h2m-51 -1h2m34 7h2m1 -24h2m-8 1h2m-13 9h2m16 -10h2m5 3h2m0 2h2m-28 13h2m-23 3h2m-5 -9h2m20 0h2m19 11h2m1 -21h2m4 11h2m-16 -12h2m-38 19h2m3 -16h2m-7 15h2m42 3h2m-26 -9h2m-1 -3h2m9 13h2m-29 -19h2m20 17h2m-4 -16h2m6 -4h2m-15 13h2m3 -9h2m2 -2h2m-25 16h2m-8 0h2m2 -16h2m-4 0h2m19 15h2m-25 0h2m24 3h2m21 -14h2m-1 8h2m-2 -4h2m-45 -3h2m-1 5h2m12 -5h2m-17 1h2m18 12h2m-30 -6h2m20 1h2m-17 -10h2m19 -2h2m21 10h2m-51 -10h2m42 -1h2m-23 17h2m23 -13h2m-12 16h2m-20 -9h2m-1 3h2m9 -16h2m-11 18h2m-23 2h2m-5 -15h2m36 -5h2m-11 2h2m18 14h2m-9 6h2m-23 -13h2m-18 -6h2m14 9h2m27 -2h2m-11 12h2m-38 -18h2m-4 -2h2m16 7h2m6 -7h2m-32 4h2m23 -1h2m12 -5h2m-35 4h2m-8 1h2m33 17h2m-14 -14h2m-3 4h2m-19 7h2m44 -9h2m-31 1h2m-16 -5h2m-9 12h2m23 1h2m16 2h2m-37 -10h2m-10 6h2m24 2h2m-2 -16h2m-24 16h2m41 -16h2m-24 16h2m-21 -2h2m41 -1h2m-50 3h2m41 2h2m3 -6h2m-2 -7h2m-49 11h2m34 -19h2m-33 12h2m16 -7h2m1 -2h2m7 19h2m-40 -16h2m28 15h2m-29 -2h2m46 -7h2m-9 -11h2m-24 12h2m-17 -7h2" stroke="#3a1263" stroke-width="2" fill="none"/>
<path transform="scale(0.5)" d="M0 0m945 229h2m-28 -4h2m22 -1h2m-20 -3h2m4 20h2m-17 -11h2m3 -7h2m-28 2h2m4 -1h2m34 -4h2m-40 2h2m1 9h2m41 -1h2m-46 -5h2m40 11h2m-20 -15h2m-27 16h2m15 -2h2m20 -14h2m-6 20h2m-21 -11h2m6 10h2m-26 -17h2m17 2h2m16 15h2m-22 -12h2m-17 -1h2m38 -4h2m-5 17h2m-12 1h2m-36 -4h2m27 -16h2m-32 6h2m3 11h2m15 -7h2m25 -7h2m-27 2h2m12 -7h2m9 6h2m-51 1h2m43 -5h2m-41 2h2m-3 15h2m16 -4h2m0 3h2m-3 -1h2m24 -4h2m-12 -13h2m-9 1h2m-1 0h2m-13 7h2m2 -4h2m20 12h2m-49 2h2m22 0h2m20 -14h2m-43 1h2m13 8h2m0 3h2m-24 -12h2m4 10h2m41 -4h2m-52 6h2m24 3h2m-27 0h2m20 -3h2m0 2h2m11 -18h2m-8 1h2m-3 20h2m-10 -5h2m24 -1h2m-52 1h2m48 -7h2m-29 0h2m12 13h2m-36 -19h2m19 13h2m13 6h2m-41 -8h2m32 7h2m7 0h2m-2 -20h2m-22 12h2m-25 -6h2m47 10h2m-12 -17h2m9 11h2m-52 3h2m3 -10h2m34 18h2m-35 -14h2m33 13h2m-1 0h2m-2 0h2m-42 -2h2m32 3h2m-8 -1h2m-28 -3h2m23 2h2m4 -20h2m-31 15h2m13 -1h2m23 -10h2m-24 14h2m14 -17h2m-44 9h2m43 10h2m-47 -8h2m27 8h2m13 -19h2m-22 7h2m4 12h2m-31 -4h2m-3 -3h2m5 -7h2m15 2h2m-3 3h2m1 7h2m-28 -5h2m47 3h2m-26 0h2m-1 -11h2m-2 0h2m21 11h2m-43 -7h2m13 5h2m-18 1h2m-7 3h2m36 -18h2m-5 22h2m-34 -18h2m-1 1h2m42 7h2m-44 1h2m-2 -2h2m15 5h2m0 2h2m20 -13h2m-1 9h2m-52 -7h2m-1 -1h2m44 -2h2m-4 -2h2m-19 2h2m18 13h2m-6 3h2m-19 -15h2m-24 13h2m17 -3h2m6 6h2m-31 -17h2m27 -2h2m-26 12h2m17 4h2m18 0h2m-43 -1h2m17 0h2m3 3h2m15 -2h2m-21 -14h2m-24 2h2m34 -5h2m-42 17h2m40 2h2m-22 -12h2m-3 3h2m2 -6h2m-6 8h2m22 -9h2m-26 7h2m8 -9h2m1 19h2m-4 0h2m7 -20h2m5 12h2m-44 -2h2m32 -10h2m-7 20h2m10 -13h2m-26 0h2m1 -3h2m-27 13h2m28 3h2m13 -5h2m-16 -15h2m-13 11h2m22 -8h2m-22 1h2m-29 9h2m23 -7h2m0 -1h2m-29 3h2m35 12h2m10 -15h2m-20 14h2m12 -1h2m-47 -10h2m36 -8h2m5 1h2m-23 7h2m10 12h2m-7 -1h2m-7 -3h2m-2 0h2m-24 -13h2m43 12h2m-1 -4h2m-45 -5h2m30 -6h2m-16 7h2m18 -6h2m-22 6h2m6 13h2m-2 -19h2m-11 10h2m-21 -8h2m22 15h2m18 -11h2m-23 -3h2m4 16h2m10 -2h2m-2 0h2" stroke="#60175b" stroke-width="2" fill="none"/>
<path transform="scale(0.5)" d="M0 0m935 240h2m-37 -16h2m-7 2h2m22 9h2m-27 -6h2m22 0h2m23 -1h2m-23 -4h2m-29 11h2m38 5h2m-40 -17h2m-4 3h2m4 1h2m41 5h2m-26 -6h2m-4 7h2m22 -8h2m-44 10h2m-2 1h2m17 -3h2m-3 -4h2m6 10h2m-5 -1h2m17 -13h2m-2 0h2m-2 0h2m-49 8h2m-3 -4h2m32 -8h2m-11 6h2m-2 7h2m-2 -6h2m-2 -1h2m12 -7h2m9 9h2m-19 10h2m0 1h2m-37 -12h2m4 7h2m33 5h2m5 -5h2m-22 -11h2m16 14h2m-22 -12h2m-27 0h2m45 -2h2m-47 0h2m31 16h2m-10 -16h2m-5 10h2m2 -11h2m18 8h2m-12 9h2m2 -19h2m-5 -1h2m-41 8h2m44 -5h2m-46 1h2m42 0h2m-5 15h2m-5 -19h2m-17 6h2m15 13h2m-40 -3h2m29 -16h2m7 18h2m-45 -2h2m3 -6h2m15 1h2m6 8h2m-4 -16h2m-26 13h2m18 -1h2m-27 -9h2m23 0h2m-21 1h2m16 6h2m22 -1h2m-44 -3h2m-2 -1h2m34 11h2m-3 0h2m-19 -7h2m9 -11h2m1 -1h2m-13 5h2m18 1h2m-25 6h2m18 -10h2m-16 16h2m16 -10h2m-26 0h2m-20 -1h2m37 10h2m-14 2h2m-29 -7h2m40 0h2m-5 5h2m-46 -12h2m-2 -1h2m1 0h2m30 16h2m-32 -9h2m-3 -4h2m-2 7h2m-5 2h2m41 -13h2m-45 1h2m25 -1h2m-6 4h2m-1 9h2m-3 -2h2m-2 -6h2m2 -5h2m15 1h2m-19 -1h2m6 -2h2m-39 6h2m35 -6h2m-6 18h2m-3 -17h2m-6 15h2m-3 -1h2m-28 -1h2m-2 0h2m27 3h2m5 -17h2m-15 11h2m1 4h2m-25 -1h2m24 3h2m-3 -1h2m-6 -4h2m-22 -8h2m-1 5h2m38 6h2m-42 -5h2m26 -10h2m7 17h2m-17 -1h2m0 -14h2m-7 11h2m9 5h2m-10 -2h2m-5 -3h2m7 -13h2m-12 12h2m9 6h2m2 -18h2m6 4h2m-23 1h2m20 6h2m-2 -2h2m-50 2h2m34 -11h2m-8 2h2m8 16h2m-2 0h2m3 -15h2m-5 14h2m0 -1h2m-42 -11h2m-3 10h2m-4 -11h2m29 13h2m-2 1h2m-8 -5h2m-25 -9h2m0 1h2m-6 -1h2m29 -3h2m-30 13h2m20 -9h2m-2 9h2m-23 -6h2m32 -8h2m-37 14h2m-6 -7h2m-2 0h2" stroke="#8b1b4a" stroke-width="2" fill="none"/>
<path transform="scale(0.5)" d="M0 0m922 225h2m-29 4h2m40 -7h2m-38 7h2m22 8h2m1 -15h2m-35 6h2m31 11h2m8 -1h2m-2 -16h2m-4 17h2m5 -8h2m-47 4h2m-2 0h2m20 -2h2m20 -1h2m-8 -11h2m-4 0h2m-37 14h2m38 -12h2m1 4h2m-17 -5h2m0 -1h2m-1 18h2m11 -9h2m-47 5h2m-3 -10h2m27 -2h2m11 14h2m-45 -2h2m34 -14h2m7 4h2m-1 8h2m-48 -6h2m44 2h2m-48 5h2m1 -9h2m40 1h2m-19 -2h2m-28 1h2m32 -4h2m-39 7h2m3 3h2m27 8h2m-35 -13h2m2 2h2m-6 6h2m26 -10h2m10 -2h2m-41 13h2m25 -11h2m16 5h2m-45 -3h2m41 1h2m-4 -3h2m-15 -2h2m0 0h2m-11 8h2m3 -7h2m7 16h2m-37 -13h2m19 5h2m8 8h2m8 -3h2m-44 -1h2m-3 -1h2m32 5h2m-12 -12h2m-2 1h2m-2 6h2m-24 0h2m23 -9h2m-2 0h2m-5 3h2m4 -5h2m-8 10h2m1 -9h2m11 -2h2m-12 16h2m-34 -10h2m41 9h2m-18 -3h2m-24 -7h2m-2 2h2m27 -7h2m-31 8h2m20 4h2m1 -10h2m-2 13h2m4 -16h2m-10 15h2m-2 -11h2m-2 10h2m17 -3h2m-3 2h2m-16 4h2m-31 -12h2m35 -4h2m-11 15h2m-28 -8h2m20 -2h2m6 -5h2m8 13h2m-10 4h2m-13 -7h2m-28 -1h2m31 -9h2m7 0h2m3 11h2m-14 6h2m10 -7h2m-47 2h2m23 0h2m-2 0h2m-28 -6h2m1 6h2m32 -13h2m-39 6h2m26 9h2m16 -7h2m-48 -2h2m1 6h2m22 -8h2m-3 1h2m11 12h2m-39 -12h2m41 7h2m-44 0h2m24 -9h2m2 -2h2m-34 12h2m-3 -6h2m25 7h2m9 3h2m-14 -4h2m-28 -1h2m1 0h2m40 -6h2m-22 5h2m-23 0h2m-5 2h2m37 -12h2m-15 4h2m-25 2h2m39 -2h2m-3 -1h2m-11 -3h2m8 12h2m-19 2h2m5 2h2m-11 -4h2m-1 1h2m4 3h2m7 -15h2m-44 7h2m35 -8h2m-12 4h2m11 12h2m0 -1h2m1 -3h2m-17 -10h2m7 -2h2m5 7h2m-4 -3h2m-18 -1h2m-27 2h2m40 6h2m-15 -10h2m-7 12h2m-29 -4h2m28 -7h2m11 12h2m1 -6h2m-45 3h2m20 -2h2m7 -9h2m-10 11h2m18 -4h2m-7 -6h2m-17 4h2m10 11h2m-9 -1h2m-30 -8h2m39 -4h2m-44 8h2m-3 0h2m27 4h2m-29 -10h2" stroke="#ad2638" stroke-width="2" fill="none"/>
<path transform="scale(0.5)" d="M0 0m941 226h2m-2 6h2m-14 -9h2m-32 5h2m40 6h2m-14 -12h2m-9 6h2m14 -5h2m-43 10h2m-3 -4h2m35 9h2m-4 -16h2m6 13h2m-3 -12h2m1 3h2m-45 7h2m-3 -6h2m35 -5h2m-37 10h2m-3 -5h2m41 -1h2m-17 11h2m-31 -4h2m39 -10h2m-16 13h2m15 -3h2m-22 -2h2m16 -6h2m-17 1h2m-30 5h2m40 -7h2m-42 9h2m23 -7h2m-3 7h2m13 -10h2m-10 15h2m-4 -1h2m-30 -5h2m39 -6h2m-10 12h2m-35 -10h2m39 6h2m-3 -9h2m-43 2h2m22 1h2m15 -3h2m-19 4h2m-27 4h2m-3 -2h2m-1 2h2m32 5h2m8 -8h2m-20 -3h2m6 11h2m-35 -10h2m-4 1h2m43 3h2m-17 -8h2m6 -2h2m1 1h2m-6 15h2m-2 0h2m-5 0h2m-35 -10h2m-1 5h2m22 -3h2m-25 -2h2m22 -2h2m-28 3h2m36 -6h2m-12 2h2m-30 4h2m31 -6h2m-8 12h2m3 -12h2m3 15h2m-37 -10h2m23 7h2m1 -11h2m6 13h2m1 -13h2m-43 5h2m-1 3h2m23 1h2m16 -2h2m-7 6h2m-8 -14h2m-33 8h2m-4 -2h2m-2 3h2m32 6h2m-35 -10h2m-1 3h2m-4 -3h2m35 10h2m-38 -6h2m-2 0h2m37 5h2m2 -5h2m-7 -9h2m-15 4h2m-28 5h2m34 6h2m2 -1h2m-42 -6h2m25 3h2m-29 -3h2m23 1h2m6 -9h2m1 -1h2m-37 9h2m-2 -2h2m30 -6h2m8 11h2m-3 -9h2m0 4h2m-10 9h2m-13 -9h2m15 -4h2m-43 6h2m27 -7h2m9 12h2m-10 1h2m9 -7h2m-20 -3h2m-28 4h2m23 0h2m5 -8h2m-33 6h2m23 -1h2m-3 2h2m-27 0h2m38 -7h2m-12 1h2m-5 10h2m2 -11h2m-32 7h2m-2 1h2m22 0h2m-1 2h2m1 3h2m-30 -6h2m23 -1h2m15 3h2m-3 -6h2m-6 11h2m-8 0h2m-8 -9h2m-2 2h2m-1 4h2m2 2h2m-7 -6h2m4 -6h2m9 2h2m-16 -1h2m-5 6h2m15 -4h2m-9 -4h2m1 0h2m-7 14h2m-7 -12h2m-2 11h2m11 -1h2m-18 -4h2m16 0h2m-18 -5h2m10 10h2m-12 -12h2" stroke="#ce3426" stroke-width="2" fill="none"/>
<path transform="scale(0.5)" d="M0 0m940 234h2m-14 3h2m9 -12h2m-16 10h2m0 1h2m11 -5h2m-19 1h2m9 -9h2m-4 0h2m-11 9h2m1 -6h2m2 11h2m-5 -12h2m-6 5h2m6 -7h2m7 8h2m-2 -3h2m-19 1h2m8 -6h2m-4 14h2m-6 -12h2m10 1h2m-15 9h2m6 2h2m0 -13h2m-8 -1h2m-9 6h2m9 8h2m1 -1h2m-15 -8h2m13 -2h2m-15 9h2m9 -10h2m-11 11h2m-6 -8h2m1 7h2m-3 -9h2m3 -3h2m1 14h2m2 -12h2m-13 11h2m4 1h2m-1 0h2m-4 -14h2m5 3h2m-13 -2h2m-1 12h2m-6 -9h2m10 -3h2m-15 6h2m-2 -1h2m-2 0h2m2 7h2m-2 -11h2m10 5h2m-18 3h2m7 4h2m-11 -5h2m1 -6h2m-4 7h2m3 -9h2m-8 4h2m13 -2h2m-12 10h2m1 1h2m-10 -6h2m9 -7h2m0 1h2m1 6h2m-3 -4h2m-8 10h2m-10 -4h2m13 -3h2m-17 -2h2m10 -3h2m1 6h2m-5 -6h2m-13 9h2m12 -3h2m-17 1h2m8 -8h2m2 3h2m-11 -3h2m5 1h2m1 5h2m-15 5h2m-3 -1h2m4 2h2m-9 -3h2m-1 -6h2m0 -2h2m2 -1h2m-2 12h2m5 -3h2m-1 -3h2m-15 5h2m5 1h2m-11 -3h2m1 2h2m1 -11h2m-8 8h2m9 4h2m0 -3h2m-12 2h2m-5 -6h2m6 7h2m3 -10h2m-5 -2h2" stroke="#e05720" stroke-width="2" fill="none"/>
<path transform="scale(0.5)" d="M0 0m939 230h2m-2 0h2m-9 -6h2m2 1h2m0 8h2m-1 -2h2m-9 -7h2m-8 9h2m10 -6h2m-14 7h2m-3 -5h2m-1 4h2m10 -7h2m-7 -2h2m-4 0h2m-1 12h2m1 0h2m-7 0h2m-7 -3h2m-2 -3h2m9 5h2m-2 -10h2m1 7h2m-15 1h2m-1 1h2m8 1h2m0 -3h2m-3 -5h2m-9 9h2m-5 -10h2m1 10h2m-8 -4h2m12 -3h2m-7 -5h2m0 11h2m-10 -10h2m1 -1h2m4 10h2m-14 -3h2m-2 -2h2m5 7h2m-4 -1h2m4 0h2m-4 -11h2m2 3h2m-4 8h2m-8 0h2m-1 1h2m3 -1h2m-9 -10h2m-5 3h2m10 5h2m-14 -2h2m1 -6h2m5 0h2m-12 8h2m11 -4h2m-12 -4h2m-5 7h2m4 4h2m-8 -3h2m7 2h2m-11 -4h2m4 4h2m-6 -1h2m3 -9h2m-9 4h2m8 -3h2m0 7h2m-8 -8h2m3 1h2m-3 0h2m-6 -1h2m-8 6h2m-1 2h2m-2 0h2m7 -8h2m-2 1h2m-12 3h2m-2 3h2m4 -7h2m-8 4h2m10 1h2m-10 -5h2m3 1h2m1 6h2m-3 2h2m-11 -7h2m8 2h2m-13 3h2m2 -7h2m-7 6h2m4 -6h2m-4 1h2m2 9h2m2 -3h2m-12 1h2m4 -8h2m-10 6h2m0 2h2m-3 0h2m-2 -5h2m-2 -1h2m-3 2h2m-1 -2h2m5 8h2m-7 -9h2m-5 4h2m9 3h2m-4 -7h2m-11 5h2" stroke="#f07e1e" stroke-width="2" fill="none"/>
<path transform="scale(0.5)" d="M0 0m926 230h2m-1 2h2m9 -3h2m-3 4h2m-1 -5h2m-12 5h2m6 0h2m-3 -7h2m-9 2h2m4 7h2m0 -1h2m-5 -9h2m1 8h2m-11 -5h2m-2 0h2m-1 0h2m7 5h2m-3 -7h2m0 3h2m-11 -3h2m6 2h2m-2 5h2m-9 1h2m-4 -7h2m4 8h2m2 -4h2m-11 -5h2m0 0h2m0 9h2m2 -3h2m-2 -5h2m-1 2h2m-13 0h2m5 -3h2m-1 0h2m-1 8h2m-11 -4h2m0 4h2m-2 -1h2m-3 -5h2m-3 4h2m9 -1h2m-9 3h2m-3 -8h2m-5 4h2m5 4h2m-8 -6h2m-2 -1h2m2 7h2m-1 0h2m-7 -7h2m0 0h2m3 -1h2m-7 0h2m-5 5h2m-1 -3h2m3 6h2m-6 -7h2m2 -1h2m2 5h2m-12 0h2m-1 1h2m-1 -4h2m-2 5h2m-1 1h2m-4 -2h2m3 2h2m-5 0h2m4 -1h2m-8 -6h2m-4 5h2m1 2h2m0 -8h2m-5 1h2m-3 1h2m3 -2h2m0 7h2m-8 -6h2m-2 6h2m-3 -5h2m-3 3h2m6 -4h2m-4 7h2m-1 -1h2m-9 -3h2m-2 2h2m7 -2h2m-11 -1h2m7 3h2m-8 -5h2m2 6h2m-9 -3h2m6 -2h2m-2 0h2m-2 4h2m-6 2h2m0 -1h2m0 -1h2m-6 2h2m-3 -7h2m-4 4h2m-3 0h2m6 -3h2m-10 2h2m-1 2h2" stroke="#f7ad2f" stroke-width="2" fill="none"/>
<path transform="scale(0.5)" d="M0 0m933 227h2m1 3h2m-9 2h2m-2 -3h2m-1 4h2m4 -5h2m-3 0h2m-3 5h2m-5 0h2m-3 -5h2m-2 0h2m-3 4h2m5 -4h2m-6 -1h2m0 0h2m-7 4h2m1 2h2m-5 -4h2m3 4h2m-1 -5h2m-6 5h2m2 -5h2m-8 1h2m-2 1h2m4 2h2m-8 -3h2m-2 0h2m-2 1h2m5 -1h2m-3 3h2m-7 -4h2m3 0h2m-4 -1h2m-1 5h2m0 -2h2m-4 2h2m-1 -2h2m-5 3h2m1 -2h2m-7 -1h2m-1 -2h2m2 0h2m-6 0h2m-3 3h2m-2 -2h2m3 3h2m-2 -1h2m-7 0h2m3 -3h2m-6 4h2m0 0h2m-5 -2h2m2 -2h2m-6 1h2m-1 2h2m-3 -1h2m1 -2h2m-2 4h2m-2 0h2m0 -2h2m-6 -1h2m1 3h2m-4 -4h2m1 3h2m-2 0h2m-6 0h2m-1 1h2m-3 -1h2m-1 -3h2m-4 2h2m-2 0h2m0 2h2m-3 -1h2m1 -2h2m-4 -1h2m-3 2h2m-2 -1h2m0 3h2m-1 -1h2m-5 0h2m1 0h2m-3 -2h2m-3 0h2m-1 0h2m-3 0h2m-1 2h2m-1 -1h2m-3 -1h2m-3 2h2m0 -1h2m-3 1h2m-3 -1h2m-2 0h2m-2 0h2m-1 1h2m-2 0h2m-3 -1h2m-1 0h2m-2 0h2m-3 0h2m-1 0h2" stroke="#fcdc52" stroke-width="2" fill="none"/>
<rect x="459.70" y="93.90" width="47.20" height="41.10" fill="none" stroke="#3c4f86" stroke-width="1"/>
<line x1="160.30" y1="277.20" x2="250.80" y2="277.20" stroke="#3a3a3a" stroke-width="1.2"/>
<text x="205.55" y="272.80" font-size="6.6" text-anchor="middle" textLength="33.30" lengthAdjust="spacingAndGlyphs">CD4 T cells</text>
<text x="166.80" y="322.70" font-size="8.4" text-anchor="middle" textLength="76.00" lengthAdjust="spacingAndGlyphs" transform="rotate(-90 166.80 322.70)">169Tm_CD25 [Tm169Di]</text>
<text x="172.50" y="373.00" font-size="8.4" textLength="75.70" lengthAdjust="spacingAndGlyphs">166Er_CD127 [Er166Di]</text>
<rect x="175.30" y="284.20" width="72.30" height="70.10" fill="none" stroke="#444" stroke-width="0.9"/>
<path d="M185.8 354.3v3.2M193.5 354.3v2M198.0 354.3v2M201.2 354.3v2M203.6 354.3v2M205.6 354.3v2M207.4 354.3v2M208.8 354.3v2M210.1 354.3v2M211.3 354.3v3.2M219.0 354.3v2M223.5 354.3v2M226.7 354.3v2M229.1 354.3v2M231.1 354.3v2M232.9 354.3v2M234.3 354.3v2M235.6 354.3v2M236.8 354.3v3.2M244.5 354.3v2M246.6 354.3v3.2M175.3 335.3h-3.2M175.3 329.7h-2M175.3 326.4h-2M175.3 324.1h-2M175.3 322.3h-2M175.3 320.8h-2M175.3 319.6h-2M175.3 318.5h-2M175.3 317.6h-2M175.3 316.7h-3.2M175.3 311.1h-2M175.3 307.8h-2M175.3 305.5h-2M175.3 303.7h-2M175.3 302.2h-2M175.3 301.0h-2M175.3 299.9h-2M175.3 299.0h-2M175.3 298.1h-3.2M175.3 292.5h-2M175.3 289.2h-2M175.3 286.9h-2M175.3 285.1h-2" stroke="#222" stroke-width="0.7" fill="none"/>
<rect x="178.30" y="354.70" width="12.00" height="2.40" fill="#111"/>
<path transform="scale(0.5)" d="M0 0m414 609h2m-3 -2h2m-33 -13h2m25 21h2m4 73h2m-7 -69h2m-42 -5h2m27 -7h2m-22 -1h2m-11 9h2m-3 3h2" stroke="#0c0814" stroke-width="2" fill="none"/>
<path transform="scale(0.5)" d="M0 0m407 696h2m-3 -78h2m-1 77h2m7 -40h2m-49 41h2m11 -88h2m27 78h2m2 -20h2m-10 -45h2m-5 -4h2m-37 4h2m-2 1h2m-2 0h2m39 8h2m3 28h2m-3 7h2m-11 30h2m2 -66h2m-22 -19h2m23 47h2m-29 -46h2m5 1h2m-23 8h2m-2 75h2m-2 -75h2m31 5h2m-39 4h2m39 6h2m-41 57h2m1 4h2m37 -41h2m-21 -41h2m-7 -1h2m11 82h2m-34 -7h2" stroke="#0c0814" stroke-width="2" fill="none"/>
<path transform="scale(0.5)" d="M0 0m410 639h2m-4 43h2m-35 14h2m28 -70h2m5 41h2m-6 16h2m0 -45h2m-44 -5h2m4 60h2m24 2h2m-33 -12h2m31 -60h2m-4 72h2m-33 -62h2m32 -8h2m-5 70h2m-29 -69h2m-6 7h2m-2 50h2m-1 0h2m5 12h2m26 -66h2m-15 -12h2m-21 72h2m30 -4h2m-18 -68h2m-13 4h2m1 -2h2m24 59h2m-36 -50h2m4 67h2" stroke="#0c0814" stroke-width="2" fill="none"/>
<path transform="scale(0.5)" d="M0 0m378 694h2m-3 -71h2m1 72h2m-13 -58h2m-1 44h2m-4 -7h2m1 10h2m37 -25h2m-18 37h2m13 -50h2m-37 41h2m32 -15h2m-39 -38h2m21 -14h2m2 72h2m-30 -54h2m28 52h2m7 -34h2m-22 -37h2m18 46h2m-2 -5h2m-38 24h2m-4 -49h2m18 61h2m-2 0h2m-25 -25h2m-1 0h2m23 23h2m3 -4h2m-32 -16h2m-2 -1h2m-3 -24h2m16 46h2m-4 0h2m3 1h2m-22 -25h2m16 24h2m-20 -52h2m34 -4h2m-17 56h2m0 0h2m11 -59h2m-33 -4h2m-2 -1h2m12 64h2m-21 -22h2m16 22h2m-9 -3h2m7 3h2m-5 0h2m20 -33h2" stroke="#0c0814" stroke-width="2" fill="none"/>
<path transform="scale(0.5)" d="M0 0m378 626h2m24 10h2m-16 59h2m15 -28h2m-41 -7h2m38 1h2m-23 33h2m17 -51h2m-26 -20h2m-15 43h2m30 19h2m-34 -37h2m2 -12h2m32 27h2m-25 30h2m21 -27h2m-37 -29h2m21 -12h2m-28 25h2m30 -18h2m-31 6h2m10 55h2m-8 -5h2m-6 -55h2m-7 24h2m33 -17h2m-14 -16h2m-21 12h2m-6 26h2m-1 8h2m7 18h2m-11 -38h2m-2 16h2m21 -41h2m7 10h2m-34 29h2m33 8h2m-14 19h2" stroke="#0c0814" stroke-width="2" fill="none"/>
<path transform="scale(0.5)" d="M0 0m384 691h2m5 0h2m8 -9h2m-1 -46h2m0 8h2m-36 10h2m28 -21h2m-28 45h2m11 -53h2m-1 66h2m16 -29h2m-27 26h2m-12 -19h2m32 -19h2m-3 22h2m-32 5h2m1 5h2m16 5h2m-2 0h2m-15 1h2m-2 -60h2m21 28h2m-36 10h2m5 -34h2m3 -4h2m8 60h2m-6 1h2m14 -24h2m-36 -10h2m31 -7h2m-2 -1h2m-1 13h2m-31 -24h2m-7 27h2m3 -27h2m21 -2h2m-27 42h2" stroke="#0c0814" stroke-width="2" fill="none"/>
<path transform="scale(0.5)" d="M0 0m404 647h2m-19 -20h2m-5 1h2m17 18h2m-29 33h2m21 -44h2m-28 12h2m16 41h2m11 -34h2m-20 -26h2m-2 0h2m0 60h2m-7 -58h2m16 10h2m-21 45h2m18 -40h2m-10 40h2m-24 -29h2m16 -27h2m-19 23h2m24 -15h2m-18 49h2m-12 -21h2m24 -28h2m-28 26h2m23 -27h2m-25 7h2m3 -10h2m8 -3h2m11 33h2m-7 17h2m-3 -46h2m-6 51h2m-22 -21h2" stroke="#0c0814" stroke-width="2" fill="none"/>
<path transform="scale(0.5)" d="M0 0m378 679h2m20 -38h2m-5 -5h2m-1 1h2m-14 49h2m13 -14h2m-10 -40h2m-4 53h2m-20 -34h2m28 12h2m-26 16h2m-2 -43h2m22 21h2m-21 27h2m6 -52h2m8 20h2m-23 30h2m-8 -35h2m26 15h2m-5 -20h2m1 18h2m-2 -1h2m-28 -18h2m13 -8h2m-10 50h2m-5 -2h2m15 -4h2m-7 6h2m-19 -39h2m-3 26h2m-3 -11h2m-1 -13h2" stroke="#0c0814" stroke-width="2" fill="none"/>
<path transform="scale(0.5)" d="M0 0m381 680h2m-8 -11h2m1 -30h2m1 42h2m0 1h2m4 -50h2m0 1h2m-3 50h2m9 -15h2m-4 -24h2m-4 -5h2m-22 4h2m-1 32h2m-5 -13h2m11 -29h2m3 2h2m-10 47h2m10 -7h2m-19 -37h2m6 -4h2m3 2h2m-7 -2h2m4 3h2m-14 42h2m8 2h2m-19 -22h2m24 0h2m-2 0h2m-28 -8h2m10 31h2" stroke="#0c0814" stroke-width="2" fill="none"/>
<path transform="scale(0.5)" d="M0 0m401 661h2m-27 2h2m6 -27h2m3 -1h2m3 3h2m-21 16h2m23 -5h2m-5 26h2m-2 -33h2m-23 26h2m16 -30h2m-2 41h2m2 -8h2m-17 -34h2m15 25h2m-8 -23h2m3 28h2m-21 -27h2m-3 33h2m10 7h2m-10 -2h2m15 -17h2m-15 19h2m-12 -12h2m17 -26h2m-4 35h2m-11 -40h2m10 8h2m0 22h2m-14 -30h2" stroke="#0c0814" stroke-width="2" fill="none"/>
<path transform="scale(0.5)" d="M0 0m381 675h2m-7 -21h2m16 -14h2m-4 -2h2m5 27h2m-12 14h2m6 -33h2m-15 32h2m-4 -38h2m3 -3h2m-7 4h2m-7 24h2m7 14h2m-8 -7h2m15 -26h2m-2 -1h2m0 7h2m-12 -14h2m7 12h2m-13 -12h2m-3 40h2m-5 -2h2m14 -19h2m-19 18h2m-6 -27h2m19 10h2m-4 10h2m-19 4h2m16 -5h2m-21 1h2m15 3h2m-18 -26h2m13 27h2m1 -19h2m-20 18h2m11 -30h2m-10 36h2m7 -35h2m-6 -3h2m1 2h2m3 21h2m-4 9h2" stroke="#0c0814" stroke-width="2" fill="none"/>
<path transform="scale(0.5)" d="M0 0m378 665h2m9 -26h2m0 1h2m-10 35h2m3 2h2m-7 -3h2m-7 -19h2m-2 3h2m6 -18h2m-7 31h2m15 -8h2m-9 -23h2m-13 28h2m0 5h2m-6 -15h2m18 -2h2m-11 20h2m3 -33h2m-2 29h2m0 -23h2m-2 19h2m-4 4h2m-17 -14h2m8 17h2m-1 0h2m-12 -25h2m3 -8h2m-5 29h2" stroke="#0c0814" stroke-width="2" fill="none"/>
<path transform="scale(0.5)" d="M0 0m397 656h2m-7 -12h2m1 24h2m-17 -2h2m2 7h2m-4 -27h2m-2 0h2m10 0h2m1 15h2m-13 -19h2m-2 0h2m2 1h2m-2 30h2m-7 -30h2m1 0h2m3 28h2m-11 -26h2m4 28h2m-12 -20h2m5 20h2m7 -11h2m-17 4h2m12 -1h2m-15 2h2m3 6h2m7 -17h2m-2 2h2m-17 -6h2m5 21h2m-10 -18h2m2 -9h2m2 27h2" stroke="#0c0814" stroke-width="2" fill="none"/>
<path transform="scale(0.5)" d="M0 0m393 647h2m-8 -3h2m-7 4h2m-2 18h2m-2 1h2m8 3h2m-11 -22h2m10 13h2m-5 8h2m-10 1h2m3 -26h2m4 9h2m-5 -7h2m-12 19h2m2 6h2m1 0h2m-5 -26h2m-5 4h2m9 15h2m-1 -3h2m-16 -5h2m12 -1h2m-3 -1h2m-13 12h2m7 -17h2m-5 21h2m-1 0h2m0 -2h2m-4 1h2m2 -17h2m-14 1h2m-1 -3h2m7 -1h2m-1 16h2m-13 -9h2m3 -9h2m-5 21h2" stroke="#0c0814" stroke-width="2" fill="none"/>
<path transform="scale(0.5)" d="M0 0m382 654h2m1 -5h2m-3 18h2m-1 -19h2m-2 19h2m6 -14h2m-11 13h2m6 0h2m-11 -2h2m0 3h2m-4 -12h2m-2 -2h2m-1 11h2m3 -16h2m1 16h2m-10 -11h2m-1 13h2m2 -17h2m-2 0h2m-3 0h2m3 8h2m-3 -2h2m-4 10h2m-6 1h2m-1 -16h2" stroke="#0c0814" stroke-width="2" fill="none"/>
<path transform="scale(0.5)" d="M0 0m390 665h2m-5 -15h2m-5 9h2m5 3h2m-5 -11h2m-1 1h2m-1 1h2m-6 1h2m-2 -1h2m-2 9h2m-3 -5h2m-2 0h2m4 0h2m-7 4h2m1 1h2m-6 -4h2m1 -5h2m0 6h2m-3 -4h2m-2 0h2m-4 0h2m-2 6h2m0 -6h2m-1 4h2m-6 -2h2m-1 -1h2m-2 4h2" stroke="#0c0814" stroke-width="2" fill="none"/>
<path transform="scale(0.5)" d="M0 0m406 624h2m60 29h2m-15 -41h2m-48 20h2m-8 20h2m28 -49h2m-33 51h2m47 -41h2m-41 14h2m59 39h2m-54 -54h2m31 10h2m8 37h2m8 11h2m1 14h2m-69 -36h2m64 41h2m-33 -77h2m-46 46h2m72 23h2m-57 -60h2m54 71h2m-80 -31h2m34 -51h2m22 35h2m5 20h2m-18 -44h2m18 49h2m-39 -58h2m24 34h2m2 16h2m9 34h2m-47 -81h2m30 45h2m-57 -1h2m12 -33h2m-24 37h2m72 15h2m-15 -25h2m-59 9h2m68 24h2m-50 -65h2m11 -7h2m33 73h2m-6 -16h2m-16 -39h2m-20 -18h2m19 32h2m4 19h2m-47 -32h2m-6 18h2m12 -33h2m40 69h2m-47 -65h2m23 4h2m-35 11h2m-14 25h2m27 -46h2m-20 26h2m-18 23h2m12 -11h2m54 30h2m-12 -21h2m-12 -35h2m-25 -8h2m40 76h2m-12 -36h2m-49 -2h2m15 -39h2m12 0h2m-5 -1h2m-43 49h2m30 -48h2m34 57h2m-43 -52h2m-31 44h2m55 -29h2m-17 -21h2m-26 36h2m7 -28h2m26 9h2m-1 2h2m-26 -16h2m-24 42h2m31 -43h2m25 67h2m-29 -67h2m26 64h2m-4 -10h2m-12 -22h2m-25 -32h2m21 31h2m-9 -21h2m-13 -11h2m10 13h2m16 59h2m-14 -40h2m-15 -28h2m13 39h2m-34 -36h2m20 3h2m-24 -3h2" stroke="#010003" stroke-width="2" fill="none"/>
<path transform="scale(0.5)" d="M0 0m451 637h2m13 45h2m-66 -16h2m13 -22h2m41 24h2m3 9h2m-39 -54h2m34 53h2m-59 -12h2m40 -31h2m12 41h2m2 18h2m-50 -54h2m43 49h2m-20 -59h2m-28 9h2m-13 26h2m4 -9h2m47 33h2m-2 -1h2m-2 -6h2m-32 -58h2m11 8h2m-11 -8h2m-25 34h2m-19 14h2m17 -24h2m21 -22h2m22 66h2m-3 -4h2m-34 -63h2m16 12h2m-3 -2h2m-6 -5h2m-29 20h2m37 15h2m-28 -39h2m-10 9h2m39 47h2m-29 -57h2m12 15h2m-55 35h2m53 -27h2m4 22h2m-15 -38h2m-34 31h2m45 11h2m-9 -20h2m-2 2h2m-59 20h2m14 -12h2m34 -27h2m-6 -6h2m-34 33h2m-14 8h2m10 -7h2m-17 10h2m62 23h2m-64 -24h2m-3 0h2m24 -41h2m-9 22h2m7 -24h2m6 -5h2m-13 9h2m-9 23h2m1 -9h2m43 46h2m-69 -18h2m18 -19h2m30 -16h2m10 36h2m-38 -45h2m20 4h2m-35 26h2m0 -4h2m40 14h2m-10 -28h2m-4 -7h2m5 28h2m-35 -27h2m25 3h2m10 55h2m-2 -12h2m-56 -16h2m-12 9h2m58 -7h2m-6 -9h2m-36 -15h2m0 -6h2m11 -14h2m-14 12h2m-4 6h2m-25 33h2m24 -40h2m8 -10h2m10 7h2m8 33h2m0 5h2m-55 -2h2m43 -29h2m-30 2h2m0 -6h2m-2 1h2m-9 23h2m-22 26h2m-2 0h2m32 -58h2m-18 34h2m44 25h2m-24 -60h2m-38 44h2m-4 2h2m-6 12h2m52 -41h2m-55 43h2m-3 -5h2m-1 3h2m-3 -4h2m21 -29h2m-24 28h2m37 -53h2m21 50h2m-64 12h2m63 4h2m-23 -64h2m-22 13h2m-25 35h2m52 -19h2m-35 -8h2m-24 32h2m22 -39h2m-26 36h2m48 -42h2m-22 -6h2" stroke="#05010a" stroke-width="2" fill="none"/>
<path transform="scale(0.5)" d="M0 0m459 689h2m-46 -27h2m-20 24h2m-2 3h2m7 -20h2m46 -4h2m-59 17h2m57 -12h2m2 13h2m-16 -47h2m-2 1h2m-51 52h2m-2 -5h2m-1 4h2m10 -21h2m-15 14h2m-2 3h2m19 -29h2m-9 11h2m45 9h2m-62 5h2m47 -41h2m-11 -10h2m-25 33h2m35 -4h2m-4 -9h2m7 30h2m-2 4h2m-63 -1h2m-3 8h2m18 -30h2m-21 24h2m58 3h2m-56 -16h2m41 -32h2m-51 42h2m59 -3h2m-63 4h2m-3 14h2m0 -19h2m57 8h2m-60 -10h2m48 -25h2m7 32h2m-64 8h2m59 -14h2m-41 -21h2m-5 7h2m-16 11h2m-3 1h2m55 11h2m-62 -2h2m58 2h2m-47 -20h2m42 31h2m-62 -6h2m42 -59h2m-35 37h2m42 -8h2m-22 -31h2m19 37h2m3 17h2m-39 -35h2m15 -19h2m1 3h2m-47 59h2m49 -50h2m2 16h2m-2 2h2m-55 31h2m-1 -9h2m41 -48h2m14 49h2m-61 0h2m56 5h2m-28 -57h2m24 59h2m-2 -14h2m-62 20h2m23 -50h2m-4 7h2m28 1h2m5 31h2m-17 -50h2m-39 38h2m49 2h2m-17 -41h2m15 62h2m-41 -36h2m-21 24h2m3 -11h2m-10 19h2m53 -27h2m-58 31h2m58 -7h2m-2 -14h2m-3 -2h2m-56 4h2m28 -44h2m-37 63h2m30 -61h2m-20 35h2m13 -29h2m29 47h2m-9 -38h2m-54 42h2m-3 3h2m3 -6h2m41 -50h2m-49 53h2m58 4h2m-52 -24h2m-12 20h2m23 -43h2m33 47h2m-11 -49h2m-49 41h2m53 -11h2m-60 19h2m3 -20h2m-8 20h2m49 -47h2m-27 -5h2m-24 36h2m27 -46h2m25 62h2m-58 -16h2m-6 16h2m2 -17h2m-7 14h2m59 2h2m-57 -18h2m18 -27h2m32 26h2m-7 -12h2m3 27h2m-1 5h2m-28 -62h2m-35 58h2m2 -15h2m25 -41h2m-35 58h2m29 -55h2m-4 3h2m28 46h2m-10 -42h2m-48 39h2m53 -5h2m-61 13h2m56 3h2m-5 -28h2m-52 18h2m47 -20h2m3 18h2m-36 -35h2m5 -13h2m-34 58h2m17 -28h2m-21 27h2" stroke="#080211" stroke-width="2" fill="none"/>
<path transform="scale(0.5)" d="M0 0m402 688h2m34 -55h2m-43 60h2m58 0h2m-39 -35h2m-25 36h2m36 -62h2m7 8h2m-46 50h2m51 -19h2m-12 -34h2m-48 57h2m-2 -2h2m57 -1h2m-32 -52h2m-31 54h2m19 -31h2m-20 33h2m-5 -2h2m3 -10h2m50 -11h2m-33 -24h2m-19 25h2m48 10h2m-3 -7h2m-31 -36h2m14 -3h2m-46 55h2m45 -50h2m-31 23h2m-16 17h2m45 -23h2m-9 -22h2m-47 56h2m7 -19h2m15 -26h2m31 32h2m-13 -38h2m4 24h2m-50 12h2m34 -43h2m-43 58h2m30 -57h2m15 13h2m-46 39h2m36 -52h2m-13 -1h2m13 8h2m2 17h2m-10 -24h2m12 45h2m-30 -42h2m-31 54h2m33 -59h2m-33 62h2m0 -19h2m-4 12h2m38 -52h2m-2 0h2m-13 -2h2m-30 43h2m51 15h2m-54 -6h2m50 7h2m-4 1h2m-33 -45h2m-1 -3h2m-23 32h2m27 -45h2m-22 36h2m32 -23h2m-6 -9h2m-21 13h2m-21 36h2m40 -41h2m2 19h2m-29 -17h2m17 -10h2m-40 49h2m47 -14h2m-8 -23h2m-32 15h2m19 -30h2m-41 59h2m47 -40h2m4 23h2m-11 -34h2m-5 -4h2m1 6h2m-24 5h2m-21 27h2m19 -34h2m28 52h2m-3 -17h2m-2 17h2m-6 -30h2m-53 28h2m35 -58h2m-16 19h2m-16 19h2m10 -12h2m30 10h2m-15 -35h2m-28 34h2m-11 16h2m42 -30h2m-45 21h2m14 -18h2m8 -23h2m17 31h2m-13 -31h2m-4 -1h2m-10 3h2m21 58h2m-15 -60h2m-1 1h2m-7 -2h2m-5 1h2m15 26h2m2 33h2m-46 -22h2m-7 23h2m20 -54h2m-13 26h2m-13 28h2m12 -31h2m-12 9h2m36 -27h2m-44 42h2m46 -16h2m-31 -19h2m29 28h2m-26 -45h2m22 40h2m-51 1h2m47 17h2m-15 -57h2m-25 27h2m27 -10h2m-26 -2h2m-20 24h2m48 17h2m-8 -32h2m-24 -21h2m-24 47h2m-1 -11h2m31 -40h2m13 46h2m-51 3h2m46 2h2m-11 -44h2m-46 50h2m37 -57h2m6 19h2m-30 8h2m-16 21h2m8 -16h2m23 -31h2m4 12h2m0 9h2m-5 -12h2m-46 48h2m-3 -3h2m52 0h2m-44 -21h2m33 -18h2m-14 -17h2m-32 48h2m1 -10h2m15 -26h2m-22 36h2m45 -12h2m-3 24h2m-2 0h2m-48 -16h2m43 -12h2m-50 27h2m39 -52h2m-23 15h2m1 -11h2m-13 23h2m-11 10h2m12 -15h2m-11 8h2m-10 22h2m1 -14h2m6 -11h2m-10 26h2m39 -44h2" stroke="#0b0319" stroke-width="2" fill="none"/>
<path transform="scale(0.5)" d="M0 0m420 664h2m14 -28h2m-37 59h2m2 -12h2m46 -6h2m-49 8h2m45 -7h2m-11 -32h2m-9 -9h2m14 58h2m-2 -16h2m-12 -36h2m3 16h2m-9 -19h2m4 14h2m-43 24h2m45 2h2m-53 12h2m12 -23h2m34 20h2m-7 -32h2m-44 33h2m15 -30h2m-2 0h2m-18 26h2m35 -43h2m5 24h2m-27 -19h2m-3 5h2m23 11h2m-29 -4h2m23 -2h2m-43 31h2m17 -41h2m14 -7h2m-28 28h2m36 12h2m-4 -9h2m0 5h2m-49 12h2m45 3h2m-40 -23h2m15 -31h2m-11 19h2m-1 -5h2m1 -8h2m-21 32h2m43 4h2m-4 15h2m-48 1h2m45 -10h2m-12 -45h2m9 43h2m-49 12h2m45 -15h2m-48 5h2m-3 -6h2m21 -39h2m-25 55h2m36 -49h2m-41 43h2m0 -3h2m11 -23h2m14 -26h2m-9 3h2m15 12h2m-39 22h2m15 -30h2m-21 33h2m36 -29h2m-6 -8h2m-8 -3h2m13 33h2m-28 -19h2m26 34h2m-4 -15h2m-47 19h2m44 -16h2m-9 -26h2m1 11h2m-39 16h2m-4 1h2m39 -10h2m-44 13h2m-1 -2h2m42 5h2m-2 -4h2m-2 2h2m-19 -42h2m-12 11h2m-3 4h2m15 -12h2m-35 47h2m7 -20h2m28 -8h2m-24 -9h2m2 -9h2m-25 41h2m41 -15h2m0 18h2m-50 5h2m17 -31h2m-17 24h2m16 -34h2m25 29h2m-50 12h2m-3 1h2m40 -40h2m-39 25h2m41 10h2m-30 -30h2m27 22h2m-19 -41h2m-30 44h2m39 -17h2m-1 3h2m-15 -29h2m-30 48h2m42 -10h2m-2 5h2m-5 -13h2m-28 -10h2m27 35h2m-1 -1h2m-10 -42h2m6 42h2m-4 2h2m-23 -54h2m15 22h2m-20 -21h2m18 27h2m-41 6h2m38 20h2m-44 -9h2m10 -21h2m-14 14h2m9 -13h2m-13 22h2m1 -14h2m34 -12h2m1 27h2m-38 -17h2m-8 24h2m42 -3h2m-9 -41h2m5 31h2m-10 -35h2m5 37h2m-30 -24h2m27 21h2m-7 -19h2m-18 -22h2m10 6h2m-3 -2h2m-41 48h2m2 -11h2m11 -17h2m18 -23h2m-2 0h2m-34 39h2m-5 10h2m24 -50h2m17 31h2m-39 1h2m35 15h2m-9 -41h2m-15 -5h2m-26 49h2m14 -30h2m7 -20h2m13 18h2m1 36h2m-43 -6h2m4 -17h2m13 -29h2m-23 40h2m13 -23h2m25 12h2m-45 24h2m0 -18h2m22 -38h2m-11 18h2m2 -12h2m18 20h2m-9 -22h2m-39 50h2m42 -27h2m-42 17h2m42 8h2m-4 -20h2m-7 -18h2m-42 41h2m44 -20h2m-30 -14h2m23 35h2m0 -1h2m-31 -30h2" stroke="#0f0520" stroke-width="2" fill="none"/>
<path transform="scale(0.5)" d="M0 0m434 640h2m11 24h2m-14 -24h2m-34 53h2m4 -8h2m25 -45h2m-9 5h2m-3 2h2m-4 4h2m-20 30h2m-2 2h2m25 -43h2m-28 38h2m33 -29h2m-37 40h2m6 -19h2m28 -6h2m1 10h2m-10 -27h2m-35 38h2m39 -10h2m-9 -25h2m-37 40h2m33 -40h2m-36 29h2m14 -24h2m-6 10h2m1 -7h2m-9 12h2m21 -27h2m-32 53h2m13 -42h2m-18 35h2m40 -9h2m-32 -14h2m21 -13h2m-37 31h2m22 -43h2m14 31h2m-27 -12h2m-21 34h2m33 -51h2m-33 38h2m34 -24h2m-11 -16h2m-33 51h2m18 -37h2m-17 32h2m34 -27h2m-32 12h2m12 -28h2m-3 1h2m19 49h2m-30 -30h2m-11 10h2m14 -29h2m16 51h2m-39 -11h2m25 -43h2m-29 54h2m3 -24h2m-7 17h2m38 6h2m-42 -7h2m-2 -9h2m5 -9h2m18 -28h2m-7 0h2m-1 0h2m-7 5h2m-11 22h2m29 22h2m-3 -2h2m-12 -46h2m2 7h2m-14 -6h2m-14 24h2m14 -27h2m13 34h2m-21 -31h2m-23 35h2m38 -3h2m-10 -28h2m-2 -1h2m-18 7h2m-5 8h2m-8 9h2m31 5h2m-3 11h2m-10 -40h2m-15 0h2m16 14h2m-6 -12h2m-19 9h2m-22 35h2m43 -15h2m-40 -2h2m36 1h2m-2 1h2m-41 9h2m36 -13h2m-19 -31h2m-6 5h2m-5 9h2m13 -12h2m-19 18h2m22 5h2m-14 -26h2m-21 30h2m29 -6h2m1 10h2m-41 10h2m22 -44h2m-28 54h2m39 -16h2m-46 12h2m14 -26h2m24 5h2m-26 -11h2m-16 21h2m9 -14h2m-11 10h2m12 -21h2m-10 14h2m6 -15h2m-6 10h2m-17 26h2m3 -14h2m11 -19h2m19 38h2m-5 -45h2m-34 35h2m17 -40h2m-16 26h2m-8 12h2m31 -33h2m1 11h2m0 10h2m-44 20h2m18 -36h2m22 37h2m-17 -51h2m9 54h2m0 -8h2m-27 -24h2m11 -22h2m-29 53h2m-1 -12h2m22 -40h2m-11 15h2m-12 16h2m-7 16h2m33 -31h2m-35 28h2m-2 0h2m34 8h2m-42 0h2m30 -49h2m-12 -1h2m5 -2h2m-29 47h2m0 -13h2m15 -30h2m-4 6h2m-10 17h2m22 -19h2m-4 -3h2m-4 -3h2m-7 -2h2m-29 52h2m32 -47h2m-1 2h2m1 11h2m-36 28h2m17 -43h2m-21 37h2m-1 -5h2m-3 1h2m-2 3h2m-1 4h2m-8 7h2m23 -48h2m-9 17h2m21 6h2m-19 -21h2m7 -2h2m-29 32h2m-7 17h2m0 1h2m0 -15h2m36 -6h2m-23 -24h2m-21 41h2m1 -14h2m28 -26h2m-37 43h2m18 -42h2m-3 3h2m17 6h2m-2 -1h2m0 28h2m-5 -32h2m-1 40h2m-12 -52h2m-11 14h2m-2 -2h2m2 -9h2m10 4h2m-8 -7h2m-20 27h2m19 -25h2" stroke="#16072c" stroke-width="2" fill="none"/>
<path transform="scale(0.5)" d="M0 0m427 653h2m15 7h2m3 32h2m-41 3h2m-1 -13h2m-5 13h2m3 -7h2m-6 7h2m38 -4h2m-16 -47h2m11 51h2m-2 -21h2m-39 9h2m-2 0h2m19 -38h2m7 4h2m-30 38h2m27 -35h2m-11 -8h2m14 39h2m-13 -38h2m-28 41h2m-4 9h2m31 -40h2m2 34h2m-36 -2h2m34 5h2m-2 -12h2m-40 15h2m24 -51h2m-26 44h2m15 -41h2m-1 -1h2m13 49h2m-1 0h2m-24 -34h2m17 -4h2m-4 -6h2m-37 41h2m19 -41h2m-17 37h2m-4 -7h2m30 -27h2m-5 -6h2m0 5h2m2 13h2m-8 -19h2m-30 49h2m32 -1h2m-3 -31h2m0 31h2m-37 1h2m19 -51h2m3 1h2m8 37h2m-38 2h2m-1 4h2m12 -33h2m16 8h2m-35 20h2m-2 5h2m33 -18h2m-5 -10h2m-20 -2h2m0 -6h2m-17 33h2m32 9h2m-25 -31h2m4 -16h2m-9 17h2m-14 25h2m24 -45h2m-3 0h2m-19 26h2m26 16h2m-3 -20h2m-15 -22h2m-23 38h2m34 1h2m-1 -6h2m-19 -32h2m-19 29h2m27 -14h2m-19 -4h2m-21 35h2m10 -22h2m25 18h2m0 -8h2m-5 -11h2m-38 26h2m7 -23h2m10 -24h2m-26 45h2m1 2h2m18 -46h2m-24 45h2m3 -8h2m3 -14h2m17 -27h2m-30 46h2m37 -17h2m-17 -28h2m2 0h2m9 32h2m-35 -2h2m15 -29h2m14 36h2m-24 -24h2m-16 37h2m29 -40h2m-6 -8h2m-24 25h2m15 -27h2m12 31h2m-35 -1h2m-3 10h2m-3 -2h2m23 -38h2m8 29h2m-41 16h2m37 2h2m-37 3h2m32 -25h2m-34 6h2m28 -12h2m-4 -6h2m3 22h2m-37 4h2m-4 5h2m16 -39h2m12 7h2m0 6h2m1 28h2m-3 -5h2m-36 9h2m18 -50h2m-21 40h2m32 -11h2m-4 13h2m-37 7h2m15 -40h2m-15 22h2m3 -6h2m-9 9h2m-1 8h2m31 -15h2m-41 21h2m38 -13h2m-2 -1h2m-4 -9h2m0 8h2m-4 -10h2m-8 -19h2m-29 34h2m-6 7h2m27 -44h2m-2 0h2m-9 1h2m-19 41h2m29 -24h2m-32 12h2m12 -26h2m15 36h2m-32 -12h2m30 6h2m-2 -1h2m-22 -27h2m-14 22h2m13 -26h2m15 34h2m-36 -4h2m-3 2h2m-1 3h2m13 -32h2m16 33h2m-34 2h2m12 -36h2m-1 0h2m15 43h2m-2 -20h2m-34 3h2m3 -6h2m15 -24h2m8 25h2m-30 0h2m-7 13h2m21 -38h2m-25 33h2m13 -27h2m16 19h2m-2 13h2m-7 -28h2m3 35h2m-3 -21h2m-5 25h2m1 -7h2m-35 -8h2m-3 9h2m4 -16h2m11 -25h2m12 46h2m0 -20h2m-5 21h2m-32 -12h2m-7 10h2m14 -29h2m19 29h2m-3 -25h2m-4 -8h2m-5 -11h2m1 10h2m0 8h2m0 16h2m-40 8h2m4 -3h2m24 -35h2m5 24h2m-3 -5h2m-20 -21h2m16 32h2m-33 -7h2m-3 9h2m20 -38h2m2 6h2m-31 41h2m-3 0h2m32 -27h2" stroke="#280d48" stroke-width="2" fill="none"/>
<path transform="scale(0.5)" d="M0 0m442 656h2m-2 2h2m1 31h2m-21 -26h2m-5 4h2m22 8h2m-35 6h2m31 11h2m-39 3h2m3 -6h2m18 -41h2m5 8h2m3 20h2m-35 4h2m26 -23h2m2 29h2m-32 10h2m15 -48h2m-7 10h2m12 1h2m3 15h2m-13 -26h2m-26 47h2m33 -3h2m-2 -8h2m-2 -2h2m-15 -34h2m1 0h2m-17 22h2m21 17h2m-32 9h2m13 -44h2m-15 44h2m-2 -21h2m-4 14h2m-1 -12h2m16 -29h2m-2 0h2m4 5h2m0 7h2m-24 12h2m21 -10h2m-33 29h2m2 -3h2m27 1h2m-11 -41h2m9 30h2m-8 -24h2m-14 2h2m13 9h2m-13 -16h2m12 45h2m-22 -35h2m4 -10h2m7 11h2m3 21h2m-33 7h2m14 -38h2m2 -2h2m8 46h2m-28 -22h2m25 20h2m-20 -37h2m16 21h2m-34 9h2m20 -36h2m-18 21h2m22 16h2m0 -4h2m-3 -8h2m-2 -1h2m-20 -14h2m12 1h2m-14 -7h2m-1 -2h2m-14 23h2m-6 6h2m23 -27h2m0 5h2m-29 24h2m18 -33h2m-22 30h2m24 -23h2m-30 39h2m-1 0h2m29 0h2m-23 -28h2m20 7h2m-5 -10h2m-22 5h2m22 13h2m-12 -32h2m-17 20h2m-6 26h2m-9 -2h2m33 -9h2m-3 -15h2m-2 25h2m-25 -25h2m0 -3h2m-15 27h2m25 -44h2m1 7h2m-10 -8h2m-19 40h2m26 -22h2m-17 -10h2m3 -8h2m11 33h2m-21 -24h2m6 -9h2m-28 44h2m32 -26h2m-15 -15h2m11 37h2m-30 0h2m24 -29h2m0 7h2m-29 19h2m14 -36h2m3 1h2m1 6h2m-2 1h2m3 16h2m-1 4h2m-2 0h2m-3 6h2m-29 -10h2m12 -24h2m-19 29h2m23 -22h2m-26 29h2m-4 -6h2m-2 1h2m-3 14h2m-2 -4h2m31 -9h2m-34 8h2m-2 -7h2m3 -10h2m-11 19h2m4 -4h2m28 -8h2m-16 -30h2m-18 38h2m23 -26h2m-30 33h2m-1 -13h2m23 -28h2m-6 -4h2m-4 0h2m-7 7h2m-13 19h2m27 5h2m-34 1h2m20 -31h2m-12 12h2m-11 12h2m-3 11h2m10 -30h2m-21 37h2m7 -19h2m23 14h2m1 -9h2m-5 11h2m-2 0h2m-1 4h2m-25 -23h2m-10 24h2m19 -45h2m-20 46h2m19 -44h2m-23 33h2m21 11h2m-5 -45h2m-21 25h2m20 -20h2m0 40h2m2 -17h2m-33 16h2m27 -8h2m-17 -30h2m7 -5h2m-7 -1h2m9 18h2m-4 -8h2m-15 -3h2m-20 34h2m4 -14h2m27 -4h2m-32 16h2m-3 5h2m29 -21h2m-2 6h2m-32 4h2m14 -32h2m-18 31h2m25 -17h2m-28 20h2m-3 -7h2m12 -23h2m-15 29h2m5 -17h2m20 7h2m-5 -9h2m-18 -3h2m-17 31h2m0 1h2m0 -5h2m13 -36h2m8 5h2m1 9h2m-12 -17h2m-19 27h2m18 -26h2m-19 21h2m7 -14h2m-14 20h2m26 7h2m-4 -19h2m-28 12h2m19 -26h2m4 33h2m-18 -24h2m-4 3h2m-10 11h2m7 -12h2m10 32h2m1 -34h2m-13 -8h2m-18 37h2m27 3h2" stroke="#3a1263" stroke-width="2" fill="none"/>
<path transform="scale(0.5)" d="M0 0m443 695h2m-29 -14h2m16 -30h2m-17 45h2m8 -37h2m-14 31h2m-5 5h2m-3 -4h2m27 -27h2m-26 23h2m25 6h2m-8 3h2m-23 -10h2m26 -8h2m-35 17h2m16 -40h2m-14 33h2m24 -4h2m-2 7h2m-4 -3h2m-26 -13h2m11 -21h2m1 -2h2m-19 34h2m18 -32h2m5 31h2m-34 9h2m19 -42h2m6 13h2m-28 26h2m-2 -1h2m12 -34h2m5 -3h2m-22 26h2m19 -24h2m6 24h2m-7 -19h2m-25 26h2m25 6h2m-10 -39h2m-10 8h2m13 33h2m-2 -3h2m-13 -38h2m-16 34h2m14 -35h2m8 22h2m-14 -21h2m-16 34h2m8 -28h2m-4 6h2m-10 23h2m18 8h2m4 -12h2m-17 -27h2m0 -2h2m4 41h2m5 -13h2m-26 13h2m-6 -15h2m-2 1h2m27 -3h2m-28 -5h2m11 -21h2m9 33h2m0 -8h2m-22 -11h2m15 23h2m0 -16h2m-28 13h2m18 -30h2m-2 0h2m-28 35h2m12 -26h2m5 -13h2m2 2h2m2 10h2m-23 31h2m10 -43h2m-10 16h2m17 23h2m-10 -39h2m1 43h2m3 -25h2m-29 19h2m24 -22h2m-12 -14h2m-7 9h2m7 -9h2m6 22h2m-16 -19h2m-8 12h2m-9 14h2m20 -23h2m-1 35h2m-1 -6h2m-11 -35h2m10 21h2m-27 0h2m20 -8h2m-3 28h2m0 -9h2m-28 -4h2m15 -29h2m7 41h2m-3 1h2m-22 -22h2m20 -1h2m-29 23h2m1 -19h2m23 7h2m-28 12h2m17 -39h2m3 12h2m-23 28h2m17 -1h2m-24 -6h2m19 6h2m-2 -35h2m-20 36h2m-3 -22h2m21 20h2m-6 -33h2m-2 0h2m-20 35h2m14 -40h2m-12 8h2m10 31h2m-5 -40h2m-3 -1h2m5 16h2m-32 23h2m7 3h2m18 -7h2m-20 -18h2m-13 22h2m28 -23h2m-7 -14h2m2 33h2m-1 -19h2m-15 -9h2m11 9h2m-25 17h2m14 -33h2m-1 1h2m-21 35h2m23 -20h2m-13 -14h2m-15 22h2m-3 17h2m19 -38h2m-23 23h2m23 7h2m-12 -32h2m-10 14h2m18 12h2m-8 -23h2m2 33h2m-3 -3h2m-6 8h2m1 -32h2m-2 -1h2m-12 -4h2m12 17h2m-25 20h2m20 -23h2m-4 -6h2m-2 20h2m-15 -25h2m-7 8h2m6 -13h2m-15 20h2m-3 18h2m-6 -1h2m23 -35h2m2 27h2m-27 -6h2m23 14h2m-3 -4h2m-25 -6h2m0 -9h2m3 -7h2m6 -13h2m-16 31h2m-8 6h2m3 -15h2m10 -18h2m-2 0h2m-13 30h2m-3 -11h2m2 18h2m17 -28h2m-3 -4h2m-1 4h2m-25 10h2m7 -13h2m0 -5h2m-2 0h2m0 -2h2m10 15h2m-26 16h2m-1 -15h2m19 14h2m-29 4h2m3 -6h2m-1 10h2m19 -6h2m-29 4h2m25 -5h2m-29 3h2m28 -14h2m-27 7h2m-4 -4h2m24 2h2m-25 6h2m16 6h2m2 -24h2m-24 17h2m-2 -12h2m-7 19h2m24 -8h2m0 -4h2m-9 -27h2m-24 38h2m25 -27h2m0 8h2m-28 20h2m23 -10h2m-7 -27h2m1 9h2m-20 29h2m19 -13h2m-7 12h2m-7 -39h2m-4 1h2m4 1h2m-25 36h2m19 -38h2m6 18h2m-20 -6h2m-8 22h2m22 -14h2m-31 18h2m-2 -2h2m16 -36h2m7 30h2m-6 10h2m4 -23h2m-29 22h2m20 -34h2m-12 2h2m-11 15h2m16 -19h2m-21 24h2m23 -5h2m-25 8h2m10 -29h2m-9 39h2m17 -16h2" stroke="#60175b" stroke-width="2" fill="none"/>
<path transform="scale(0.5)" d="M0 0m418 695h2m8 -29h2m10 -4h2m-21 25h2m7 -25h2m-9 11h2m18 20h2m-1 -19h2m-5 -9h2m-13 -4h2m8 3h2m-23 17h2m-4 14h2m12 -36h2m5 -1h2m1 7h2m0 6h2m-12 -14h2m3 1h2m-7 -1h2m5 6h2m-9 -5h2m9 24h2m-8 13h2m-21 -12h2m7 -17h2m9 -4h2m2 31h2m-10 3h2m7 -13h2m-26 -4h2m-3 2h2m4 -11h2m15 16h2m-22 2h2m-9 4h2m20 -34h2m-19 37h2m-3 -13h2m10 -22h2m7 3h2m-27 30h2m11 -27h2m9 29h2m-22 -14h2m-1 3h2m-2 -7h2m13 -20h2m0 1h2m-18 37h2m20 -21h2m-4 -7h2m-15 -1h2m-7 30h2m13 -36h2m-7 -2h2m6 36h2m0 -20h2m-26 7h2m2 -8h2m11 23h2m-14 -24h2m6 -13h2m9 15h2m-9 -16h2m-9 7h2m2 -7h2m-18 37h2m23 -4h2m-24 -7h2m14 12h2m-4 -39h2m-5 3h2m-1 36h2m-13 -1h2m9 -35h2m10 20h2m-14 -21h2m0 -1h2m6 27h2m-17 11h2m8 0h2m5 -18h2m-9 18h2m5 -20h2m-22 20h2m15 -6h2m-5 -29h2m-1 34h2m-6 1h2m-16 -19h2m12 -19h2m-3 0h2m-12 14h2m15 22h2m-14 -29h2m-6 6h2m-12 21h2m23 -28h2m-19 10h2m16 -7h2m-22 28h2m13 -36h2m4 13h2m0 8h2m-3 4h2m-12 -25h2m3 36h2m-21 -4h2m22 -7h2m-10 -26h2m3 8h2m-19 21h2m9 9h2m-2 0h2m2 -1h2m-7 -36h2m-7 7h2m-2 1h2m12 3h2m-1 12h2m-23 7h2m-4 6h2m-3 -4h2m-5 1h2m15 -33h2m9 19h2m-4 15h2m-23 -9h2m19 -15h2m-24 11h2m9 -19h2m7 29h2m-9 -31h2m7 34h2m-11 -34h2m-13 17h2m11 20h2m-19 -5h2m11 -29h2m0 34h2m7 -5h2m-21 -17h2m-9 20h2m4 -9h2m4 11h2m8 -35h2m-6 35h2m-14 -20h2m-8 17h2m0 2h2m19 -31h2m-13 32h2m10 -8h2m-12 -23h2m-5 4h2m12 25h2m-5 1h2m-2 -33h2m0 26h2m-1 3h2m-1 3h2m-6 -32h2m2 9h2m-5 -7h2m-17 24h2m14 -23h2m-8 -5h2m7 16h2m-8 19h2m-19 -13h2m1 13h2m13 -33h2m1 7h2m-27 23h2m24 -8h2m-16 12h2m-6 -9h2m16 -3h2m-5 -20h2m-7 -4h2m-15 35h2m16 -30h2m-9 -4h2m9 21h2m-21 13h2m13 -31h2m-13 3h2m9 28h2m2 -21h2m-3 -2h2m-4 18h2m-21 -6h2m14 -23h2m-1 1h2m-4 -2h2m5 14h2m-22 2h2m3 -8h2m10 22h2m-21 -6h2m11 -24h2m-5 4h2m10 16h2m-2 3h2m-2 -5h2m-12 -17h2m5 6h2m-20 10h2m11 -17h2m-1 1h2m-2 0h2m-3 -1h2m1 35h2m0 -5h2m1 -15h2m-21 20h2m-10 -2h2m17 -33h2m1 4h2m2 9h2m-19 -1h2m16 2h2m-21 21h2m-8 -1h2m17 1h2m2 -2h2m-15 3h2m9 -7h2m-17 -16h2m-2 22h2m5 1h2m8 -11h2m-18 3h2m13 6h2m-5 -32h2m2 7h2m-17 26h2m14 -21h2m-12 -11h2m-11 12h2m11 -14h2m2 6h2m-7 -6h2m2 28h2m1 -15h2m-25 17h2m15 -30h2m-11 8h2m8 -7h2m-6 0h2m4 28h2m-5 5h2m-4 -34h2" stroke="#8b1b4a" stroke-width="2" fill="none"/>
<path transform="scale(0.5)" d="M0 0m436 662h2m1 4h2m1 9h2m-19 -2h2m7 -12h2m-4 35h2m-17 -4h2m19 3h2m3 -19h2m-15 20h2m-11 -1h2m18 -25h2m0 8h2m-21 -4h2m-9 19h2m23 -10h2m-19 5h2m-5 7h2m1 -22h2m-5 6h2m0 -4h2m0 20h2m13 -24h2m-9 24h2m3 -28h2m-8 -5h2m-12 13h2m6 -11h2m-11 31h2m-1 -5h2m17 -18h2m-8 -10h2m-4 0h2m-12 13h2m14 16h2m-7 4h2m2 -7h2m-23 6h2m1 -3h2m12 -29h2m-2 33h2m-16 -14h2m3 -10h2m12 -4h2m-19 10h2m17 -2h2m-16 20h2m13 -14h2m-18 14h2m-6 -5h2m15 -4h2m-5 -23h2m-9 4h2m9 4h2m-21 13h2m16 2h2m-20 -4h2m13 -19h2m-11 6h2m11 16h2m-20 5h2m12 -26h2m-2 0h2m3 9h2m-7 -9h2m3 12h2m-22 2h2m18 4h2m-20 -7h2m14 -6h2m-2 -1h2m-20 23h2m17 -6h2m0 -7h2m-5 7h2m-3 6h2m0 -19h2m0 5h2m-8 -14h2m-21 30h2m7 -23h2m-9 21h2m7 4h2m9 -1h2m-3 -7h2m-3 2h2m-18 -10h2m-2 3h2m15 -14h2m-15 4h2m-9 20h2m1 -1h2m-6 2h2m17 -29h2m0 30h2m-19 1h2m18 -20h2m-7 -12h2m-14 23h2m-2 3h2m5 -24h2m4 30h2m-15 0h2m-4 -10h2m6 -19h2m-10 24h2m10 -27h2m-14 13h2m15 -7h2m0 5h2m-12 21h2m4 -7h2m-14 -1h2m-2 1h2m3 -22h2m5 22h2m-9 -23h2m-11 17h2m-3 13h2m2 -22h2m8 -10h2m-5 2h2m2 30h2m-3 -32h2m-11 25h2m11 -1h2m-6 -24h2m5 11h2m-2 9h2m-14 12h2m-11 0h2m1 -20h2m16 7h2m-26 11h2m0 -1h2m-4 1h2m4 -8h2m-4 -6h2m16 12h2m-20 -12h2m2 10h2m-2 0h2m-5 -11h2m12 -14h2m-9 31h2m-10 -13h2m0 8h2m0 -3h2m-5 8h2m-2 -11h2m4 11h2m-13 -2h2m13 -29h2m0 -1h2m-1 1h2m-2 0h2m1 30h2m-2 -3h2m-17 -15h2m14 9h2m-9 10h2m-17 -2h2m1 1h2m6 -25h2m3 -6h2m4 29h2m-1 -21h2m-21 10h2m0 -6h2m8 -11h2m-5 2h2m4 22h2m-16 2h2m8 -26h2m-15 28h2m16 -2h2m-9 -23h2m-8 19h2m-1 1h2m14 -6h2m-13 14h2m-8 -9h2m4 9h2m-8 -21h2m-7 18h2m1 -14h2m2 17h2m-2 -7h2m13 -10h2m-21 5h2m4 -14h2m6 -3h2m-16 17h2m13 -17h2m-11 3h2m6 26h2m-14 -9h2m15 -5h2m-7 9h2m-7 -25h2m-7 24h2m-6 -12h2m8 18h2m-14 -1h2m14 -28h2m2 17h2m-16 5h2m-2 1h2m4 6h2m-11 0h2m-5 -4h2m-1 -10h2m17 -8h2m-12 22h2m6 -26h2m-19 26h2m2 -22h2m11 13h2m-3 5h2m-16 -1h2m13 -21h2m-4 21h2m-7 -24h2m5 4h2m-2 21h2m-2 -5h2m-2 0h2m-11 9h2m6 -27h2m-5 27h2m-13 -5h2m12 -4h2m-6 -21h2m0 0h2m-14 25h2m13 -5h2m-8 -20h2m1 0h2m-16 29h2m-1 -15h2m16 -4h2m-8 -10h2m3 6h2m-5 16h2m-12 -15h2m5 23h2m6 -17h2m-13 -11h2m6 18h2m1 -5h2m-17 15h2m10 -26h2m-7 -4h2m-9 30h2m8 -8h2m-9 -19h2m6 18h2m-11 -17h2m-8 13h2m15 10h2m-14 -21h2m11 5h2m-15 13h2m-1 -20h2m-5 26h2m0 0h2m-5 -5h2m9 5h2m-13 -5h2m9 -1h2m-5 -23h2m6 15h2m-7 14h2m-7 -28h2m7 6h2m-19 7h2m12 14h2m-4 1h2m-9 0h2m8 -28h2m-5 -2h2m1 3h2m-7 -2h2m-11 11h2m12 17h2m-16 -16h2m-1 17h2m0 0h2m11 -11h2m-10 -18h2m5 19h2m-20 7h2m1 -15h2m15 5h2m-19 -5h2m2 11h2m-7 -6h2m14 -12h2m-19 21h2m11 -3h2m-16 4h2m18 -19h2m-4 12h2m-20 7h2m10 3h2m-12 -15h2m-3 11h2m9 -25h2m-9 20h2m13 -10h2m-7 11h2m-15 7h2m13 -25h2m-17 12h2m2 14h2m8 -4h2m2 -9h2m-2 -8h2m-7 16h2m-2 5h2m1 -3h2m-5 -26h2m-13 19h2m5 10h2m0 0h2m-7 -7h2m-3 -1h2m8 7h2m-6 -28h2m-13 14h2m4 15h2m8 -25h2m-18 11h2m8 14h2m-11 -17h2" stroke="#ad2638" stroke-width="2" fill="none"/>
<path transform="scale(0.5)" d="M0 0m441 675h2m-21 19h2m2 -4h2m-5 1h2m3 -4h2m-6 4h2m7 -25h2m-11 12h2m6 17h2m4 -26h2m1 8h2m-6 17h2m-9 1h2m5 -27h2m-1 17h2m0 -13h2m-10 23h2m7 -19h2m-10 -10h2m-10 18h2m12 8h2m-11 -3h2m-2 0h2m6 -3h2m-4 1h2m-12 -12h2m9 16h2m-5 -25h2m3 4h2m-15 16h2m2 2h2m6 -3h2m-9 10h2m-3 -7h2m-3 2h2m-6 -14h2m1 10h2m3 2h2m-5 -19h2m-2 0h2m-4 21h2m-1 -19h2m-1 -2h2m-1 20h2m2 -2h2m3 -15h2m-14 14h2m11 -7h2m-16 7h2m2 2h2m0 1h2m4 3h2m-6 -2h2m4 -14h2m-4 8h2m-20 8h2m12 3h2m-4 -6h2m-2 -1h2m-3 0h2m4 -19h2m-8 20h2m-4 -1h2m-8 -6h2m13 -12h2m-3 22h2m-16 -11h2m4 6h2m3 -20h2m-4 21h2m-8 -15h2m6 -6h2m-16 26h2m11 -3h2m-3 -23h2m-4 22h2m-10 5h2m16 -15h2m-19 1h2m6 15h2m-1 -6h2m-1 -22h2m-15 27h2m18 -15h2m-12 10h2m-1 -1h2m-10 -9h2m7 -12h2m-12 27h2m11 -7h2m-8 3h2m-5 -17h2m9 19h2m-7 -25h2m1 19h2m-6 2h2m5 -5h2m-16 12h2m-1 -4h2m6 4h2m-3 -7h2m1 6h2m-14 -13h2m9 -14h2m-6 20h2m-4 -16h2m3 16h2m-5 0h2m4 -18h2m-7 -1h2m4 26h2m-15 1h2m12 -24h2m-20 22h2m18 -15h2m-18 5h2m4 7h2m7 -17h2m-4 21h2m-6 -27h2m-9 6h2m2 -4h2m0 26h2m-11 -14h2m1 -7h2m10 -3h2m-6 23h2m0 -25h2m-15 10h2m3 11h2m5 4h2m-6 -26h2m0 19h2m3 -15h2m-8 -4h2m-6 22h2m0 -21h2m-4 21h2m2 0h2m2 -4h2m-18 7h2m7 -22h2m2 24h2m-11 -12h2m4 12h2m-9 -14h2m7 14h2m-10 -16h2m8 -11h2m3 12h2m-17 14h2m5 -25h2m2 -1h2m-14 24h2m1 -1h2m1 -1h2m-3 5h2m-2 -9h2m6 -17h2m-3 -1h2m0 25h2m-15 -15h2m4 -9h2m1 26h2m3 -11h2m-19 8h2m11 -6h2m-15 7h2m5 2h2m-3 0h2m-2 -22h2m-5 9h2m7 5h2m-7 8h2m8 -22h2m-4 20h2m-9 -22h2m-4 2h2m10 7h2m-13 15h2m-6 -12h2m12 -10h2m-3 -2h2m-4 23h2m-9 -4h2m5 -21h2m-13 14h2m9 -15h2m0 17h2m-15 -3h2m1 8h2m0 -19h2m8 8h2m-14 -6h2m-4 11h2m12 -9h2m-14 16h2m-7 1h2m6 -22h2m5 14h2m-7 6h2m0 1h2m-2 3h2m-13 -2h2m1 3h2m8 -3h2m0 -18h2m-16 17h2m0 3h2m5 -26h2m-7 22h2m8 -18h2m-2 11h2m-11 -12h2m4 14h2m-11 -10h2m8 17h2m-6 -23h2m4 14h2m-1 -8h2m-17 19h2m8 -8h2m-4 -17h2m1 16h2m2 -9h2m-16 1h2m7 -9h2m-9 27h2m4 -1h2m0 0h2m-1 -24h2m-4 -2h2m2 15h2m-7 11h2m-11 -16h2m12 -5h2m-14 21h2m8 -1h2m-8 -23h2m4 0h2m-3 16h2m-12 -9h2m5 13h2m-10 4h2m0 -10h2m-2 0h2m7 -15h2m0 14h2m-3 -13h2m-12 14h2m-4 -5h2m5 7h2m2 5h2m-9 -6h2m1 -15h2m-1 -1h2m0 0h2m2 4h2m-2 1h2m-18 19h2m9 1h2m2 -22h2m-12 1h2m9 2h2m-10 20h2m2 -9h2m-5 8h2m-6 -3h2m9 -17h2m-5 11h2m-9 9h2m-1 -8h2m-6 -9h2m10 7h2m-3 1h2m-16 8h2m10 -7h2m-6 -15h2m2 -2h2m-4 25h2m-5 -3h2m8 -12h2m-7 -10h2m1 3h2m-2 0h2m-14 6h2m2 -6h2m2 14h2m-11 -5h2m12 -6h2m-8 16h2m0 -5h2m-9 8h2m6 -9h2m1 -2h2m-18 10h2m10 -24h2m-10 15h2m-2 10h2m11 -16h2m-11 -7h2m6 10h2m-3 3h2m-14 -5h2m8 -9h2m-3 -1h2m3 8h2m-4 -4h2m-1 1h2m-15 4h2m7 7h2m-2 -16h2m-10 15h2m-3 -6h2m-2 1h2m9 -7h2m0 2h2m-9 -4h2m3 1h2m-1 12h2" stroke="#ce3426" stroke-width="2" fill="none"/>
<path transform="scale(0.5)" d="M0 0m426 678h2m1 16h2m-3 -20h2m6 11h2m-4 6h2m0 2h2m-6 -7h2m1 -16h2m-1 23h2m-1 -22h2m-8 0h2m4 13h2m-4 1h2m-6 9h2m-2 0h2m-4 -20h2m4 11h2m-7 -13h2m-3 13h2m4 7h2m-10 -9h2m3 3h2m2 -15h2m-7 1h2m-5 12h2m2 -13h2m5 10h2m-12 4h2m1 6h2m-2 -20h2m-7 11h2m-2 12h2m6 -9h2m-10 -8h2m8 7h2m-5 1h2m-5 9h2m0 -9h2m-2 6h2m-8 -9h2m4 3h2m2 -1h2m-11 7h2m-1 -17h2m8 3h2m-15 3h2m5 11h2m4 -15h2m-3 -2h2m-8 20h2m-5 -3h2m7 -18h2m-13 10h2m9 -1h2m-1 -6h2m-16 17h2m0 -11h2m10 -3h2m-14 -2h2m4 17h2m-4 -3h2m6 -12h2m-13 4h2m1 8h2m5 -10h2m-1 -1h2m-5 -9h2m-6 0h2m-1 0h2m-7 5h2m-1 -2h2m5 -2h2m0 3h2m-5 18h2m-10 -15h2m0 13h2m-3 -16h2m2 -3h2m-9 21h2m7 -22h2m-7 13h2m0 1h2m4 -13h2m-3 -1h2m-7 20h2m-6 -10h2m-3 12h2m7 -9h2m-10 8h2m8 -9h2m-10 9h2m0 -8h2m-2 -11h2m1 19h2m-8 -15h2m-2 0h2m-4 16h2m10 -17h2m-3 -2h2m-12 6h2m-3 13h2m10 -13h2m-5 13h2m-1 -21h2m-1 11h2m-12 -4h2m2 5h2m0 1h2m-3 9h2m-1 -23h2m-8 21h2m3 -7h2m-5 7h2m4 -8h2m-9 -2h2m8 -6h2m-12 6h2m1 2h2m0 0h2m-1 8h2m-6 0h2m-6 0h2m10 -14h2m-8 -6h2m-7 20h2m-3 1h2m0 -16h2m6 -5h2m-10 10h2m2 -10h2m-7 8h2m9 -2h2m-2 -3h2m-10 17h2m5 -10h2m-4 2h2m-9 -7h2m-2 4h2m5 -9h2m-3 0h2m-1 0h2m-10 8h2m6 -8h2m-10 20h2m3 1h2m3 -11h2m-7 -10h2m-5 20h2m1 -8h2m-6 -2h2m3 11h2m2 -12h2m-6 11h2m-1 -20h2m-6 2h2m1 -2h2m-3 20h2m-2 1h2m-4 -10h2m1 1h2m-7 -2h2m8 -2h2m-12 -1h2m6 -6h2m-6 19h2m-6 0h2m3 -20h2m-3 20h2m4 -13h2m-11 -4h2m0 17h2m-4 -9h2m-3 -3h2m-2 -2h2m3 15h2m-7 -14h2m-2 2h2m-2 1h2m6 1h2m-1 -2h2m-3 2h2m-3 -10h2m-4 20h2m-2 -9h2m2 -9h2m-10 18h2m3 -9h2m-4 -11h2m2 1h2m-2 9h2m-5 -11h2m-3 21h2m-2 0h2m-6 -12h2m7 -6h2m-9 18h2m-2 -1h2m0 1h2m2 -11h2m-6 11h2m-5 -10h2m0 9h2m-1 -19h2m3 3h2m-2 4h2m-1 -1h2m-3 2h2m-1 -2h2m-11 3h2m6 0h2m-1 -4h2m-3 2h2m-10 13h2m6 -16h2m-4 6h2m0 -6h2m-1 0h2m-11 5h2m1 -8h2m-1 -1h2m1 9h2m-8 11h2m5 -13h2m-2 1h2m-7 2h2m-5 -2h2m-3 -2h2m2 -5h2m3 2h2m-2 2h2m-8 5h2m-2 -9h2m0 9h2m-6 -5h2m2 5h2m-6 -3h2m4 -6h2" stroke="#e05720" stroke-width="2" fill="none"/>
<path transform="scale(0.5)" d="M0 0m429 682h2m4 -8h2m-3 -1h2m-7 7h2m-1 -4h2m-3 6h2m1 1h2m3 -3h2m-8 3h2m-4 -5h2m5 -3h2m-1 3h2m-6 5h2m-6 -5h2m5 -3h2m-9 2h2m4 -3h2m-1 0h2m-9 5h2m5 2h2m-6 -7h2m-4 8h2m-3 -4h2m5 -3h2m-8 2h2m4 3h2m-4 3h2m-1 -9h2m-6 1h2m-2 0h2m-3 7h2m-2 -6h2m-2 5h2m5 -3h2m-4 4h2m-6 -7h2m0 -1h2m2 6h2m-9 2h2m1 1h2m-1 -1h2m-2 -8h2m1 5h2m-10 0h2m6 0h2m-8 -4h2m-3 6h2m3 0h2m-6 1h2m3 -1h2m-5 -7h2m1 7h2m-9 -2h2m-2 0h2m6 -1h2m-8 4h2m3 -4h2m-7 -3h2m-3 6h2m4 -1h2m-4 -6h2m0 4h2m-8 1h2m3 -4h2m-1 5h2m-7 -4h2m2 -1h2m-3 0h2m-6 4h2m4 1h2m-7 -4h2m-1 0h2m-1 -1h2m-5 5h2m3 -4h2m-3 -1h2m0 3h2m-7 -2h2m1 -1h2m-4 7h2m2 -3h2m-2 0h2m-7 2h2m3 -1h2m-5 2h2m1 -3h2m-2 -1h2m-2 0h2m-2 0h2m-7 2h2m0 1h2m0 -4h2m-2 3h2m-6 1h2m-2 -3h2m-2 1h2m2 1h2m-3 1h2m-2 -5h2m-3 0h2m0 1h2m-2 2h2m-5 -3h2m0 0h2m-3 0h2m0 3h2m-5 -3h2m1 1h2m-2 3h2m-3 -4h2m-2 5h2m-5 -2h2m-2 0h2m-2 1h2m-2 -1h2m0 -3h2m-4 4h2m-2 -2h2m2 1h2m-3 -2h2m-1 1h2m-3 -1h2m-5 2h2m2 -1h2m-5 0h2m1 1h2m-3 -2h2m-2 0h2m-4 3h2m-2 -2h2m-1 2h2m-2 -3h2m-1 2h2m-3 1h2m-3 0h2m-2 -2h2m-1 2h2m-2 0h2m-2 -1h2m-1 0h2m-3 0h2m-2 -1h2m-2 1h2" stroke="#f07e1e" stroke-width="2" fill="none"/>
<polygon points="175.9,290 202.3,290 209.3,311.6 202.6,334.4 175.9,334.4" fill="none" stroke="#2a5080" stroke-width="1.3"/>
<text x="211.80" y="297.60" font-size="7.4" textLength="16.30" lengthAdjust="spacingAndGlyphs">Tregs</text>
<line x1="422.40" y1="278.20" x2="511.80" y2="278.20" stroke="#3a3a3a" stroke-width="1.2"/>
<text x="467.10" y="273.60" font-size="6.6" text-anchor="middle" textLength="65.40" lengthAdjust="spacingAndGlyphs">CD4 T cells (non-Treg)</text>
<text x="427.40" y="323.80" font-size="8.4" text-anchor="middle" textLength="71.80" lengthAdjust="spacingAndGlyphs" transform="rotate(-90 427.40 323.80)">170Er_CD3 [Er170Di]</text>
<text x="431.40" y="373.00" font-size="8.4" textLength="81.60" lengthAdjust="spacingAndGlyphs">1Pr_GranzymeB [Pr141Di]</text>
<rect x="437.40" y="284.20" width="71.20" height="71.20" fill="none" stroke="#444" stroke-width="0.9"/>
<path d="M447.9 355.4v3.2M455.6 355.4v2M460.1 355.4v2M463.3 355.4v2M465.7 355.4v2M467.7 355.4v2M469.5 355.4v2M470.9 355.4v2M472.2 355.4v2M473.4 355.4v3.2M481.1 355.4v2M485.6 355.4v2M488.8 355.4v2M491.2 355.4v2M493.2 355.4v2M495.0 355.4v2M496.4 355.4v2M497.7 355.4v2M498.9 355.4v3.2M506.6 355.4v2M507.6 355.4v3.2M437.4 336.4h-3.2M437.4 330.8h-2M437.4 327.5h-2M437.4 325.2h-2M437.4 323.4h-2M437.4 321.9h-2M437.4 320.7h-2M437.4 319.6h-2M437.4 318.7h-2M437.4 317.8h-3.2M437.4 312.2h-2M437.4 308.9h-2M437.4 306.6h-2M437.4 304.8h-2M437.4 303.3h-2M437.4 302.1h-2M437.4 301.0h-2M437.4 300.1h-2M437.4 299.2h-3.2M437.4 293.6h-2M437.4 290.3h-2M437.4 288.0h-2M437.4 286.2h-2M437.4 284.7h-2" stroke="#222" stroke-width="0.7" fill="none"/>
<rect x="440.40" y="355.80" width="12.00" height="2.40" fill="#111"/>
<path transform="scale(0.5)" d="M0 0m917 612h2m80 21h2m-75 33h2m39 1h2m29 -24h2m-59 25h2m4 -60h2m-23 57h2m-10 -4h2m64 -4h2m-27 9h2m7 -54h2m-47 2h2m60 7h2m-58 -9h2m4 -1h2m36 4h2m-58 42h2m59 -39h2m-42 -7h2m38 47h2m-17 -45h2m10 45h2m-51 -42h2m-11 5h2m26 42h2m42 -21h2m-42 -29h2m-8 0h2m26 4h2m-57 5h2m71 18h2m-9 -15h2m-14 34h2m7 -37h2m1 2h2m1 4h2m-39 34h2m-5 -48h2m36 12h2m-58 -9h2m30 44h2m14 -5h2m2 -4h2m-47 8h2m-19 -37h2m63 26h2m-66 4h2m-2 -30h2m22 -8h2m-27 9h2m-2 0h2m48 -6h2m-19 -3h2m33 18h2m-11 -11h2m1 29h2m-55 6h2m-11 -6h2m2 3h2m47 -35h2m-46 0h2m-7 3h2m-1 32h2m12 5h2m8 -44h2m33 13h2m-53 -10h2m46 7h2m-62 26h2m61 -23h2m-23 -11h2m-41 6h2m61 12h2m-6 -7h2m-62 -4h2m-4 2h2m31 34h2m-23 -41h2m6 -2h2m31 38h2m-55 -5h2m52 -28h2m-57 5h2m1 -3h2m46 -4h2m11 10h2m-64 -4h2m53 26h2m-57 -26h2m10 31h2m48 -12h2m-47 13h2m44 -15h2m-30 -26h2m-40 12h2m56 -5h2m2 25h2m-6 3h2m-47 4h2m-15 -9h2m-1 -18h2m-2 19h2m41 10h2m-45 -29h2m50 26h2m-49 -3h2m15 -34h2m-2 40h2m32 -6h2m-57 -5h2m-3 -18h2m23 -11h2m6 -1h2m29 15h2m-43 26h2m3 -41h2m-30 28h2m62 -12h2m-57 -10h2m-12 21h2m-1 -14h2m62 8h2m-45 19h2m41 -21h2m-55 18h2m34 2h2m-3 -36h2m-44 7h2m1 25h2m48 -26h2m-5 26h2m6 -8h2m-20 -24h2m-32 35h2m39 -3h2m2 -24h2m-1 0h2m-33 30h2m-22 -35h2m-9 6h2m-4 3h2m60 -1h2m-65 3h2m62 9h2m-65 -10h2m-2 0h2m-1 -2h2m-1 16h2m-5 -5h2m-2 -2h2m51 13h2m-54 -9h2m7 -20h2m17 34h2m-23 -33h2m40 29h2m-38 -32h2m3 34h2m-10 -4h2m7 4h2m-22 -19h2m-1 2h2m17 17h2m21 0h2m-24 -36h2m-22 17h2m-2 3h2m-2 -6h2m12 20h2m28 1h2m-18 2h2m-4 -38h2m-28 21h2m-1 -6h2m53 15h2m-33 -30h2m27 31h2m-56 -14h2" stroke="#010003" stroke-width="2" fill="none"/>
<path transform="scale(0.5)" d="M0 0m921 647h2m29 10h2m-17 -37h2m-22 20h2m56 -11h2m-54 -2h2m-1 -1h2m-8 9h2m54 13h2m-58 -15h2m54 15h2m-1 -20h2m-43 27h2m38 -7h2m-58 -8h2m-3 0h2m-1 0h2m12 -18h2m40 26h2m-59 -10h2m45 -16h2m-3 0h2m-28 -1h2m29 3h2m-4 -1h2m-25 33h2m28 -28h2m-52 20h2m47 -21h2m-51 1h2m-7 8h2m50 -10h2m-44 25h2m-10 -20h2m4 -5h2m-9 16h2m4 -16h2m51 10h2m-51 16h2m46 -11h2m-49 -18h2m15 -3h2m-2 0h2m-28 10h2m54 9h2m-58 6h2m22 11h2m29 -12h2m-13 8h2m-22 4h2m-10 -1h2m38 -19h2m-8 13h2m-4 1h2m-40 2h2m-13 -9h2m44 9h2m-35 -29h2m15 -3h2m24 15h2m-3 -4h2m-13 -7h2m-26 31h2m-21 -12h2m3 6h2m-7 -16h2m40 20h2m12 -15h2m-5 -8h2m-1 3h2m-13 20h2m-21 -32h2m7 34h2m-34 -10h2m30 -24h2m-32 8h2m30 -8h2m-20 33h2m-11 -3h2m37 -25h2m-20 -5h2m16 29h2m-1 -1h2m-26 6h2m-24 -24h2m35 22h2m-24 -31h2m32 7h2m1 14h2m-44 -20h2m19 -2h2m19 22h2m-8 6h2m-50 -7h2m5 -16h2m32 -3h2m12 14h2m-32 -16h2m4 34h2m-23 -4h2m26 3h2m-37 -7h2m48 -3h2m-19 -22h2m-20 0h2m-20 17h2m-1 4h2m17 -21h2m32 16h2m-10 12h2m6 -9h2m-25 -20h2m17 26h2m-3 1h2m-1 -1h2m-51 -4h2m47 -14h2m-29 -7h2m1 -1h2m23 24h2m-19 9h2m-34 -10h2m-4 -8h2m28 18h2m-9 -32h2m-17 27h2m-6 -19h2m16 24h2m-18 -26h2m32 24h2m-16 2h2m20 -26h2m-39 23h2m-12 -9h2m0 -11h2m48 4h2m-53 9h2m1 3h2m32 -23h2m12 17h2m-25 -19h2m8 30h2m-39 -7h2m41 -18h2m0 21h2m-44 -19h2m0 -2h2m31 24h2m-29 1h2m7 -30h2m-11 2h2m-7 25h2m20 5h2m1 -31h2m10 4h2m-37 -1h2m-8 4h2m0 -2h2m14 -5h2m27 16h2m-1 -1h2m-53 -4h2m27 19h2m5 -29h2m8 23h2m-48 -7h2m4 -12h2m-2 20h2" stroke="#05010a" stroke-width="2" fill="none"/>
<path transform="scale(0.5)" d="M0 0m934 651h2m37 -12h2m-4 -7h2m0 9h2m-28 12h2m-19 -4h2m-8 -8h2m5 8h2m25 3h2m-18 1h2m-11 -3h2m36 -6h2m-4 -14h2m-8 20h2m-32 -24h2m-12 10h2m46 8h2m-6 4h2m-41 -1h2m10 -23h2m3 29h2m-23 -19h2m34 -9h2m-18 28h2m9 -1h2m-34 -13h2m-1 3h2m21 11h2m-10 -1h2m-15 -20h2m13 -8h2m15 0h2m-35 18h2m45 -7h2m-8 13h2m-34 -22h2m-1 -1h2m-13 16h2m0 -10h2m20 -8h2m20 9h2m-28 21h2m18 -26h2m-2 22h2m-40 -16h2m-4 5h2m1 7h2m0 -16h2m36 18h2m-22 6h2m-4 -1h2m-8 -28h2m-10 24h2m36 -3h2m0 -4h2m-36 -16h2m-8 3h2m28 22h2m-20 -26h2m-17 7h2m6 20h2m-3 -1h2m-12 -12h2m38 10h2m-41 -15h2m19 -9h2m13 25h2m-26 -24h2m3 27h2m3 -28h2m12 25h2m3 -3h2m-21 -22h2m5 0h2m-15 28h2m-16 -21h2m-5 9h2m9 -14h2m4 26h2m19 -25h2m-19 -3h2m-13 26h2m-11 -16h2m-2 -1h2m-3 6h2m12 -14h2m18 25h2m-7 -26h2m-14 28h2m25 -20h2m-35 -6h2m-12 15h2m27 -16h2m-28 20h2m33 3h2m1 -3h2m-8 -19h2m7 9h2m-42 11h2m-4 -2h2m35 -15h2m-6 -2h2m0 21h2m-20 4h2m-20 -18h2m15 17h2m24 -10h2m-16 10h2m-31 -8h2m19 9h2m-22 -20h2m17 20h2m-3 0h2m20 -8h2m0 -6h2m-33 -12h2m5 26h2m-18 -22h2m34 16h2m-6 -18h2m-27 -2h2m8 26h2m-19 -6h2m26 4h2m-29 -20h2m-1 -1h2m29 -1h2m-22 -3h2m25 12h2m-43 -6h2m5 -4h2m-12 9h2m42 1h2m-40 -8h2m-8 9h2m1 -6h2m4 -4h2m11 -3h2m-22 17h2m37 -10h2m-20 19h2m-21 -20h2m-5 5h2m13 -11h2m-15 7h2m6 17h2m1 1h2m-7 -2h2m2 -22h2m28 11h2m-22 14h2m1 -26h2" stroke="#080211" stroke-width="2" fill="none"/>
<path transform="scale(0.5)" d="M0 0m968 643h2m-39 -13h2m18 -5h2m8 23h2m-23 -22h2m-12 5h2m37 6h2m-2 4h2m-2 -4h2m-22 14h2m-24 -14h2m-1 4h2m37 -8h2m-7 -5h2m1 17h2m-39 -12h2m39 6h2m-19 -14h2m10 21h2m-23 5h2m-18 -13h2m39 -4h2m-31 -7h2m27 14h2m-34 -14h2m7 24h2m21 -17h2m-1 2h2m-3 5h2m-28 9h2m8 0h2m-26 -13h2m31 11h2m-36 -10h2m-1 -4h2m18 17h2m15 -6h2m-38 -12h2m11 17h2m13 -23h2m4 20h2m-33 -16h2m29 -1h2m-14 20h2m-16 -22h2m18 21h2m-13 -23h2m-18 6h2m15 -6h2m-1 0h2m0 24h2m7 -2h2m-2 -20h2m7 12h2m-2 -4h2m-26 -10h2m22 14h2m-42 0h2m-1 1h2m-2 2h2m13 -17h2m-18 14h2m6 -12h2m9 -2h2m-21 10h2m31 11h2m5 -11h2m-41 5h2m4 6h2m-1 -19h2m-8 5h2m17 -7h2m-13 22h2m22 -18h2m1 15h2m-33 -15h2m29 14h2m-39 -7h2m34 -6h2m-32 16h2m20 2h2m-29 -9h2m-2 2h2m36 -5h2m-29 12h2m-13 -8h2m-2 -2h2m0 4h2m-1 -11h2m14 18h2m4 -1h2m6 -19h2m-22 19h2m11 -22h2m-1 22h2m9 -12h2m-32 -9h2m5 22h2m-16 -16h2m7 -6h2m1 21h2m-11 -18h2m-4 12h2m33 -10h2m-37 -1h2m0 -1h2m8 -4h2m-15 7h2m17 16h2m12 -19h2m-22 18h2m12 -1h2m7 -14h2m-12 -7h2m8 15h2m-1 -5h2m-37 7h2m18 5h2m-16 -21h2m-7 4h2m5 -4h2m25 11h2m-40 0h2m11 -12h2m-5 21h2m25 -7h2m-13 -14h2m-21 20h2m-5 -15h2m10 -5h2m12 2h2m5 11h2m-2 -3h2m-10 -8h2m-30 9h2m23 -10h2m-14 -1h2m4 0h2m-21 10h2m33 5h2m-3 -10h2m0 3h2m-5 -3h2m0 1h2m-18 16h2" stroke="#0b0319" stroke-width="2" fill="none"/>
<path transform="scale(0.5)" d="M0 0m958 647h2m5 -6h2m-13 8h2m10 -12h2m-37 -3h2m4 13h2m25 -4h2m-32 2h2m24 -15h2m-21 18h2m12 -20h2m-27 12h2m4 -10h2m20 -1h2m5 7h2m-2 6h2m-12 6h2m6 -5h2m-31 -12h2m-3 1h2m12 -5h2m-11 20h2m4 2h2m-14 -7h2m-2 -9h2m-3 3h2m30 -3h2m-24 -5h2m22 8h2m-2 5h2m-8 5h2m-26 -15h2m-3 1h2m22 15h2m-13 -20h2m14 17h2m-31 0h2m-2 0h2m-5 -9h2m6 -6h2m-4 17h2m24 -2h2m-9 -16h2m-19 19h2m0 1h2m13 -19h2m-7 19h2m-22 -11h2m30 7h2m0 -7h2m-2 4h2m-31 -11h2m-2 15h2m17 -17h2m6 15h2m-21 -15h2m3 21h2m10 -4h2m-16 -18h2m10 19h2m-30 -6h2m14 -12h2m-18 9h2m-2 3h2m5 6h2m2 2h2m-7 -18h2m21 1h2m-26 14h2m25 -2h2m-9 4h2m2 -16h2m-24 -1h2m-1 -1h2m5 19h2m14 -16h2m-19 16h2m17 -6h2m-20 -14h2m-14 5h2m11 15h2m-17 -12h2m12 12h2m-9 -18h2m0 -1h2m4 19h2m-17 -10h2m24 8h2m-16 2h2m-14 -7h2m4 -11h2m-5 14h2m22 -14h2m-22 0h2m23 6h2m-14 12h2m3 -18h2m-7 18h2m6 -17h2m-9 -3h2m0 1h2m-8 19h2m-16 -16h2m2 -2h2m-9 8h2m15 10h2m-3 -20h2m13 13h2m-2 -7h2m-31 0h2m-1 -2h2m27 8h2m-16 -12h2m-18 5h2m-3 8h2m-3 -5h2m3 -5h2m-6 5h2m13 12h2m-7 -1h2m4 1h2m-13 -2h2m-6 -3h2m26 0h2m-31 -1h2m25 -10h2m0 10h2m-30 0h2m21 4h2m-22 -15h2m-2 14h2m1 -15h2m1 -1h2m-6 1h2m-5 1h2m-1 0h2m21 1h2m-13 16h2m10 -5h2m0 -6h2m-26 9h2m9 -17h2m-16 3h2m-4 2h2m12 14h2m-11 -18h2m20 13h2m-2 0h2m-30 -3h2m27 -6h2m-4 10h2m-10 -15h2m-20 5h2m23 10h2m-24 1h2m8 2h2m-16 -9h2m22 8h2m3 -5h2m-2 1h2m-31 -4h2m17 -9h2m-20 13h2m-3 -2h2m25 4h2m-13 -15h2m-11 1h2" stroke="#0f0520" stroke-width="2" fill="none"/>
<path transform="scale(0.5)" d="M0 0m933 638h2m10 -9h2m-11 3h2m8 15h2m-14 -12h2m1 -3h2m19 13h2m-23 -1h2m8 -15h2m-3 18h2m-9 -16h2m5 -2h2m-15 7h2m24 -4h2m-23 -1h2m13 16h2m-19 -15h2m-3 10h2m7 5h2m1 -18h2m13 7h2m-11 -6h2m-2 0h2m-11 17h2m-6 -1h2m3 1h2m15 -12h2m-2 4h2m-16 8h2m-15 -12h2m25 4h2m-10 -9h2m-9 -1h2m7 2h2m-15 15h2m-1 0h2m7 0h2m5 -13h2m-28 7h2m-2 -4h2m21 9h2m-17 1h2m11 -16h2m-13 0h2m15 10h2m-22 6h2m-7 -12h2m17 11h2m-7 -16h2m-16 14h2m-4 -7h2m16 -6h2m-19 11h2m0 2h2m15 -13h2m-12 16h2m11 -14h2m-15 -2h2m-9 13h2m2 2h2m-2 -14h2m13 0h2m4 6h2m-14 9h2m4 -1h2m-5 1h2m-7 0h2m-1 0h2m-2 0h2m10 -7h2m-23 6h2m13 -14h2m-15 14h2m14 -12h2m-23 9h2m21 0h2m-27 -4h2m-2 3h2m2 3h2m-4 -1h2m15 -12h2m-21 7h2m-2 -1h2m24 2h2m-27 -5h2m23 4h2m-2 1h2m-2 -2h2m-2 -1h2m-7 -5h2m3 9h2m-27 2h2m14 4h2m7 -10h2m-10 9h2m-17 -12h2m16 -1h2m3 5h2m-12 9h2m-1 -16h2m-18 10h2m6 -10h2m13 12h2m-26 -4h2m2 -6h2m18 10h2m-2 0h2m-12 4h2m-3 0h2m-8 -1h2m4 -15h2m-14 5h2m12 11h2m-11 -1h2m4 1h2m7 -14h2m-12 14h2m-11 -4h2m10 4h2m9 -7h2m-12 7h2m-16 -10h2m15 -5h2m-11 0h2m-6 1h2m-3 11h2m7 -13h2m9 5h2m-18 10h2m-9 -6h2m-2 -3h2m19 7h2m-4 1h2m-9 2h2m10 -11h2m-26 4h2m6 6h2m10 -13h2m2 8h2m-24 3h2m9 3h2m9 -10h2m-3 5h2m-7 3h2m1 -11h2m-3 11h2m-13 -13h2" stroke="#16072c" stroke-width="2" fill="none"/>
<path transform="scale(0.5)" d="M0 0m936 640h2m5 5h2m-6 -2h2m4 -12h2m-11 8h2m2 4h2m10 2h2m6 -6h2m-3 -3h2m-23 -2h2m12 -3h2m-13 1h2m-7 7h2m8 6h2m-10 -3h2m15 -10h2m2 3h2m-14 10h2m-10 -3h2m10 3h2m2 -13h2m-17 1h2m15 0h2m-14 12h2m-9 -11h2m19 6h2m-2 -3h2m-2 0h2m-6 -5h2m0 2h2m-20 8h2m-4 -4h2m16 -6h2m-3 0h2m-18 2h2m9 11h2m7 -10h2m-18 9h2m13 -2h2m-13 -11h2m10 4h2m-14 10h2m-11 -8h2m3 7h2m13 -10h2m-17 -2h2m4 -1h2m-10 12h2m11 1h2m3 -9h2m-23 3h2m9 -7h2m-12 4h2m-2 1h2m15 7h2m-14 -11h2m10 1h2m1 8h2m-22 0h2m19 -4h2m-4 -3h2m-1 6h2m-3 -6h2m-18 9h2m16 -6h2m-8 7h2m-4 0h2m-2 0h2m3 -1h2m-21 -5h2m18 -3h2m-18 -2h2m-4 2h2m-2 -1h2m16 1h2m-20 6h2m13 -8h2m-12 -1h2m11 9h2m-14 -9h2m-9 8h2m16 -6h2m-17 -1h2m-5 7h2m0 -6h2m8 10h2m-12 -3h2m15 0h2m-6 3h2m-16 -4h2m-1 -6h2m16 2h2m-18 7h2m14 -7h2m-18 7h2m-6 -6h2m2 6h2m-6 -5h2m10 -6h2m-13 4h2m-1 6h2m11 -9h2m0 9h2m-6 2h2m-10 -1h2m1 1h2m8 -3h2m-11 3h2m-11 -5h2m17 2h2m-16 -8h2m-2 10h2m0 1h2m11 -7h2m-3 0h2m-2 -1h2m-3 6h2m-11 -10h2m4 1h2m-9 -1h2m-6 11h2m8 0h2m-10 0h2m5 0h2m2 -8h2m-2 7h2m-6 -9h2m-1 10h2m-8 -11h2m4 1h2m2 2h2m-2 0h2m-11 9h2m0 -12h2m-5 1h2m4 10h2m-13 -9h2m6 -2h2m6 4h2m-15 -3h2m10 8h2m-19 -3h2m-2 -1h2m0 4h2m0 -8h2m7 10h2m2 -2h2m-16 -7h2m11 1h2m-18 2h2m13 -3h2m-10 9h2m4 -10h2m2 3h2" stroke="#280d48" stroke-width="2" fill="none"/>
<path transform="scale(0.5)" d="M0 0m940 640h2m15 -2h2m-20 1h2m5 4h2m-4 -10h2m10 3h2m-2 0h2m-18 1h2m6 -4h2m4 8h2m-7 2h2m4 -2h2m-17 -3h2m-2 -1h2m9 6h2m-8 -10h2m6 9h2m-12 0h2m11 -4h2m-4 -3h2m-16 5h2m13 1h2m-17 -1h2m-2 -4h2m6 -3h2m-10 3h2m-2 2h2m2 4h2m-2 0h2m-2 -8h2m8 7h2m-2 -7h2m-1 6h2m-1 -3h2m-3 -1h2m-7 7h2m-8 -9h2m-6 4h2m0 -3h2m1 7h2m5 -8h2m2 5h2m-8 4h2m-9 -2h2m9 0h2m-7 2h2m-4 -10h2m-7 8h2m-2 -1h2m9 -6h2m-2 7h2m-5 -7h2m0 0h2m-11 1h2m-3 0h2m0 -1h2m-5 4h2m4 4h2m5 -6h2m-14 0h2m4 -2h2m1 0h2m2 2h2m-14 5h2m9 -5h2m-15 1h2m9 5h2m1 -4h2m-7 -4h2m1 1h2m-11 0h2m-4 1h2m11 3h2m-9 -5h2m-5 8h2m0 -8h2m-1 0h2m-6 7h2m7 -6h2m-8 7h2m5 -6h2m-4 -1h2m-12 4h2m2 3h2m2 0h2m-1 -1h2m-7 1h2m1 0h2m0 -7h2m-11 2h2m9 -1h2m-13 1h2m10 1h2m-7 -4h2m2 2h2m-6 6h2m-9 -4h2m10 1h2m-14 0h2m5 -5h2m-7 1h2m4 0h2m-3 7h2m2 -3h2m-7 3h2m4 -3h2m-6 2h2m-9 -1h2m4 -5h2m-8 4h2m-3 -1h2m4 3h2m2 -5h2m-3 5h2m0 -2h2m-8 2h2m4 -3h2m-11 2h2m-3 -3h2m8 2h2m-12 -2h2m-2 0h2m7 3h2m-2 0h2m-3 1h2m-10 -3h2m6 2h2m-6 -5h2m-6 4h2m3 2h2m-4 0h2m-4 -5h2m-1 0h2m1 -1h2m1 5h2m-9 -1h2m-3 -1h2m-1 0h2m4 2h2m-8 -1h2m6 0h2m-10 -1h2" stroke="#3a1263" stroke-width="2" fill="none"/>
<path transform="scale(0.5)" d="M0 0m947 635h2m-5 4h2m2 -4h2m-3 1h2m-4 4h2m1 -4h2m-1 4h2m-4 -4h2m0 0h2m-6 4h2m5 -1h2m-9 -2h2m4 0h2m-8 2h2m2 -3h2m-1 4h2m-7 -1h2m-2 -1h2m-1 -2h2m-2 0h2m3 3h2m-7 -2h2m3 0h2m-3 -1h2m-3 4h2m-5 -3h2m3 2h2m-7 -2h2m-1 3h2m-3 -1h2m-3 -1h2m-1 -1h2m-1 2h2m1 -2h2m-1 1h2m-5 2h2m0 -2h2m-2 0h2m-2 1h2m-4 0h2m-3 0h2m-1 0h2m0 -1h2m-5 1h2m0 -1h2m-3 -1h2" stroke="#60175b" stroke-width="2" fill="none"/>
<path transform="scale(0.5)" d="M0 0m927 655h2m-4 -43h2m-14 -17h2m-20 -2h2m29 28h2m-2 3h2m-10 -20h2m-11 69h2m-11 -79h2m18 12h2m4 27h2m-3 10h2m-15 -43h2m9 18h2m-28 53h2m22 -59h2m-18 -14h2m9 8h2m-15 -8h2m15 55h2m-4 -43h2m2 12h2m-9 40h2m5 -38h2m-1 7h2m-5 20h2m-27 -50h2m19 8h2m-8 -6h2m5 7h2m0 6h2m-15 -14h2m-14 63h2m18 -5h2m-10 6h2m5 -5h2m4 -11h2m-10 12h2m-21 0h2m24 -47h2m-4 40h2m-25 8h2m12 2h2m11 -21h2m-5 -29h2m-10 -10h2m9 40h2m-17 20h2m-6 0h2m-9 -60h2m0 -1h2m15 55h2m-6 4h2m7 -12h2m0 -9h2m-1 -8h2m-20 31h2m-9 -1h2m-5 -2h2m26 -26h2m-2 -1h2m-11 24h2m-3 1h2m2 -4h2m-10 -51h2m3 4h2m0 3h2m-15 -8h2m17 27h2m-12 30h2m-17 1h2m23 -25h2m-15 -31h2m-16 54h2m22 -9h2m-10 -44h2m-18 53h2m24 -16h2m-23 -39h2m-6 2h2m21 42h2m-6 -38h2m0 3h2m2 30h2m-6 10h2m-21 7h2m14 -4h2m2 -6h2m-11 10h2m10 -31h2m-9 -19h2m-1 45h2m-16 6h2m-7 -2h2m-3 -51h2m24 25h2m-20 -28h2m9 6h2m0 41h2m0 -3h2m-25 -40h2m23 15h2m-23 36h2m18 -41h2m-3 0h2m-3 32h2m-6 5h2m6 -18h2m-7 14h2m-22 6h2m4 -52h2m7 52h2m-2 -50h2m2 4h2m-2 1h2m-3 41h2m0 -39h2m2 12h2m-2 2h2m-1 4h2m-23 27h2m18 -18h2m-8 12h2m-7 -47h2m8 15h2m-25 -13h2m6 51h2m4 -52h2m-1 49h2m2 -4h2m-2 -1h2m-13 -46h2m14 34h2m-14 19h2m-11 -51h2m7 0h2m3 47h2m-7 4h2m1 -2h2m-3 -49h2m7 34h2m-12 -34h2m-16 2h2m-1 0h2m4 49h2m-6 -1h2m-4 -48h2m13 47h2m1 -44h2m-1 38h2m-4 3h2m-6 4h2m-10 -50h2m14 11h2m-1 25h2m0 -10h2m-28 -22h2m17 0h2m-21 0h2m22 9h2m-3 -1h2m-22 37h2m-5 -45h2m13 -3h2m0 2h2m-17 44h2m15 -42h2m-21 -1h2m-2 0h2m15 44h2m4 -10h2m-7 8h2m-13 4h2m6 -48h2m7 13h2m-18 35h2m4 -1h2m1 -2h2m5 -33h2" stroke="#010003" stroke-width="2" fill="none"/>
<path transform="scale(0.5)" d="M0 0m900 659h2m9 -5h2m-20 -40h2m1 43h2m9 -46h2m8 28h2m-21 -29h2m-2 0h2m2 -1h2m9 40h2m-17 -39h2m10 44h2m-14 4h2m16 -33h2m-6 -9h2m1 28h2m-19 -34h2m17 22h2m-26 -18h2m22 23h2m-11 19h2m6 -29h2m-1 7h2m-4 11h2m-25 -30h2m22 26h2m-9 -28h2m-18 1h2m-3 39h2m0 1h2m20 -21h2m-6 -17h2m-6 40h2m-17 -3h2m20 -27h2m-5 25h2m0 -4h2m-2 -25h2m0 9h2m-11 -19h2m-14 43h2m8 2h2m-10 -1h2m-6 -41h2m15 0h2m-3 40h2m-11 -44h2m-3 46h2m-6 -44h2m-4 2h2m0 40h2m7 2h2m2 -44h2m-4 -1h2m-6 45h2m-2 0h2m9 -10h2m-13 10h2m4 -2h2m-12 -44h2m-1 46h2m3 0h2m-8 -45h2m-5 42h2m1 -43h2m-8 41h2m22 -14h2m-25 14h2m16 -35h2m-12 40h2m-8 -3h2m1 2h2m9 -2h2m-12 -42h2m12 36h2m-23 3h2m-1 2h2m-2 0h2m15 -1h2m-2 -36h2m-18 37h2m19 -14h2m-8 -24h2m3 30h2m-21 9h2m15 -5h2m-20 4h2m-4 -36h2m18 32h2m-21 -33h2m-1 37h2m12 -39h2m-1 1h2m5 19h2m-9 19h2m-3 1h2m-13 1h2m16 -22h2m-24 -16h2m18 29h2m0 -14h2m-2 4h2m-9 18h2m-18 -36h2m-1 33h2m-3 -1h2m3 -37h2m4 -1h2m-10 2h2m8 -1h2m8 17h2m-24 -13h2m19 9h2m-1 5h2m-22 -16h2m-1 -1h2m-6 36h2m7 -38h2m-3 0h2m13 24h2m-20 -23h2m-6 4h2m2 -4h2m12 6h2m2 10h2m-24 -11h2m6 -6h2m-10 6h2m18 26h2m-15 11h2m-8 -3h2m1 -38h2" stroke="#05010a" stroke-width="2" fill="none"/>
<path transform="scale(0.5)" d="M0 0m912 620h2m0 7h2m-2 15h2m-4 5h2m-11 8h2m-10 -39h2m-3 36h2m12 1h2m-12 -39h2m14 15h2m-23 -11h2m20 19h2m-2 -7h2m-4 -6h2m-13 -11h2m-11 5h2m19 22h2m-1 -3h2m-23 -20h2m-4 2h2m15 -3h2m-19 3h2m3 35h2m15 -28h2m-23 24h2m15 0h2m-9 5h2m-5 -42h2m10 9h2m-1 1h2m-3 -2h2m-5 30h2m4 -15h2m-24 14h2m9 5h2m8 -27h2m-20 -13h2m-1 39h2m10 -37h2m-18 32h2m-1 2h2m11 -36h2m3 6h2m-4 -2h2m-20 1h2m14 32h2m3 -8h2m-9 10h2m-7 1h2m-10 -37h2m0 34h2m10 0h2m-16 -33h2m10 35h2m-5 -41h2m-3 0h2m-9 37h2m3 -36h2m6 2h2m-10 -2h2m-1 0h2m10 9h2m-2 -1h2m-15 32h2m-8 -5h2m0 2h2m8 -37h2m-13 4h2m18 17h2m-9 -19h2m-3 -1h2m-16 33h2m20 -11h2m-2 -9h2m-23 21h2m7 -35h2m8 31h2m-6 -28h2m-4 36h2m-11 0h2m-5 -3h2m10 -35h2m6 14h2m-24 19h2m-2 -27h2m18 3h2m-14 30h2m12 -23h2m-7 19h2m-18 -30h2m15 30h2m-20 -2h2m-1 -28h2m16 27h2m-1 -1h2m-21 3h2m0 -32h2m12 34h2m-9 3h2m9 -26h2m-8 24h2m-16 -32h2m-3 1h2m0 28h2m14 -29h2m-17 -3h2m-2 34h2m-4 -31h2m11 -5h2m5 13h2m-17 25h2m-7 -33h2m-2 0h2m17 25h2m-20 -26h2m-3 1h2m17 24h2m-21 -23h2m-2 0h2m-2 28h2m6 5h2m-7 -2h2m4 2h2m5 -35h2m-12 34h2m13 -20h2m-23 15h2m-1 -30h2m17 8h2m-1 8h2m-11 19h2m7 -22h2m-5 -8h2m0 18h2m-16 -26h2m12 12h2m-3 -3h2m-1 14h2m-2 1h2m-16 -24h2m8 34h2m-17 0h2m5 4h2m-9 -34h2m-4 27h2m5 7h2" stroke="#080211" stroke-width="2" fill="none"/>
<path transform="scale(0.5)" d="M0 0m893 620h2m9 -5h2m-1 37h2m0 -1h2m5 -18h2m-19 -17h2m1 -1h2m-7 35h2m10 -33h2m1 3h2m0 23h2m-1 -16h2m-6 -8h2m-10 -4h2m8 7h2m0 14h2m-17 16h2m-7 -5h2m-3 -1h2m14 4h2m3 -13h2m-12 -22h2m-8 2h2m1 -2h2m7 34h2m-6 -33h2m-1 0h2m-15 5h2m16 24h2m0 -6h2m-2 2h2m-3 -15h2m-16 26h2m13 -23h2m-6 19h2m-7 4h2m7 -20h2m-18 19h2m14 -14h2m-8 14h2m-16 -5h2m9 -30h2m7 23h2m-13 -24h2m-8 35h2m9 -33h2m-13 33h2m-6 -5h2m15 -25h2m-9 -5h2m-6 37h2m10 -31h2m-8 -5h2m7 21h2m-21 10h2m7 -31h2m8 15h2m-9 -14h2m4 23h2m-21 7h2m10 -31h2m-11 2h2m15 20h2m-5 8h2m-19 -1h2m12 5h2m-16 -27h2m-2 23h2m-3 -1h2m-1 1h2m4 -30h2m11 9h2m-15 27h2m9 -30h2m-20 22h2m-1 1h2m17 -5h2m-21 6h2m13 3h2m-15 0h2m12 -1h2m2 -12h2m-4 -13h2m-20 -1h2m16 1h2m-20 23h2m14 2h2m-18 -3h2m18 -9h2m-23 -12h2m-2 1h2m-1 -3h2m17 7h2m-8 -12h2m-2 1h2m-8 -2h2m0 36h2m8 -14h2m-22 6h2m12 6h2m-4 1h2m-7 0h2m4 0h2m-4 -35h2m-1 1h2m-12 29h2m-4 -22h2m1 24h2m14 -4h2m-21 -20h2m-1 20h2m17 -17h2m-2 3h2m-22 -5h2m15 -4h2m-16 -1h2m-3 1h2m1 -3h2m5 33h2m6 -12h2" stroke="#0b0319" stroke-width="2" fill="none"/>
<path transform="scale(0.5)" d="M0 0m894 622h2m9 29h2m-2 -33h2m-6 34h2m-9 -5h2m12 -27h2m-18 23h2m-1 1h2m7 8h2m-2 -36h2m-9 32h2m15 -15h2m-9 18h2m-6 -34h2m8 25h2m-18 -21h2m-2 26h2m8 -30h2m-5 0h2m-2 0h2m-11 6h2m16 20h2m-17 5h2m-4 -26h2m-2 24h2m8 -29h2m6 14h2m-21 14h2m5 -28h2m-7 31h2m-5 -22h2m12 -7h2m-15 4h2m-2 1h2m11 -6h2m4 14h2m-5 -11h2m-3 27h2m-1 -26h2m1 10h2m-12 -15h2m-12 9h2m18 9h2m-22 -10h2m18 15h2m-21 -16h2m1 25h2m14 -11h2m-19 9h2m15 -12h2m-13 -18h2m-5 33h2m12 -21h2m-20 16h2m5 -28h2m4 2h2m-11 31h2m-6 -28h2m-2 1h2m-4 19h2m17 -17h2m-21 17h2m18 -12h2m-19 -9h2m-3 1h2m-4 19h2m15 -19h2m-5 27h2m-16 -22h2m17 -1h2m-18 21h2m14 -20h2m-18 -7h2m7 -3h2m-11 30h2m2 -29h2m-8 25h2m-1 2h2m12 -24h2m-12 -3h2m5 32h2m5 -11h2m-15 -21h2m-9 23h2m12 8h2m1 -3h2m-15 2h2m-6 -21h2m7 -10h2m4 31h2m-16 -24h2m-2 19h2m3 -25h2m-3 1h2m13 12h2m-21 12h2m6 -26h2m7 26h2m-7 -25h2m-12 29h2m15 -15h2m-19 15h2m-3 -24h2m3 -5h2m-7 5h2m0 -3h2m-5 5h2m-1 -2h2m4 27h2m-7 -3h2m-5 -19h2m17 12h2m-10 -22h2m-8 31h2m-5 -3h2m13 -23h2m1 8h2m-6 -10h2m1 5h2m-9 24h2m-14 -9h2m-2 -13h2m-1 -3h2m5 -7h2m-8 26h2m9 -25h2m-11 28h2m-3 -25h2m-5 6h2m12 -9h2m-15 6h2m-1 19h2m-2 0h2m9 5h2m-15 -20h2m16 15h2m-2 -18h2m-2 16h2m-8 8h2m2 -28h2m-16 2h2m-1 23h2m7 -29h2m-5 0h2m6 5h2m-15 -3h2m14 14h2m-5 -11h2m-17 21h2m-3 -18h2m0 -5h2m-1 0h2m-6 19h2m-1 1h2m-2 1h2" stroke="#0f0520" stroke-width="2" fill="none"/>
<path transform="scale(0.5)" d="M0 0m892 629h2m1 16h2m1 -26h2m-4 1h2m1 30h2m10 -12h2m-8 -19h2m-14 24h2m8 -25h2m-11 5h2m-3 18h2m17 -9h2m-4 -5h2m-1 13h2m-6 8h2m-9 2h2m-4 -31h2m-4 2h2m12 4h2m-3 -2h2m-13 26h2m5 0h2m-14 -23h2m1 21h2m-5 -7h2m1 7h2m-6 -18h2m14 -7h2m-9 -4h2m-10 23h2m2 -21h2m10 4h2m-14 -4h2m-7 10h2m17 7h2m-15 12h2m10 -23h2m-19 1h2m8 23h2m0 -31h2m-9 30h2m-6 -5h2m-3 -3h2m-2 -16h2m10 -6h2m-11 2h2m-5 7h2m-1 16h2m14 -2h2m-1 -4h2m-8 11h2m-14 -7h2m-2 -15h2m-2 -1h2m15 16h2m-7 -23h2m-11 27h2m-6 -15h2m5 18h2m10 -18h2m-20 9h2m10 -21h2m-1 29h2m-16 -18h2m1 -7h2m-2 0h2m10 -2h2m-15 23h2m-2 -1h2m-4 -11h2m-2 5h2m7 -18h2m-3 30h2m-10 -17h2m-2 -1h2m-1 11h2m15 -15h2m-20 11h2m17 0h2m-20 2h2m12 7h2m-17 -11h2m-2 -5h2m11 18h2m-15 -15h2m17 0h2m-21 2h2m7 13h2m-11 -11h2m0 4h2m-3 -1h2m-2 -12h2m1 18h2m4 -28h2m-8 3h2m-5 7h2m8 20h2m-5 -30h2m-7 25h2m-4 -15h2m-3 6h2m-2 -3h2m1 -10h2m-5 12h2m16 6h2m-16 -19h2m-5 8h2m16 2h2m-4 13h2m-1 -15h2m-2 10h2m-18 -15h2m14 16h2m-5 -19h2m-14 2h2m4 -4h2m0 30h2m-12 -9h2m1 -18h2m-5 7h2m-3 6h2m4 13h2m-2 -28h2m-7 20h2m-3 -8h2m4 16h2m-8 -12h2m-1 4h2m12 -18h2m-16 17h2m14 4h2m-18 -4h2m16 -3h2m-19 7h2m1 -22h2m-2 26h2m8 -26h2m-14 23h2m5 -25h2m-10 24h2m-2 -1h2m-4 -10h2m-1 -3h2m-2 9h2m-3 -2h2m2 -13h2m-5 16h2m15 1h2m-2 1h2m-20 -6h2m-1 -7h2m3 -8h2m5 28h2m-12 -3h2m-4 -6h2m9 9h2m-12 -7h2m9 7h2m-14 -8h2m14 3h2m-3 -19h2m-14 22h2m0 1h2" stroke="#16072c" stroke-width="2" fill="none"/>
<path transform="scale(0.5)" d="M0 0m893 628h2m15 2h2m-4 -7h2m-6 -3h2m1 2h2m-8 27h2m6 -7h2m-17 0h2m-2 -15h2m6 -8h2m3 3h2m-17 11h2m1 10h2m14 -7h2m-17 9h2m-4 -19h2m4 -6h2m7 6h2m-18 2h2m-2 10h2m16 -5h2m-20 2h2m4 13h2m5 -1h2m-15 -11h2m13 -13h2m-17 7h2m-2 2h2m-2 7h2m14 4h2m-18 -3h2m16 -4h2m-20 -4h2m11 15h2m2 -17h2m-19 3h2m-1 -6h2m7 -7h2m5 9h2m-19 7h2m16 -1h2m-17 -12h2m-5 12h2m-1 -8h2m13 0h2m-12 21h2m-8 -13h2m9 13h2m-8 -27h2m-6 21h2m4 6h2m-4 -1h2m-7 -9h2m1 -16h2m7 -2h2m-9 1h2m-7 15h2m-1 4h2m8 8h2m1 -26h2m-2 23h2m1 -11h2m-17 10h2m13 -16h2m-18 13h2m-2 -1h2m-2 1h2m-3 -8h2m15 4h2m-6 -15h2m-4 26h2m-9 -26h2m-2 25h2m11 -12h2m-19 -3h2m14 -5h2m-9 21h2m-11 -16h2m-2 6h2m-2 -7h2m11 -9h2m-15 11h2m-2 -3h2m14 -3h2m-9 21h2m-10 -6h2m-3 -8h2m8 14h2m1 -1h2m-15 -17h2m-2 2h2m0 12h2m13 -13h2m-16 -8h2m-5 14h2m-2 -5h2m-2 0h2m-1 -4h2m11 18h2m1 -14h2m-16 -8h2m6 -3h2m2 3h2m-10 -4h2m-7 23h2m0 -21h2m1 26h2m3 -27h2m3 14h2m-17 -10h2m12 15h2m-4 -17h2m-16 15h2m0 5h2m11 -17h2m-16 2h2m5 20h2m3 -2h2m-13 -4h2m-3 -3h2m12 4h2m-2 -1h2m-16 -3h2m14 -2h2m-3 5h2m-18 -7h2m8 -15h2m-12 10h2m5 17h2m-9 -17h2m-2 0h2m12 -7h2m-11 -1h2m-7 16h2m15 -1h2m-2 -5h2m-3 -6h2m-1 5h2m-2 4h2m-18 -8h2m8 20h2m-6 1h2m-8 -8h2m7 7h2m-11 -17h2m-3 1h2m8 17h2m2 -25h2m-8 25h2m-8 -6h2m11 -16h2m-4 -4h2m1 6h2m-8 19h2m-4 -27h2m-9 9h2m8 18h2m-2 -26h2m3 6h2m-5 18h2m2 -8h2m-19 -2h2m3 11h2m-4 -2h2" stroke="#280d48" stroke-width="2" fill="none"/>
<path transform="scale(0.5)" d="M0 0m904 647h2m-5 -27h2m0 27h2m2 -2h2m-6 -24h2m-2 0h2m-4 0h2m0 26h2m-8 -2h2m10 -17h2m-10 19h2m2 -26h2m-4 0h2m-11 17h2m14 -2h2m-2 2h2m-8 9h2m-13 -11h2m6 -15h2m-10 11h2m-1 6h2m6 -17h2m4 21h2m-5 4h2m-2 -24h2m-10 24h2m1 -25h2m-6 23h2m-3 -17h2m-3 10h2m14 -3h2m-7 12h2m-6 1h2m-5 -1h2m2 1h2m-1 -26h2m2 23h2m-12 -21h2m9 3h2m-17 10h2m9 11h2m-12 -18h2m9 -7h2m-3 25h2m-7 0h2m9 -10h2m-18 -7h2m11 14h2m-14 -17h2m-3 4h2m-1 -5h2m11 15h2m-3 -17h2m-1 18h2m-16 -6h2m3 10h2m-7 -18h2m13 13h2m-6 -19h2m-7 -1h2m2 26h2m-2 -25h2m-7 0h2m-5 21h2m11 -3h2m-5 5h2m-12 -21h2m-4 10h2m-2 -3h2m1 -8h2m-4 5h2m7 19h2m-11 -20h2m-3 11h2m0 6h2m-4 -5h2m-1 2h2m12 -3h2m-6 8h2m-13 -9h2m12 5h2m-16 -6h2m0 7h2m-4 -3h2m13 -8h2m-15 -7h2m-2 19h2m5 -23h2m-4 0h2m-8 21h2m4 5h2m-9 -13h2m-2 -3h2m-2 4h2m13 -7h2m-14 17h2m-2 0h2m7 0h2m-9 1h2m-4 -2h2m-4 -4h2m9 -16h2m-11 21h2m-5 -11h2m9 -12h2m-8 0h2m-1 0h2m7 15h2m-17 -2h2m-2 -2h2m9 -10h2m-3 23h2m-10 -4h2m8 -18h2m-2 -1h2m-5 23h2m4 -9h2m-8 -16h2m4 12h2m-4 11h2m-11 1h2m-3 -21h2m1 22h2m3 -24h2m-5 -1h2m-10 11h2m3 -10h2m-4 22h2m-5 -15h2m5 18h2m-8 -19h2m-2 12h2m7 6h2m3 -16h2m-3 -4h2m-15 16h2m-3 -7h2m0 8h2m0 2h2m-2 -22h2m9 6h2m-3 12h2m-1 -4h2m-5 -13h2m-1 19h2m-12 -19h2m9 4h2m-15 11h2m11 -11h2m-15 11h2m12 -8h2" stroke="#3a1263" stroke-width="2" fill="none"/>
<path transform="scale(0.5)" d="M0 0m897 644h2m-2 0h2m10 -11h2m-4 -8h2m-14 2h2m6 -5h2m-11 8h2m-2 5h2m5 11h2m4 -3h2m-2 -17h2m-9 20h2m-7 -5h2m10 2h2m-11 -20h2m8 17h2m-16 -11h2m13 8h2m-6 -14h2m-10 21h2m9 -16h2m-12 17h2m7 -20h2m0 10h2m-8 -13h2m-11 14h2m0 -11h2m-1 -1h2m0 -1h2m7 17h2m-15 1h2m-2 -1h2m-2 -10h2m12 -1h2m-15 14h2m0 -20h2m-2 22h2m-2 0h2m3 -23h2m1 21h2m1 -9h2m-2 4h2m-8 8h2m4 -16h2m-17 4h2m9 10h2m0 -2h2m0 -10h2m-15 -5h2m11 9h2m-9 -14h2m0 1h2m-8 22h2m3 -23h2m2 3h2m-15 13h2m3 -15h2m3 22h2m-3 1h2m2 -4h2m0 -6h2m-2 -6h2m-11 16h2m7 -8h2m-17 -4h2m1 -9h2m8 2h2m-1 12h2m-2 -10h2m-3 12h2m-2 1h2m-3 -18h2m-8 22h2m2 -23h2m-12 10h2m2 12h2m-2 -1h2m7 -19h2m-11 -2h2m-4 19h2m1 3h2m8 -8h2m-11 8h2m0 1h2m-1 0h2m-5 -23h2m5 3h2m-15 11h2m0 5h2m6 -19h2m3 13h2m-9 10h2m4 -17h2m-3 -3h2m-13 16h2m-4 -7h2m13 -5h2m-12 -7h2m3 0h2m-10 18h2m3 5h2m-2 -24h2m6 13h2m-12 -12h2m-3 21h2m8 -6h2m-7 -15h2m3 6h2m-15 2h2m5 -9h2m-1 24h2m-3 0h2m2 -21h2m-6 21h2m-3 0h2m-3 -23h2m-7 14h2m-1 4h2m2 -18h2m-8 11h2m1 -8h2m2 19h2m-6 -2h2m9 -12h2m-7 -8h2m3 7h2m-12 -5h2m1 20h2m1 -22h2m-10 5h2m7 -4h2m-12 5h2m-1 13h2m-1 -17h2m9 14h2m-9 -16h2m-7 4h2m10 12h2" stroke="#60175b" stroke-width="2" fill="none"/>
<path transform="scale(0.5)" d="M0 0m895 639h2m0 3h2m-3 -2h2m10 -11h2m-3 -2h2m-1 2h2m-3 -2h2m-14 4h2m11 -2h2m-7 -6h2m-2 0h2m3 15h2m-13 5h2m9 -7h2m-1 -3h2m-5 -8h2m-8 20h2m6 -9h2m-2 -6h2m-12 14h2m4 0h2m2 -12h2m-7 -9h2m-8 20h2m3 -20h2m4 15h2m-4 5h2m-2 -1h2m-13 -5h2m10 5h2m-14 -4h2m-2 1h2m-2 -7h2m3 13h2m3 -20h2m-6 -2h2m5 9h2m-14 9h2m10 -10h2m-15 1h2m9 -7h2m-3 19h2m-11 -3h2m3 4h2m4 -17h2m-12 15h2m5 -20h2m2 12h2m-9 -12h2m-8 13h2m11 -4h2m-6 12h2m-8 -1h2m1 -20h2m2 21h2m0 -17h2m-2 1h2m-1 6h2m-14 -7h2m-1 14h2m9 -7h2m-8 -11h2m2 3h2m0 11h2m-4 5h2m-13 -11h2m4 14h2m-5 -20h2m8 10h2m-3 6h2m-14 -9h2m11 1h2m-2 6h2m-4 -13h2m-6 -3h2m-9 8h2m-2 4h2m-1 -7h2m4 -5h2m-8 16h2m3 6h2m3 -4h2m-3 2h2m0 -3h2m-1 -5h2m-13 -8h2m-4 3h2m7 14h2m-3 -20h2m3 12h2m-13 -9h2m9 10h2m-15 -2h2m-2 0h2m10 5h2m-1 -10h2m-4 11h2m0 -8h2m-3 -5h2m-3 -1h2m-7 -3h2m5 9h2m-3 7h2m-12 0h2m-4 -7h2m7 -9h2m2 6h2m-9 14h2m-8 -12h2m10 8h2m-5 4h2m-7 -20h2m-1 0h2m1 20h2m-6 0h2m-6 -13h2m5 -7h2m1 19h2m-4 -19h2m2 4h2m-7 16h2m-5 -20h2" stroke="#8b1b4a" stroke-width="2" fill="none"/>
<path transform="scale(0.5)" d="M0 0m901 644h2m5 -14h2m-2 7h2m-3 -7h2m-1 1h2m-8 -7h2m-1 20h2m-9 -7h2m7 -11h2m-3 -1h2m0 2h2m-12 4h2m-2 9h2m8 -14h2m-3 -1h2m-7 -1h2m-4 2h2m7 13h2m-2 -1h2m-3 4h2m-10 -17h2m6 2h2m-13 5h2m0 8h2m-4 -4h2m0 -8h2m-1 14h2m-2 1h2m-5 -11h2m4 -8h2m-2 20h2m-3 -20h2m-4 18h2m-4 -12h2m-1 11h2m7 1h2m-11 -15h2m-3 4h2m6 12h2m-3 -19h2m0 1h2m-2 1h2m-9 0h2m-1 -1h2m-4 15h2m-3 -3h2m9 -8h2m-10 14h2m0 1h2m3 -3h2m0 -6h2m-14 -5h2m-2 9h2m8 2h2m-2 0h2m-9 2h2m-3 -17h2m-3 15h2m8 -13h2m-2 1h2m-13 1h2m2 -6h2m-2 1h2m-6 7h2m9 -2h2m-2 8h2m-7 -14h2m-7 17h2m-2 -2h2m-1 3h2m7 -12h2m-11 -4h2m7 12h2m-10 5h2m5 -16h2m-12 2h2m8 -1h2m-11 11h2m8 -10h2m-3 12h2m-7 3h2m4 -6h2m-2 1h2m-8 -15h2m-2 0h2m-5 17h2m8 -8h2m-5 8h2m-5 2h2m-6 -1h2m-1 -17h2m3 1h2m-2 -1h2m-8 1h2m0 -1h2m-6 5h2m6 13h2m-2 -18h2m1 13h2m-10 4h2m5 -1h2m-1 -12h2m-13 5h2m4 -9h2m-4 18h2m0 -18h2m2 3h2m-11 12h2m-3 -7h2m2 10h2m5 -13h2m-12 9h2m-2 1h2m-3 -4h2m9 2h2m-3 -10h2m-5 -3h2m2 8h2m-13 -3h2m-1 -1h2m2 -4h2m-7 5h2m0 -3h2m4 -2h2m0 15h2m-12 -7h2m1 9h2m-5 -12h2m3 13h2m0 0h2m-6 -18h2m6 8h2m-11 -5h2m7 7h2m-8 -10h2m-6 15h2m7 -11h2m-1 1h2" stroke="#ad2638" stroke-width="2" fill="none"/>
<path transform="scale(0.5)" d="M0 0m907 632h2m-3 7h2m-3 2h2m-5 -16h2m-6 15h2m-4 -9h2m0 10h2m2 -16h2m-8 5h2m-2 2h2m6 10h2m1 -10h2m-13 -1h2m9 2h2m-2 -2h2m-2 7h2m-10 4h2m-2 0h2m-5 -10h2m9 5h2m-10 5h2m-5 -6h2m1 6h2m-4 -13h2m1 14h2m3 -2h2m-4 2h2m-9 -12h2m5 11h2m-9 -7h2m2 -10h2m5 8h2m-8 -8h2m-4 1h2m0 17h2m-7 -10h2m6 9h2m1 -11h2m-13 3h2m0 -7h2m-4 5h2m-1 7h2m4 -13h2m0 1h2m-1 13h2m-9 -14h2m3 16h2m-5 1h2m4 -7h2m-9 7h2m5 -7h2m-12 -6h2m0 12h2m1 -17h2m-8 7h2m7 -5h2m-1 2h2m-1 3h2m-2 5h2m-3 3h2m-5 2h2m-1 -16h2m-2 0h2m-8 2h2m6 0h2m-10 0h2m5 13h2m-6 2h2m-3 -1h2m-1 0h2m-6 -13h2m-3 6h2m-1 4h2m-2 -8h2m-2 8h2m1 -13h2m-5 12h2m2 -12h2m1 16h2m-8 -14h2m3 -2h2m-2 16h2m2 -8h2m-6 -8h2m-5 16h2m5 -5h2m-12 -6h2m-2 -1h2m-3 3h2m5 -7h2m-3 16h2m-5 -15h2m5 3h2m-2 9h2m-10 2h2m-3 -10h2m5 -4h2m-8 1h2m-3 3h2m-2 7h2m-3 -3h2m5 7h2m-8 -12h2m-2 2h2m-2 -2h2m7 9h2m-11 -1h2m5 -11h2m-10 8h2m9 0h2m-11 5h2m-3 -3h2m3 -11h2m-7 4h2m3 12h2m-7 -11h2m-2 4h2m7 4h2m-11 -7h2m1 10h2m-3 -15h2m4 13h2m-5 2h2m-3 0h2m3 -5h2m-3 -8h2m-7 -3h2m0 16h2m-7 -12h2m1 12h2m-3 -15h2m2 15h2" stroke="#ce3426" stroke-width="2" fill="none"/>
<path transform="scale(0.5)" d="M0 0m905 640h2m-1 -2h2m-7 -12h2m3 5h2m-11 3h2m7 -3h2m-3 -3h2m0 6h2m-11 -6h2m-3 8h2m6 -7h2m-10 1h2m0 -3h2m-4 9h2m-2 -2h2m7 3h2m-3 -9h2m-3 13h2m-2 -14h2m-6 0h2m4 8h2m-2 1h2m-3 -8h2m-3 -1h2m-9 5h2m7 2h2m-4 7h2m-2 -14h2m-8 2h2m3 -3h2m-1 15h2m-9 -10h2m0 -4h2m-4 4h2m-1 -2h2m0 -2h2m2 0h2m-9 6h2m5 8h2m-8 -1h2m6 -10h2m-5 -3h2m1 7h2m-4 -7h2m0 9h2m-2 2h2m-11 -5h2m0 7h2m-3 -10h2m5 -1h2m-4 12h2m1 -3h2m-2 -6h2m-11 0h2m-2 4h2m3 5h2m-2 0h2m-3 0h2m-6 -4h2m-1 -7h2m5 -2h2m-10 6h2m-2 1h2m0 -7h2m-2 12h2m3 -12h2m-2 12h2m-1 -11h2m-9 9h2m-1 -10h2m-4 4h2m-2 1h2m5 7h2m-2 -12h2m-2 0h2m-3 13h2m-8 -4h2m3 4h2m2 -10h2m-2 1h2m-11 -1h2m-2 3h2m1 -7h2m-4 10h2m0 4h2m-2 -1h2m-5 -9h2m0 -2h2m-3 1h2m5 0h2m-10 3h2m6 6h2m-7 2h2m2 -13h2m0 6h2m-2 -1h2m-3 -4h2m-3 11h2m-3 1h2m-3 -14h2m2 7h2m-4 -6h2m-7 1h2m3 0h2m-8 7h2m1 -9h2m-5 3h2" stroke="#e05720" stroke-width="2" fill="none"/>
<path transform="scale(0.5)" d="M0 0m898 638h2m2 -11h2m2 9h2m-8 -8h2m-3 1h2m-3 3h2m-2 5h2m5 0h2m-9 -7h2m0 -2h2m-4 2h2m2 -3h2m-6 4h2m-1 -2h2m3 10h2m-5 -12h2m1 1h2m-2 1h2m-7 0h2m-4 5h2m3 -7h2m0 1h2m-8 7h2m1 -8h2m-3 1h2m-4 10h2m-2 -2h2m0 -8h2m-4 8h2m0 -8h2m1 12h2m-2 0h2m-5 0h2m-4 -9h2m-2 6h2m-2 -5h2m5 5h2m-5 -9h2m-2 12h2m2 -8h2m-3 5h2m-3 2h2m-3 1h2m-2 0h2m-3 -12h2m-1 12h2m0 -9h2m-5 9h2m0 -12h2m-7 10h2m2 2h2m-5 -1h2m1 1h2m-7 -7h2m-1 5h2m-1 2h2m1 0h2m-1 -1h2m-6 -11h2m-2 0h2m-4 7h2m4 -6h2m-1 9h2m-9 -4h2m1 6h2m1 -2h2m-7 1h2m-1 1h2m-4 -7h2m0 -5h2m3 3h2m-9 4h2m-1 -6h2m1 -1h2m1 7h2m-7 -7h2m-3 11h2m4 -5h2m-7 5h2m0 1h2m1 -9h2m-8 8h2m1 -11h2m-1 1h2m-7 7h2m-2 -4h2m4 -2h2m-1 7h2m-4 -8h2m-2 -1h2m0 9h2m-5 3h2m0 -1h2m-7 -1h2m0 2h2m2 -8h2m-9 1h2m5 0h2m-4 6h2m-2 -10h2m0 4h2m-3 6h2m-8 -4h2m3 -6h2m-6 1h2m-1 9h2m3 -3h2m-3 2h2m-2 0h2m-1 -4h2m-4 5h2m0 -4h2m-2 1h2m-8 -6h2m3 8h2m-3 1h2m-7 -7h2m-2 4h2m-1 2h2m4 -3h2m-7 4h2m3 -2h2m-6 2h2m1 -1h2m-8 -4h2" stroke="#f07e1e" stroke-width="2" fill="none"/>
<path transform="scale(0.5)" d="M0 0m902 639h2m-1 -10h2m-1 0h2m-4 0h2m-3 0h2m1 9h2m-7 -8h2m4 6h2m-8 -4h2m-2 4h2m-3 -4h2m-1 5h2m4 -5h2m-9 3h2m5 1h2m-7 -6h2m-3 5h2m1 4h2m-1 -9h2m-4 9h2m-5 -4h2m5 0h2m-3 3h2m-8 -5h2m-1 -1h2m3 -1h2m-2 0h2m-8 2h2m-1 4h2m-3 -2h2m2 -6h2m-4 0h2m-1 0h2m-1 10h2m-2 0h2m-5 -3h2m3 1h2m-7 -5h2m2 -3h2m-1 9h2m-5 1h2m-4 -3h2m4 -3h2m-3 4h2m-3 -7h2m-4 -1h2m0 1h2m-1 3h2m-7 4h2m1 -8h2m-2 0h2m-2 10h2m-2 0h2m-5 -7h2m0 -3h2m1 3h2m-2 2h2m-3 4h2m-1 -1h2m-4 2h2m0 -8h2m-2 0h2m-7 6h2m1 -8h2m-2 0h2m0 5h2m-2 -1h2m-3 5h2m-6 -4h2m-2 -2h2m3 4h2m-6 -6h2m0 0h2m-1 8h2m-3 -8h2m-5 6h2m2 2h2m-2 -8h2m-1 6h2m-2 -1h2m-2 -2h2m-2 -1h2m-5 -2h2m-4 4h2m3 0h2m-4 4h2m-4 -1h2m0 1h2m-5 -5h2m3 3h2m-6 -5h2m-3 5h2m3 0h2m-4 2h2m-5 -2h2m2 -5h2m-5 6h2m1 1h2m-3 0h2m0 -5h2m-3 4h2m-3 -7h2m-1 7h2m-4 -7h2m1 2h2m-5 -2h2m0 2h2m-6 1h2m-2 1h2m-2 -1h2" stroke="#f7ad2f" stroke-width="2" fill="none"/>
<path transform="scale(0.5)" d="M0 0m899 636h2m-1 -5h2m0 7h2m-2 -8h2m-1 1h2m-5 1h2m2 1h2m-3 -2h2m-3 -1h2m-2 1h2m-2 0h2m-2 -1h2m0 5h2m-4 -4h2m-1 1h2m-4 5h2m-3 -6h2m1 6h2m-5 -3h2m-2 3h2m2 -2h2m-3 -2h2m-1 0h2m-3 4h2m-2 -5h2m-2 -1h2m-5 4h2m2 -1h2m-3 2h2m-2 -4h2m-3 5h2m-4 -2h2m-2 -1h2m-2 2h2m-1 1h2m-2 -6h2m0 1h2m-5 0h2m-2 1h2m1 -1h2m-2 4h2m-3 -5h2m-2 0h2m-4 3h2m-2 1h2m-2 1h2m1 0h2m-4 -4h2m0 1h2m-2 1h2m-5 -2h2m-2 2h2m1 2h2m-5 -4h2m1 0h2m-2 0h2m-4 5h2m-2 -1h2m-3 -1h2m1 -3h2m-3 -1h2m-3 1h2m-1 -1h2m-4 2h2m-1 -1h2m-3 1h2m0 -1h2m-1 2h2m-4 2h2m-3 -1h2m0 1h2m-1 -1h2m-4 1h2m-2 0h2m-3 -3h2m1 0h2m-3 3h2m-2 0h2m-4 -2h2m0 -2h2m-2 0h2m-2 0h2m-3 4h2m-2 0h2m-2 -1h2m-2 -1h2m-2 -1h2m-3 1h2m-1 2h2m-1 -4h2m-2 1h2m-2 3h2m-2 -4h2m-1 2h2m-4 0h2m-2 -1h2m-2 1h2m-2 1h2m-2 -2h2m-1 2h2m-2 -2h2m-2 0h2m-3 2h2m-2 -2h2m-1 2h2m-2 0h2m-2 -2h2m-2 1h2m-3 -1h2m-2 0h2m-2 0h2m-1 1h2m-3 -1h2m-2 1h2m-1 0h2m-2 0h2m-2 0h2m-2 0h2" stroke="#fcdc52" stroke-width="2" fill="none"/>
<rect x="461.80" y="291.10" width="44.60" height="37.60" fill="none" stroke="#2a5080" stroke-width="1.3"/>
<line x1="421.50" y1="481.50" x2="509.60" y2="481.50" stroke="#3a3a3a" stroke-width="1.2"/>
<text x="465.55" y="477.50" font-size="6.6" text-anchor="middle" textLength="65.70" lengthAdjust="spacingAndGlyphs">CD4 T cells (non-Treg)</text>
<text x="424.70" y="526.20" font-size="8.4" text-anchor="middle" textLength="82.30" lengthAdjust="spacingAndGlyphs" transform="rotate(-90 424.70 526.20)">153Eu_CD45RA [Eu153Di]</text>
<text x="432.30" y="576.80" font-size="8.4" textLength="73.90" lengthAdjust="spacingAndGlyphs">172Yb_CCR7 [Yb172Di]</text>
<rect x="434.60" y="490.00" width="71.10" height="70.90" fill="none" stroke="#444" stroke-width="0.9"/>
<path d="M445.1 560.9v3.2M452.8 560.9v2M457.3 560.9v2M460.5 560.9v2M462.9 560.9v2M464.9 560.9v2M466.7 560.9v2M468.1 560.9v2M469.4 560.9v2M470.6 560.9v3.2M478.3 560.9v2M482.8 560.9v2M486.0 560.9v2M488.4 560.9v2M490.4 560.9v2M492.2 560.9v2M493.6 560.9v2M494.9 560.9v2M496.1 560.9v3.2M503.8 560.9v2M504.7 560.9v3.2M434.6 541.9h-3.2M434.6 536.3h-2M434.6 533.0h-2M434.6 530.7h-2M434.6 528.9h-2M434.6 527.4h-2M434.6 526.2h-2M434.6 525.1h-2M434.6 524.2h-2M434.6 523.3h-3.2M434.6 517.7h-2M434.6 514.4h-2M434.6 512.1h-2M434.6 510.3h-2M434.6 508.8h-2M434.6 507.6h-2M434.6 506.5h-2M434.6 505.6h-2M434.6 504.7h-3.2M434.6 499.1h-2M434.6 495.8h-2M434.6 493.5h-2M434.6 491.7h-2" stroke="#222" stroke-width="0.7" fill="none"/>
<rect x="437.60" y="561.30" width="12.00" height="2.40" fill="#111"/>
<path transform="scale(0.5)" d="M0 0m916 1029h2m19 -6h2m5 2h2m18 47h2m-10 -39h2m9 25h2m-49 16h2m-6 -37h2m2 -3h2" stroke="#3c3c4b" stroke-width="2" fill="none"/>
<path transform="scale(0.5)" d="M0 0m928 1078h2m13 -49h2m-26 7h2m-7 8h2m12 32h2m26 -40h2m-30 40h2m-15 -31h2m18 32h2m-9 -44h2m-12 33h2" stroke="#3c3c4b" stroke-width="2" fill="none"/>
<path transform="scale(0.5)" d="M0 0m955 1070h2m3 -7h2m-1 -4h2m-48 -12h2m42 -2h2m-35 27h2m33 -19h2m-48 3h2m12 -21h2m29 17h2m-14 20h2m9 -11h2" stroke="#3c3c4b" stroke-width="2" fill="none"/>
<path transform="scale(0.5)" d="M0 0m955 1067h2m-38 -3h2m5 -26h2m22 31h2m1 -3h2" stroke="#3c3c4b" stroke-width="2" fill="none"/>
<path transform="scale(0.5)" d="M0 0m939 1036h2m17 20h2m-24 15h2m3 -34h2m-14 2h2m25 11h2m-39 5h2m14 16h2m-14 -26h2" stroke="#3c3c4b" stroke-width="2" fill="none"/>
<path transform="scale(0.5)" d="M0 0m953 1046h2m-6 21h2m-20 -28h2m17 4h2" stroke="#3c3c4b" stroke-width="2" fill="none"/>
<path transform="scale(0.5)" d="M0 0m943 1039h2m-20 24h2m14 6h2m-20 -21h2m29 4h2m-28 14h2m24 -12h2m-30 -10h2m19 -2h2m-25 19h2m25 1h2m-29 -15h2m21 18h2" stroke="#3c3c4b" stroke-width="2" fill="none"/>
<path transform="scale(0.5)" d="M0 0m952 1060h2m-30 0h2m0 -14h2m-1 -1h2m11 -4h2m11 11h2m-3 5h2m-18 10h2m-14 -13h2m26 0h2m-25 10h2" stroke="#3c3c4b" stroke-width="2" fill="none"/>
<path transform="scale(0.5)" d="M0 0m930 1064h2m1 2h2m-6 -21h2m20 5h2m-19 16h2m12 -4h2m-21 -17h2m2 -2h2m14 18h2m-4 -15h2m-1 0h2" stroke="#3c3c4b" stroke-width="2" fill="none"/>
<path transform="scale(0.5)" d="M0 0m925 1056h2m20 -10h2m-18 18h2m11 0h2m4 -7h2" stroke="#3c3c4b" stroke-width="2" fill="none"/>
<path transform="scale(0.5)" d="M0 0m928 1049h2m7 16h2m-12 -9h2m20 -4h2m-8 11h2m-6 -19h2m-5 0h2m10 6h2m-15 14h2m5 -1h2" stroke="#3c3c4b" stroke-width="2" fill="none"/>
<path transform="scale(0.5)" d="M0 0m941 1046h2m5 9h2m-14 8h2m6 -16h2m-14 13h2m10 -13h2m-16 11h2m-3 -6h2m16 0h2" stroke="#3c3c4b" stroke-width="2" fill="none"/>
<path transform="scale(0.5)" d="M0 0m929 1054h2m14 5h2m-3 1h2m1 -8h2m-13 10h2m8 -11h2m-2 6h2m-2 -6h2m-3 -1h2" stroke="#3c3c4b" stroke-width="2" fill="none"/>
<path transform="scale(0.5)" d="M0 0m931 1052h2m0 7h2m0 1h2m4 0h2m-4 0h2m-8 -10h2m5 -2h2m-10 8h2m9 1h2m-1 -1h2m-14 -3h2" stroke="#3c3c4b" stroke-width="2" fill="none"/>
<path transform="scale(0.5)" d="M0 0m934 1058h2m8 -4h2m-2 -1h2m-8 -4h2m-6 2h2m0 -2h2m-4 2h2m1 -1h2m1 8h2m1 -5h2m-10 4h2" stroke="#3c3c4b" stroke-width="2" fill="none"/>
<path transform="scale(0.5)" d="M0 0m934 1053h2m-1 3h2m-3 -1h2m5 -3h2m-4 -1h2m-4 6h2m0 -5h2m-1 3h2m-2 -1h2m-5 0h2" stroke="#3c3c4b" stroke-width="2" fill="none"/>
<path transform="scale(0.5)" d="M0 0m908 1098h2m-8 -48h2m-5 -7h2m-4 61h2m3 -27h2m-7 25h2m1 -52h2m-4 -7h2" stroke="#14142d" stroke-width="2" fill="none"/>
<path transform="scale(0.5)" d="M0 0m886 1105h2m11 -57h2m-5 -9h2m3 33h2m-2 -9h2m-17 -26h2m12 18h2m-2 5h2m-16 43h2m0 1h2m7 -7h2m-5 -59h2m-4 66h2m-4 0h2m1 -66h2m5 40h2m-15 24h2m3 1h2m3 -10h2m-13 7h2" stroke="#14142d" stroke-width="2" fill="none"/>
<path transform="scale(0.5)" d="M0 0m886 1099h2m8 -54h2m-8 58h2m2 -4h2m-10 0h2m6 -1h2m-10 -57h2m8 53h2m-3 3h2m0 -46h2m0 29h2m-15 18h2m9 -50h2m-12 -8h2m8 10h2m-10 50h2m6 -11h2m-6 9h2" stroke="#14142d" stroke-width="2" fill="none"/>
<path transform="scale(0.5)" d="M0 0m890 1041h2m5 44h2m-1 -25h2m-14 35h2m-2 -51h2m2 -3h2m5 13h2m-2 1h2m-12 -11h2m9 27h2m-9 -29h2m-6 3h2m-3 49h2m8 -44h2m0 28h2m-3 3h2m-12 -36h2m-3 2h2m10 19h2" stroke="#14142d" stroke-width="2" fill="none"/>
<path transform="scale(0.5)" d="M0 0m887 1094h2m1 -50h2m3 45h2m-8 7h2m6 -35h2m-13 31h2m9 -13h2m-1 -7h2m-10 24h2m0 -51h2m-4 50h2m-6 -46h2m-3 1h2m-1 -1h2m9 14h2m-13 29h2m2 3h2m5 -14h2m-2 -20h2" stroke="#14142d" stroke-width="2" fill="none"/>
<path transform="scale(0.5)" d="M0 0m889 1046h2m-1 48h2m-2 0h2m-5 -45h2m7 8h2m-7 -11h2m4 26h2m-4 16h2m-1 -28h2m-12 -9h2m9 14h2m-2 3h2m-5 21h2m-11 -1h2m6 -39h2m1 35h2m-11 6h2m4 0h2m-6 3h2m3 -41h2m-10 36h2m7 -32h2m-7 -9h2m-2 46h2m-7 -40h2" stroke="#14142d" stroke-width="2" fill="none"/>
<path transform="scale(0.5)" d="M0 0m890 1092h2m4 -14h2m-10 13h2m-3 -40h2m0 -3h2m-5 40h2m6 -36h2m1 17h2m-12 -17h2m-3 0h2m3 -3h2m-6 2h2m0 40h2m5 -14h2m-8 14h2m4 -25h2m-12 20h2m5 -33h2" stroke="#14142d" stroke-width="2" fill="none"/>
<path transform="scale(0.5)" d="M0 0m886 1086h2m7 -26h2m-5 -10h2m-8 5h2m-2 31h2m-2 -31h2m-2 29h2m-1 -31h2m1 36h2m-5 -35h2m-3 31h2m-2 -3h2m-1 -28h2m-1 34h2m-4 -33h2m0 -2h2m4 4h2m-1 18h2m-6 -24h2" stroke="#14142d" stroke-width="2" fill="none"/>
<path transform="scale(0.5)" d="M0 0m895 1076h2m-10 -22h2m0 34h2m4 -10h2m-3 4h2m-4 6h2m2 -19h2m-8 -17h2m3 16h2m-10 16h2m-2 -28h2m-3 25h2m1 -28h2m4 20h2m-2 -8h2m-6 -12h2m-3 34h2m-2 0h2m-5 -2h2" stroke="#14142d" stroke-width="2" fill="none"/>
<path transform="scale(0.5)" d="M0 0m894 1059h2m-6 28h2m3 -24h2m-11 16h2m-2 -20h2m-2 3h2m-2 -2h2m-2 19h2m7 -2h2m-10 6h2m-2 -25h2m-2 -1h2m-3 21h2m-1 -20h2m2 -4h2m-7 9h2m-2 17h2m-3 -5h2m4 -20h2m2 19h2m-7 -20h2m-3 0h2m-5 6h2m-2 2h2" stroke="#14142d" stroke-width="2" fill="none"/>
<path transform="scale(0.5)" d="M0 0m891 1085h2m-7 -10h2m3 -20h2m-7 7h2m-3 11h2m-1 -7h2m-1 16h2m3 2h2m-8 -9h2m5 -16h2m-4 -3h2m-7 23h2m6 -2h2m-5 8h2m-1 -1h2m-3 1h2m1 -22h2m-10 10h2m-2 -2h2m6 -4h2m-10 0h2m3 -11h2m1 13h2m-6 16h2m-4 -28h2m-4 10h2m-2 -2h2m-1 15h2m-2 -19h2m3 -3h2m-8 12h2" stroke="#14142d" stroke-width="2" fill="none"/>
<path transform="scale(0.5)" d="M0 0m891 1056h2m-5 1h2m-3 5h2m-3 2h2m6 13h2m-10 -12h2m-1 -3h2m-3 9h2m3 -14h2m-7 16h2m-2 3h2m4 -16h2m-1 17h2m-5 6h2m-5 -20h2m-3 4h2m1 -9h2m-1 24h2m-3 0h2m-4 -4h2m-3 -8h2m5 -8h2m-2 16h2m-4 -20h2m-5 3h2" stroke="#14142d" stroke-width="2" fill="none"/>
<path transform="scale(0.5)" d="M0 0m887 1075h2m-2 0h2m-3 -8h2m4 13h2m-7 -15h2m-1 16h2m3 -18h2m-5 19h2m-4 -3h2m-3 -15h2m-1 15h2m-2 -17h2m3 0h2m-4 19h2m-4 -1h2m-3 -20h2m-3 13h2m2 8h2m-6 -12h2m3 9h2m-3 -18h2m-2 20h2m-2 -20h2m0 14h2m-2 -9h2m-7 -4h2m3 8h2m-8 6h2" stroke="#14142d" stroke-width="2" fill="none"/>
<path transform="scale(0.5)" d="M0 0m888 1078h2m-3 -14h2m-2 6h2m4 4h2m-4 -14h2m-6 15h2m-2 -5h2m-2 -3h2m1 -7h2m-3 19h2m1 -15h2m-7 5h2m4 4h2m-2 1h2m-3 -12h2m-1 5h2m-5 12h2m-5 -7h2m1 7h2m-1 -18h2m-1 13h2m-1 -5h2m-3 7h2m-6 -11h2m3 6h2m-7 -3h2m1 10h2m-1 -3h2m-4 3h2" stroke="#14142d" stroke-width="2" fill="none"/>
<path transform="scale(0.5)" d="M0 0m890 1078h2m-2 0h2m0 -13h2m-6 8h2m-2 -4h2m2 6h2m-2 -8h2m-5 9h2m-3 -10h2m2 2h2m-4 9h2m-3 -2h2m0 -10h2m-4 10h2m1 -2h2m-5 1h2" stroke="#14142d" stroke-width="2" fill="none"/>
<path transform="scale(0.5)" d="M0 0m888 1073h2m2 -3h2m-3 -4h2m-2 1h2m-4 2h2m-2 3h2m-1 3h2m-1 -3h2m-2 0h2m-2 -3h2m-3 -2h2m-1 1h2m-3 -1h2m-2 0h2m-1 3h2m-3 3h2m-2 -1h2m-2 0h2m-2 -1h2m-2 0h2m-2 -3h2m-2 1h2" stroke="#14142d" stroke-width="2" fill="none"/>
<path transform="scale(0.5)" d="M0 0m924 1084h2m-6 0h2m45 12h2m-13 -6h2m-67 -7h2m68 21h2m-37 -18h2m25 4h2m-69 -5h2m72 10h2m-14 -5h2m-48 -5h2m56 15h2m-61 -15h2m6 1h2m41 6h2m-35 -5h2m-34 -1h2m5 -1h2m59 11h2m-1 0h2m-3 0h2m-1 5h2m-67 -15h2m20 1h2m5 1h2m32 10h2m-6 6h2m-47 -17h2m45 9h2m-2 6h2m-7 3h2m-1 -11h2m-1 9h2m1 -3h2m-10 -7h2m1 11h2" stroke="#060511" stroke-width="2" fill="none"/>
<path transform="scale(0.5)" d="M0 0m936 1091h2m9 13h2m-6 1h2m0 -11h2m-1 9h2m-33 -14h2m30 14h2m-22 -13h2m0 0h2m5 2h2m-2 0h2m9 10h2m-18 -11h2m14 8h2m-33 -9h2m29 8h2m-11 -5h2m5 9h2m-8 -9h2m-55 -4h2m53 15h2m-17 -13h2m-41 -2h2m55 7h2m-6 8h2m2 -8h2m-8 -3h2m-25 -3h2m7 1h2m12 13h2m-31 -14h2m-25 -1h2m49 5h2m0 0h2m-1 1h2m2 3h2m-8 -4h2m-5 11h2m-14 -14h2" stroke="#0a0617" stroke-width="2" fill="none"/>
<path transform="scale(0.5)" d="M0 0m935 1093h2m-2 12h2m5 -9h2m-1 5h2m-7 -7h2m-16 -3h2m13 4h2m-6 -2h2m-25 -3h2m22 4h2m3 3h2m-20 -6h2m16 6h2m-33 -7h2m10 1h2m15 5h2m0 5h2m-11 -8h2m-40 -5h2m29 4h2m5 1h2m-25 -3h2m23 14h2m5 -4h2m-51 -11h2m28 3h2m12 11h2m-1 0h2m0 -1h2m-6 -8h2m-33 -4h2m35 8h2m-57 -8h2m52 10h2m-36 -10h2m-22 0h2m48 5h2m-43 -6h2m9 1h2m32 8h2m-56 -8h2m2 -1h2m43 14h2m-3 0h2m-36 -14h2m-15 1h2m41 3h2m-25 -2h2m30 8h2m-3 -2h2m-18 -5h2m7 12h2m-19 -13h2m23 7h2m-34 -7h2m27 11h2m-4 -7h2m-16 -3h2m14 4h2m-16 -4h2m-6 0h2m16 10h2m-50 -12h2" stroke="#0e071c" stroke-width="2" fill="none"/>
<path transform="scale(0.5)" d="M0 0m931 1104h2m-24 -13h2m-25 -1h2m50 8h2m-8 5h2m2 -2h2m-1 -4h2m-16 -4h2m10 9h2m0 -5h2m-52 -7h2m49 9h2m-6 -3h2m-36 -6h2m35 8h2m-15 7h2m-2 0h2m-38 -15h2m39 14h2m-2 0h2m-2 0h2m-32 -14h2m23 3h2m6 10h2m-48 -12h2m45 5h2m-5 8h2m-10 -11h2m-1 12h2m-9 -13h2m13 11h2m-47 -12h2m43 4h2m-41 -5h2m7 0h2m26 4h2m-6 11h2m-38 -15h2m24 2h2m10 12h2m-2 0h2m-4 -10h2m2 10h2m-8 -11h2m11 7h2m-2 -1h2m-10 -5h2m-39 -4h2m40 12h2m-5 -7h2m-3 8h2m-4 1h2m-9 -11h2m-4 0h2m6 11h2m6 -7h2m-27 -5h2m24 6h2m-6 -3h2m-6 9h2m-10 -11h2m5 11h2m-17 -12h2m19 4h2m-13 -3h2m4 1h2m-6 10h2m-27 -14h2m26 14h2m-28 -14h2m26 5h2m-5 -1h2m7 4h2m-3 -1h2m-3 -1h2m-48 -4h2m16 -1h2m28 8h2m-50 6h2m28 -12h2m-4 0h2m-30 -1h2m36 12h2m6 -3h2m0 -3h2m-46 -8h2m33 14h2m-6 0h2m3 0h2m4 -3h2" stroke="#120822" stroke-width="2" fill="none"/>
<path transform="scale(0.5)" d="M0 0m932 1097h2m-13 7h2m0 0h2m2 -9h2m1 1h2m-4 -1h2m-4 8h2m-13 2h2m10 -2h2m-26 -12h2m12 14h2m-33 0h2m36 -11h2m-25 -3h2m30 8h2m-15 5h2m-1 -10h2m-4 11h2m-34 -14h2m40 5h2m-24 -4h2m-24 13h2m41 -2h2m-26 -12h2m27 7h2m-42 -8h2m14 2h2m12 12h2m1 -1h2m-9 1h2m-9 1h2m19 -6h2m-21 6h2m6 -1h2m-8 1h2m14 -7h2m-12 6h2m-38 1h2m42 -3h2m-14 2h2m2 0h2m-18 -12h2m14 12h2m-1 0h2m3 -8h2m-6 8h2m-7 -10h2m0 10h2m-6 0h2m-33 1h2m37 -2h2m-13 2h2m-2 -12h2m-14 -2h2m28 8h2m-22 6h2m-4 0h2m2 -12h2m9 10h2m3 -2h2m0 -1h2m-10 3h2m-13 -10h2m-29 11h2m33 -10h2m9 4h2m-23 7h2m12 -10h2m-39 -4h2m-4 14h2m15 -13h2m25 9h2m-9 2h2m-21 -11h2m20 3h2m-41 -3h2m38 10h2m-43 3h2m40 -9h2m-3 6h2m-17 3h2m-2 0h2m10 -10h2m4 6h2m-2 -4h2m-30 -6h2m12 13h2m3 -9h2m-6 -1h2m11 4h2m-14 6h2m-34 -12h2m33 12h2m7 -4h2m-4 2h2m-43 3h2m24 -11h2m-29 10h2m27 0h2m-30 1h2m29 -1h2m8 -3h2m-44 3h2m42 -6h2m-2 2h2m-19 -6h2m-7 -1h2m17 3h2m-13 8h2m-13 1h2m10 -1h2m-13 1h2m-22 -1h2m0 1h2m38 -4h2m-22 -8h2m-23 12h2m1 -14h2m-4 14h2m28 -1h2" stroke="#160927" stroke-width="2" fill="none"/>
<path transform="scale(0.5)" d="M0 0m916 1104h2m4 -1h2m-1 -8h2m-33 -4h2m30 11h2m3 -3h2m-14 5h2m-6 0h2m-6 0h2m1 -10h2m-28 10h2m19 -11h2m2 1h2m3 10h2m8 -8h2m1 4h2m-14 4h2m0 -1h2m-13 1h2m7 0h2m-9 -10h2m10 9h2m0 -1h2m0 -1h2m0 -3h2m-15 6h2m5 -1h2m-13 1h2m-20 -13h2m33 7h2m-43 -6h2m-1 13h2m13 -13h2m2 12h2m-22 -12h2m18 1h2m19 6h2m-23 -6h2m-21 12h2m9 -14h2m27 9h2m-4 -3h2m-11 6h2m-8 1h2m-27 0h2m-1 -12h2m21 12h2m-5 0h2m17 -7h2m-10 6h2m-8 1h2m-28 -11h2m23 11h2m-1 -10h2m9 2h2m-40 -3h2m31 2h2m4 1h2m-23 -4h2m-20 1h2m0 11h2m38 -5h2m-20 5h2m-8 -12h2m22 7h2m-43 -6h2m29 2h2m-25 -4h2m13 13h2m1 0h2m-7 -11h2m6 10h2m-17 -11h2m24 6h2m-7 -2h2m-2 0h2m0 6h2m-21 3h2m20 -5h2m-24 5h2m-19 -1h2m-2 0h2m-2 0h2m18 -10h2m6 9h2m3 -7h2m3 1h2m-15 -3h2m12 6h2m-42 3h2m39 -4h2m-42 -6h2m-3 0h2m38 6h2m-25 -7h2m20 9h2m-40 3h2m29 -1h2m-19 2h2m23 -6h2m-41 5h2m-3 -1h2m2 2h2m34 -6h2m-39 -7h2m8 0h2m19 4h2m-2 0h2m-13 -2h2m15 4h2m-11 5h2m-18 -11h2m-1 13h2m20 -4h2m-24 4h2m17 -3h2m-10 1h2m-4 0h2m-10 2h2m15 -9h2m1 5h2m-13 2h2" stroke="#1a0b2d" stroke-width="2" fill="none"/>
<path transform="scale(0.5)" d="M0 0m910 1094h2m13 4h2m-2 1h2m-16 4h2m-8 1h2m18 -6h2m-27 -6h2m18 4h2m-3 0h2m-19 9h2m9 -2h2m-3 -8h2m11 5h2m-3 1h2m-17 2h2m0 -8h2m-4 -1h2m13 6h2m-3 -3h2m-38 7h2m-1 0h2m-4 -10h2m32 8h2m-25 -11h2m19 11h2m-11 1h2m-24 -10h2m20 1h2m13 6h2m-19 4h2m15 -5h2m-25 6h2m-17 -11h2m36 5h2m-5 2h2m0 0h2m-39 -7h2m23 9h2m-10 1h2m13 -2h2m-32 2h2m33 -4h2m-39 3h2m26 0h2m-1 -1h2m-14 -9h2m9 3h2m7 3h2m-30 -7h2m11 11h2m-5 -9h2m16 6h2m-8 -4h2m-33 7h2m34 -5h2m-30 -6h2m-3 0h2m27 6h2m-36 6h2m-3 -11h2m16 11h2m16 -5h2m-20 5h2m-6 0h2m9 -1h2m8 -5h2m-16 5h2m-23 0h2m28 -7h2m1 5h2m-36 -7h2m23 9h2m9 -5h2m-38 -4h2m8 -2h2m2 13h2m5 -2h2m13 -3h2m-17 3h2m-12 -11h2m7 11h2m11 -2h2m-24 4h2m-11 -12h2m5 12h2m25 -6h2m-23 5h2m14 -3h2m3 -2h2m-38 4h2m33 -3h2m-18 -6h2m-12 11h2m-11 -11h2m-2 8h2m33 -2h2m-28 -8h2m21 5h2m-33 -3h2m29 3h2m-14 6h2m-3 0h2m-22 -1h2m31 -5h2m1 2h2m-2 -1h2m-30 7h2m25 -5h2m-33 -7h2m-5 10h2m-2 0h2m30 -6h2m-2 0h2m-18 7h2m10 -8h2m-13 8h2m16 -5h2m-2 -1h2m-25 7h2m-4 0h2m20 -4h2m-4 -4h2m-3 -1h2m2 2h2m-21 6h2m-16 -2h2m24 0h2" stroke="#1e0c32" stroke-width="2" fill="none"/>
<path transform="scale(0.5)" d="M0 0m917 1101h2m-27 4h2m-3 -1h2m8 -11h2m-2 0h2m-18 9h2m11 3h2m19 -7h2m-11 4h2m-8 2h2m-15 0h2m22 -3h2m-10 2h2m-13 -11h2m22 7h2m-2 0h2m-12 3h2m-15 3h2m9 -2h2m-4 -9h2m-14 -2h2m23 6h2m-18 -5h2m7 9h2m-6 1h2m9 -3h2m-18 4h2m12 -3h2m-14 -7h2m12 6h2m-12 -5h2m7 2h2m-17 7h2m-8 1h2m7 -11h2m-13 11h2m-7 -12h2m-1 11h2m-7 -9h2m8 -3h2m20 6h2m-25 7h2m20 -5h2m-2 -3h2m-12 -2h2m-8 9h2m15 -4h2m-34 2h2m31 -4h2m-12 4h2m-9 2h2m11 -3h2m0 -1h2m-7 -4h2m5 3h2m-2 0h2m-9 -3h2m3 4h2m0 -1h2m-11 -3h2m4 1h2m-30 6h2m28 -4h2m-28 -7h2m13 3h2m1 7h2m-6 1h2m10 -4h2m-12 -4h2m-24 0h2m29 5h2m-30 3h2m8 1h2m15 -3h2m-2 0h2m-8 1h2m2 -5h2m-14 7h2m-17 -10h2m19 8h2m-24 0h2m16 -8h2m-19 0h2m2 10h2m22 -3h2m-30 2h2m21 -1h2m2 -1h2m-30 1h2m-2 0h2m23 -6h2m0 5h2m2 -3h2m-2 2h2m-2 -1h2m-9 3h2m4 -2h2m-17 4h2m14 -6h2m-2 1h2m-16 4h2m-18 -1h2m-3 -7h2m28 3h2m-1 1h2m-3 -1h2m-2 2h2m-20 4h2m6 -1h2m-6 1h2m10 -7h2m0 1h2m-2 0h2m-31 4h2m-3 -7h2m-2 0h2m19 0h2m-5 8h2m5 -6h2m1 1h2m-2 2h2m-6 -4h2m-22 8h2m-5 -2h2m-3 0h2m25 -1h2m-24 -8h2m-1 0h2m18 8h2m2 -2h2m-26 -7h2m-5 1h2m6 -1h2m3 2h2m9 7h2m-1 -1h2m-14 3h2m-18 -2h2m1 -8h2m22 4h2m-29 4h2m26 -3h2m-2 0h2m-29 -3h2m-3 6h2m9 -9h2m-12 2h2m12 10h2m-8 0h2m7 -10h2m-2 0h2m-6 -1h2m12 7h2m-3 0h2m-19 4h2m-9 -1h2m16 -1h2m-14 2h2m8 -1h2" stroke="#280c34" stroke-width="2" fill="none"/>
<path transform="scale(0.5)" d="M0 0m914 1100h2m-2 0h2m-28 3h2m-1 0h2m19 -6h2m2 1h2m-22 -6h2m-7 11h2m-4 -8h2m25 4h2m-9 3h2m-2 -6h2m1 1h2m-26 -2h2m17 0h2m-2 7h2m-5 1h2m-19 -2h2m-2 0h2m26 -1h2m-8 2h2m-23 -1h2m0 2h2m24 -4h2m-22 5h2m15 -3h2m-22 -8h2m6 11h2m9 -3h2m0 -1h2m-28 1h2m13 -8h2m-17 3h2m6 8h2m10 -2h2m-13 -10h2m16 7h2m-3 -1h2m-6 4h2m3 -4h2m-18 6h2m-12 -2h2m8 2h2m-12 -9h2m-2 7h2m17 -7h2m-3 7h2m2 -5h2m-21 6h2m-6 -7h2m24 4h2m-2 -2h2m-4 3h2m-18 3h2m-9 -9h2m22 3h2m-27 -3h2m10 9h2m6 -2h2m-1 -6h2m-19 7h2m-5 -8h2m11 9h2m9 -4h2m-1 -1h2m-5 -2h2m-1 3h2m-16 4h2m9 -8h2m1 4h2m-25 2h2m3 2h2m14 -8h2m-1 5h2m-21 2h2m13 -8h2m1 6h2m-17 3h2m9 -9h2m-6 8h2m-16 -2h2m22 -3h2m-26 -2h2m6 -3h2m-10 7h2m-2 1h2m-2 -6h2m23 3h2m-8 -3h2m-21 6h2m-2 0h2m2 -7h2m16 3h2m-23 4h2m20 -1h2m0 -1h2m-23 -5h2m8 9h2m9 -4h2m-27 -3h2m20 5h2m-24 -5h2m-1 5h2m4 3h2m-10 -7h2m22 1h2m-1 1h2m-26 1h2m-1 1h2m-1 1h2m-3 -1h2m-3 -5h2m21 4h2m-5 -4h2m-22 4h2m22 -1h2m-5 -3h2m-13 8h2m10 -7h2m-15 -4h2m9 3h2m-2 6h2m-8 1h2m-1 -9h2m-7 10h2m-5 0h2m-3 -1h2m16 -4h2m-16 5h2m7 -2h2m-8 -9h2m4 9h2m-21 -6h2m6 8h2m-10 -8h2m16 6h2m-13 -9h2m-9 4h2m-2 -1h2m21 3h2m-5 -3h2" stroke="#310d36" stroke-width="2" fill="none"/>
<path transform="scale(0.5)" d="M0 0m897 1093h2m-12 2h2m-2 6h2m1 2h2m4 1h2m0 -1h2m8 -6h2m-1 1h2m-25 -2h2m10 -3h2m-14 3h2m-1 5h2m7 3h2m0 -11h2m9 5h2m-25 2h2m3 -6h2m-7 2h2m5 7h2m5 0h2m-1 -9h2m-16 7h2m-2 0h2m-4 -3h2m13 -4h2m6 6h2m-22 2h2m18 -2h2m-9 -6h2m5 4h2m-2 2h2m-19 3h2m-2 -10h2m-6 8h2m-3 -1h2m-1 1h2m19 -2h2m-19 4h2m10 -8h2m-19 1h2m-2 1h2m-2 3h2m18 1h2m-22 -4h2m0 5h2m-2 -1h2m-4 -2h2m-1 -3h2m12 7h2m-17 -4h2m6 -6h2m1 10h2m2 -9h2m4 6h2m-23 -2h2m13 -4h2m-2 9h2m-17 -3h2m16 2h2m-10 -9h2m9 5h2m-8 -4h2m-3 9h2m-4 0h2m3 -1h2m0 -1h2m-20 -5h2m-3 1h2m19 2h2m-2 0h2m-22 2h2m3 -7h2m-8 4h2m-2 0h2m1 4h2m-5 -5h2m15 -2h2m1 2h2m-22 1h2m-2 1h2m13 4h2m0 -1h2m-18 -2h2m18 -2h2m-23 -1h2m14 5h2m-8 1h2m-11 -7h2m-3 2h2m-2 0h2m-1 2h2m-3 -1h2m-2 0h2m-1 -3h2m14 -1h2m2 4h2m-3 1h2m-6 -5h2m-18 2h2m-2 0h2m-2 2h2m-2 -1h2m8 5h2m8 -3h2" stroke="#3b0d38" stroke-width="2" fill="none"/>
<path transform="scale(0.5)" d="M0 0m906 1100h2m-11 3h2m8 -4h2m-23 -2h2m17 0h2m-20 3h2m16 -3h2m-3 -1h2m-9 7h2m-12 -3h2m3 3h2m6 0h2m-10 0h2m-3 -9h2m-2 9h2m1 0h2m-10 -5h2m-1 -2h2m17 3h2m-3 1h2m-13 -6h2m9 3h2m-21 1h2m18 2h2m-22 -2h2m-2 0h2m0 3h2m-4 -3h2m7 5h2m7 -2h2m-13 2h2m-5 -9h2m14 5h2m-7 -4h2m-14 0h2m13 6h2m0 -3h2m-16 -4h2m9 7h2m-17 -6h2m-3 4h2m-1 -3h2m3 7h2m-2 0h2m-5 -8h2m1 -1h2m-3 0h2m5 9h2m5 -4h2m-6 3h2m-16 -6h2m12 -1h2m2 3h2m-14 -4h2m-9 4h2m15 2h2m-17 -5h2m14 3h2m-3 -2h2m-13 7h2m-8 -6h2m16 3h2m-19 -4h2m6 -2h2m-11 4h2m14 -2h2m-12 7h2m9 -2h2m-2 -4h2m-19 1h2m-2 1h2m15 -2h2m-19 1h2m-2 0h2m13 -3h2m-13 7h2m5 -8h2m-8 8h2m11 -4h2m-17 4h2m12 -5h2m-12 6h2m-9 -6h2m-2 2h2m-2 0h2m12 -4h2m-12 -1h2m6 0h2m-12 7h2m10 -6h2m0 6h2m-17 0h2m15 -2h2m-18 -3h2m-2 5h2m11 -5h2m-17 2h2m1 4h2m4 -8h2m-10 6h2m12 -4h2m-1 5h2m-12 2h2m10 -5h2m-3 -1h2m-15 -3h2m-5 2h2m9 -2h2m-1 1h2m3 4h2" stroke="#440e3a" stroke-width="2" fill="none"/>
<path transform="scale(0.5)" d="M0 0m890 1102h2m-5 -4h2m-2 0h2m15 2h2m-16 2h2m10 -1h2m-14 -6h2m0 -1h2m10 6h2m-11 3h2m4 -7h2m-10 -2h2m4 1h2m3 3h2m-11 -4h2m6 3h2m-7 -3h2m-4 0h2m-5 0h2m1 8h2m6 -2h2m-9 -6h2m5 3h2m-19 2h2m10 3h2m-13 -5h2m-1 -1h2m13 2h2m-13 -4h2m4 8h2m1 -1h2m-16 -3h2m3 -4h2m4 8h2m-10 0h2m1 0h2m-4 -7h2m10 3h2m-13 -4h2m8 6h2m-2 0h2m-1 -2h2m-7 -3h2m-6 -1h2m5 2h2m-12 -1h2m1 -1h2m-9 5h2m6 -5h2m6 5h2m-4 -3h2m-8 6h2m6 -4h2m-15 3h2m8 -5h2m-7 6h2m3 -1h2m-10 1h2m8 -3h2m-9 3h2m-9 -5h2m6 -3h2m-10 6h2m6 2h2m4 -3h2m-7 3h2m-9 0h2m-3 -1h2m1 1h2m-1 -8h2m-8 4h2m5 -4h2m6 3h2m-2 3h2m-17 -1h2m0 2h2m11 -2h2m-2 -1h2m-5 -3h2" stroke="#4e0f3b" stroke-width="2" fill="none"/>
<path transform="scale(0.5)" d="M0 0m899 1102h2m-10 -7h2m-3 6h2m8 0h2m0 -1h2m-14 0h2m-2 -4h2m5 6h2m-10 -2h2m6 2h2m-7 -7h2m9 4h2m-5 2h2m-5 -6h2m-9 5h2m10 -2h2m-2 -1h2m-3 -1h2m-8 6h2m-8 -2h2m11 -3h2m-15 3h2m2 -5h2m7 4h2m-8 -4h2m-5 7h2m-1 0h2m4 -6h2m-4 5h2m1 -4h2m-1 0h2m-10 5h2m1 -7h2m-8 6h2m-4 -2h2m10 -3h2m-14 1h2m6 5h2m3 -4h2m-3 -2h2m-14 4h2m1 -5h2m-4 5h2m4 -5h2m0 0h2m-3 0h2m1 6h2m-6 -6h2m-8 5h2m-1 -4h2m-4 3h2m3 3h2m6 -4h2m-6 3h2m0 -5h2m-11 5h2m5 -6h2m-8 6h2m-2 0h2m-3 -5h2m-1 5h2m5 -6h2m-9 0h2m-5 3h2m9 2h2m-11 1h2m8 -4h2m-3 3h2m-1 -3h2m-14 2h2m1 -4h2m-5 2h2m0 4h2m9 -2h2m-15 -2h2m7 4h2m-11 -2h2m-1 -3h2m1 -1h2m-5 1h2m5 5h2m-5 1h2m3 -1h2m1 -2h2m-10 2h2m-2 -6h2m0 0h2m-8 4h2" stroke="#58103a" stroke-width="2" fill="none"/>
<path transform="scale(0.5)" d="M0 0m896 1101h2m-5 -6h2m-3 0h2m6 6h2m-1 -4h2m-13 3h2m0 -4h2m5 0h2m0 1h2m-9 -2h2m-6 5h2m-2 -3h2m5 -2h2m-1 1h2m0 1h2m-4 4h2m-1 -5h2m-11 3h2m8 -2h2m-1 1h2m-13 1h2m4 -4h2m1 1h2m0 2h2m-10 3h2m4 -1h2m0 -2h2m-4 3h2m-10 -5h2m-2 0h2m-3 3h2m9 -2h2m-13 3h2m8 0h2m-3 1h2m0 -3h2m-5 -2h2m-9 4h2m6 -4h2m-2 4h2m-9 -4h2m-1 5h2m3 -5h2m1 2h2m-2 1h2m-6 2h2m-7 -5h2m6 2h2m-3 2h2m-5 -4h2m-2 5h2m2 -3h2m-8 -2h2m-3 5h2m5 -3h2m-12 1h2m8 0h2m-9 -3h2m-4 0h2m-3 2h2m3 3h2m-7 -3h2m-2 0h2m-1 -2h2m5 4h2m-4 1h2m2 -2h2m-2 0h2m-12 0h2m8 -1h2m-2 -1h2m-10 3h2m-4 -2h2m5 -2h2" stroke="#621239" stroke-width="2" fill="none"/>
<path transform="scale(0.5)" d="M0 0m895 1101h2m-5 -1h2m-4 -2h2m-2 0h2m-2 1h2m0 1h2m6 -2h2m-6 -2h2m1 1h2m-1 1h2m-5 3h2m1 -2h2m-3 -2h2m-10 0h2m3 -1h2m-6 0h2m-2 0h2m3 4h2m-7 0h2m5 -1h2m-9 -2h2m-3 2h2m-2 0h2m2 -3h2m2 2h2m-10 1h2m-2 1h2m3 1h2m-2 0h2m-5 -5h2m4 3h2m-6 -3h2m2 2h2m-10 -1h2m6 1h2m-5 3h2m1 -4h2m-2 1h2m-2 0h2m-3 -1h2m-1 1h2m-7 -2h2m-4 4h2m4 -3h2m-4 3h2m-4 -4h2m3 3h2m-3 1h2m-6 -4h2m-5 3h2m-1 -2h2m-3 1h2m-1 -1h2m2 -1h2m-3 4h2m2 -1h2m-6 -3h2m-1 0h2m-7 3h2m6 0h2m-7 1h2m2 0h2m-8 -3h2m-3 2h2m1 -3h2m-4 3h2m-1 1h2m-1 0h2m1 0h2m-3 0h2m-4 0h2m2 -3h2m-2 0h2m-3 0h2m-5 0h2m2 0h2" stroke="#6d1338" stroke-width="2" fill="none"/>
<path transform="scale(0.5)" d="M0 0m892 1098h2m-1 -1h2m-2 3h2m-3 -1h2m1 -2h2m0 0h2m-2 3h2m-1 -1h2m-3 -2h2m-2 3h2m-4 -3h2m-4 0h2m2 3h2m-2 -1h2m-3 -2h2m-5 3h2m-3 -1h2m-2 -1h2m3 -1h2m-1 2h2m-7 -2h2m0 0h2m1 2h2m-8 -1h2m0 -1h2m0 3h2m-5 -1h2m2 -1h2m-4 -1h2m-5 1h2m-1 1h2m2 0h2m-2 -1h2m-4 -1h2m-4 1h2m1 1h2m-5 0h2m-2 0h2m2 0h2m-3 -2h2m-2 0h2m-2 2h2m-1 -1h2m-2 0h2m-3 1h2m-1 0h2m-4 -2h2m-1 0h2m-3 2h2m-2 -2h2m-4 1h2m1 0h2m-4 1h2m-2 -1h2m0 1h2m-3 0h2m-1 0h2m-2 0h2m-2 0h2m-3 0h2m-1 -1h2m-4 0h2m-2 0h2m-1 0h2m-2 1h2m-1 -1h2m-3 1h2m-2 0h2m-2 0h2m-2 -1h2m-2 0h2" stroke="#771537" stroke-width="2" fill="none"/>
<line x1="452.40" y1="490.00" x2="452.40" y2="560.90" stroke="#1f4f8f" stroke-width="1.3"/>
<line x1="434.60" y1="543.70" x2="505.70" y2="543.70" stroke="#1f4f8f" stroke-width="1.3"/>
<text x="436.90" y="505.00" font-size="6.6" textLength="21.50" lengthAdjust="spacingAndGlyphs">TEMRA</text>
<text x="483.50" y="505.00" font-size="6.6" textLength="16.90" lengthAdjust="spacingAndGlyphs">Naive</text>
<text x="437.00" y="551.20" font-size="6.6" textLength="9.00" lengthAdjust="spacingAndGlyphs">EM</text>
<text x="489.50" y="551.20" font-size="6.6" textLength="9.70" lengthAdjust="spacingAndGlyphs">CM</text></svg>
</body></html>
